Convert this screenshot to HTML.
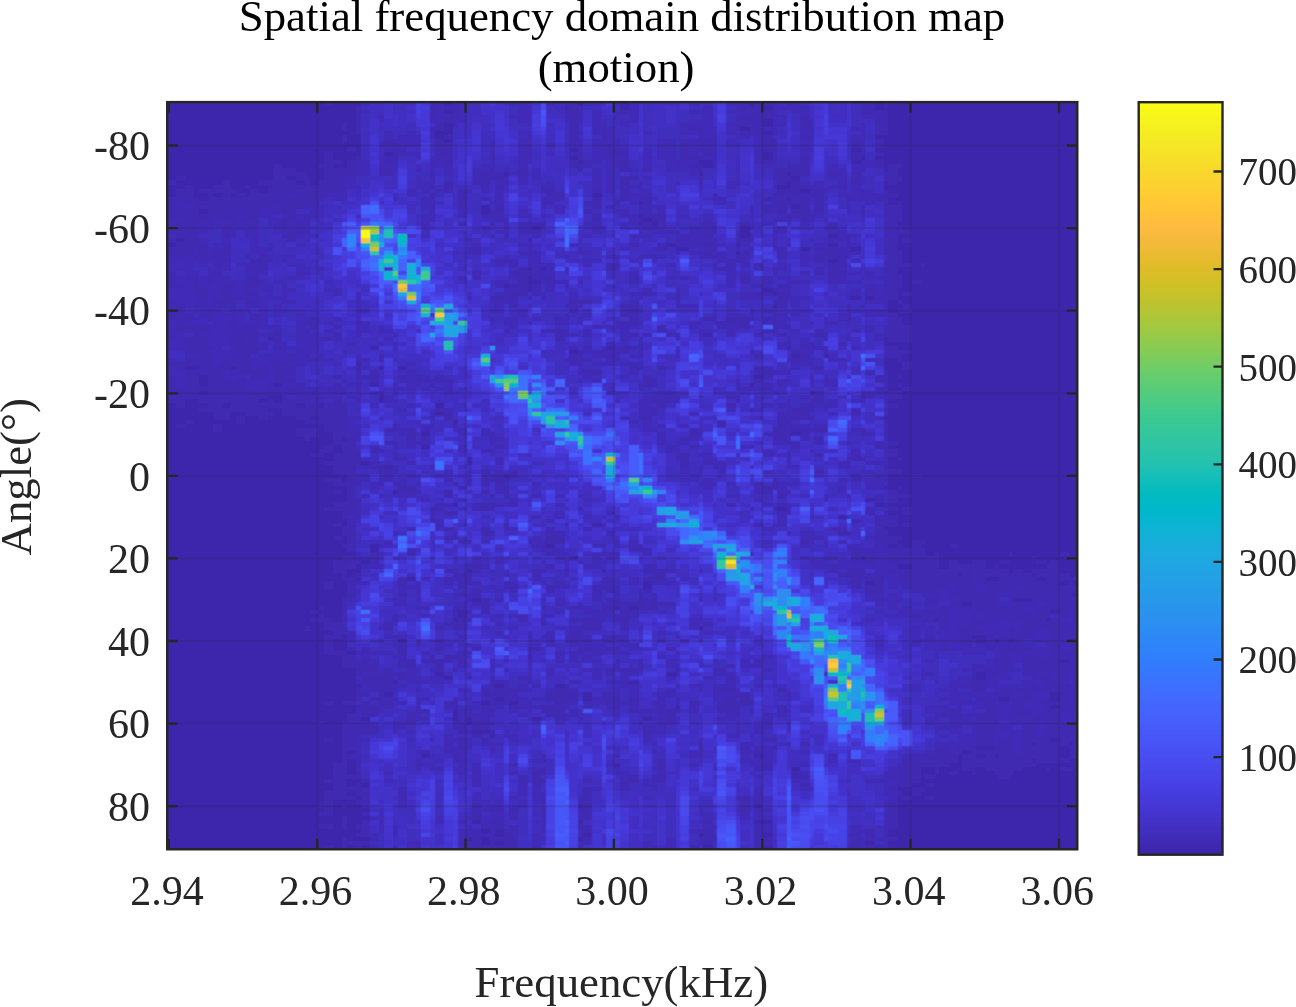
<!DOCTYPE html>
<html lang="en"><head><meta charset="utf-8"><title>Spatial frequency domain distribution map (motion)</title>
<style>html,body{margin:0;padding:0;background:#fff}body{width:1296px;height:1007px;overflow:hidden}svg{display:block}text{font-family:"Liberation Serif","Times New Roman",serif;fill:#262626}</style></head><body>
<svg width="1296" height="1007" viewBox="0 0 1296 1007">
<rect width="1296" height="1007" fill="#fff"/>
<g font-size="44.8" text-anchor="middle" style="fill:#000"><text x="622" y="30.8" style="fill:#000">Spatial frequency domain distribution map</text><text x="616.1" y="82.4" style="fill:#000">(motion)</text></g>
<clipPath id="axclip"><rect x="167.2" y="102.1" width="910.1" height="747.2"/></clipPath>
<filter id="soft" x="0" y="0" width="100%" height="100%" filterUnits="objectBoundingBox"><feConvolveMatrix order="3" kernelMatrix="0.04 0.12 0.04 0.12 0.36 0.12 0.04 0.12 0.04" edgeMode="duplicate" preserveAlpha="true"/></filter>
<g clip-path="url(#axclip)" filter="url(#soft)">
<rect x="164.2" y="99.1" width="916.1" height="753.2" fill="#3e27ac"/>
<g transform="translate(166.60 102.10) scale(4.6270 4.1282) translate(0 .5)" shape-rendering="crispEdges" fill="none" stroke-width="1.02">
<path stroke="#3f29b2" d="M34 0h2M62 0h1M86 0h3M90 0h2M124 0h2M127 0h4M134 0h1M150 0h3M155 0h1M41 1h1M57 1h1M60 1h3M87 1h2M124 1h5M151 1h2M155 1h1M41 2h1M57 2h1M62 2h1M86 2h3M98 2h2M113 2h2M127 2h4M150 2h3M155 2h1M41 3h1M57 3h1M60 3h3M87 3h3M124 3h7M137 3h2M153 3h3M41 4h1M57 4h1M60 4h2M87 4h2M123 4h6M137 4h2M153 4h3M38 5h1M41 5h1M58 5h2M87 5h2M94 5h1M111 5h2M123 5h4M137 5h2M153 5h3M38 6h1M41 6h1M57 6h3M87 6h2M94 6h1M113 6h3M127 6h2M137 6h3M153 6h3M41 7h1M87 7h2M94 7h1M115 7h1M124 7h2M127 7h2M131 7h1M139 7h1M153 7h3M38 8h1M60 8h2M78 8h1M87 8h2M94 8h1M115 8h1M118 8h1M129 8h2M137 8h2M38 9h1M47 9h2M58 9h2M87 9h2M94 9h1M111 9h2M115 9h4M129 9h3M148 9h2M47 10h5M58 10h4M78 10h1M87 10h2M111 10h2M115 10h1M129 10h2M148 10h2M153 10h2M39 11h2M49 11h3M58 11h4M78 11h1M95 11h3M111 11h2M115 11h4M129 11h3M137 11h2M34 12h2M49 12h1M58 12h4M70 12h1M78 12h1M87 12h3M95 12h5M111 12h2M116 12h2M148 12h3M34 13h2M41 13h1M49 13h1M70 13h1M89 13h1M111 13h5M137 13h2M148 13h2M34 14h4M39 14h3M47 14h3M60 14h2M87 14h2M97 14h3M129 14h2M137 14h2M153 14h2M23 15h2M33 15h3M39 15h2M57 15h1M87 15h3M98 15h2M110 15h1M113 15h3M134 15h5M150 15h1M153 15h2M156 15h3M23 16h5M34 16h7M47 16h2M70 16h1M73 16h1M76 16h2M89 16h1M98 16h2M103 16h2M115 16h1M123 16h1M132 16h7M150 16h1M156 16h2M23 17h7M34 17h7M47 17h2M68 17h2M76 17h2M131 17h3M135 17h4M143 17h2M148 17h2M155 17h3M2 18h2M23 18h3M28 18h3M34 18h4M57 18h1M68 18h2M71 18h2M98 18h4M115 18h1M132 18h3M148 18h3M155 18h4M0 19h2M12 19h2M20 19h8M30 19h1M33 19h6M60 19h2M66 19h4M73 19h1M98 19h2M115 19h1M132 19h2M135 19h2M148 19h2M156 19h2M4 20h2M10 20h4M17 20h1M22 20h17M57 20h1M60 20h2M68 20h2M71 20h2M81 20h1M131 20h1M135 20h4M145 20h2M2 21h4M7 21h8M18 21h2M22 21h16M52 21h2M81 21h3M92 21h2M98 21h2M132 21h5M139 21h3M150 21h1M155 21h1M2 22h4M9 22h1M12 22h2M15 22h2M18 22h8M28 22h6M57 22h1M63 22h2M82 22h4M98 22h2M118 22h1M131 22h6M139 22h3M155 22h3M0 23h7M9 23h3M14 23h19M63 23h2M68 23h2M92 23h2M98 23h2M102 23h3M118 23h3M129 23h3M137 23h2M140 23h2M147 23h1M150 23h1M153 23h3M0 24h2M4 24h29M63 24h2M81 24h3M92 24h2M97 24h1M103 24h2M132 24h3M137 24h2M140 24h2M155 24h1M158 24h1M0 25h4M6 25h17M25 25h6M57 25h1M63 25h2M71 25h2M92 25h2M102 25h1M129 25h2M132 25h2M137 25h2M140 25h2M155 25h4M0 26h7M9 26h11M25 26h3M57 26h1M70 26h3M103 26h2M129 26h2M132 26h2M135 26h4M140 26h2M150 26h1M155 26h4M0 27h15M17 27h3M26 27h2M30 27h3M57 27h1M68 27h2M92 27h2M98 27h2M103 27h5M134 27h6M155 27h4M0 28h2M4 28h6M12 28h8M25 28h3M30 28h1M71 28h2M92 28h2M102 28h1M105 28h3M132 28h3M137 28h2M142 28h1M156 28h3M2 29h5M9 29h1M14 29h1M23 29h3M28 29h2M63 29h2M70 29h1M76 29h3M81 29h1M103 29h2M116 29h2M124 29h2M143 29h2M156 29h2M2 30h5M12 30h2M25 30h1M68 30h2M92 30h2M103 30h2M132 30h2M142 30h3M156 30h3M0 31h2M4 31h3M12 31h2M26 31h5M76 31h5M110 31h1M115 31h1M118 31h1M131 31h3M156 31h5M2 32h4M12 32h2M25 32h3M70 32h1M73 32h1M111 32h2M116 32h2M123 32h1M126 32h1M147 32h1M155 32h1M0 33h2M4 33h3M26 33h2M110 33h1M118 33h1M123 33h4M131 33h1M147 33h1M155 33h3M159 33h2M2 34h7M12 34h2M66 34h2M76 34h2M100 34h2M113 34h2M116 34h3M131 34h1M134 34h1M147 34h1M156 34h2M0 35h6M7 35h2M10 35h4M65 35h3M78 35h1M89 35h1M106 35h2M118 35h1M126 35h1M132 35h2M140 35h7M155 35h3M0 36h6M7 36h2M12 36h2M66 36h2M76 36h2M89 36h1M116 36h2M124 36h2M132 36h2M142 36h3M147 36h1M155 36h4M0 37h4M6 37h3M10 37h2M17 37h1M20 37h2M97 37h1M102 37h1M105 37h1M116 37h3M123 37h3M132 37h2M140 37h2M143 37h4M156 37h3M0 38h2M7 38h2M12 38h2M18 38h4M71 38h2M78 38h1M119 38h2M140 38h2M145 38h2M155 38h4M10 39h2M17 39h1M20 39h2M74 39h2M79 39h2M95 39h3M118 39h1M121 39h2M127 39h2M143 39h4M156 39h5M163 39h1M17 40h5M76 40h2M95 40h2M119 40h4M143 40h2M155 40h3M0 41h2M10 41h2M28 41h2M74 41h8M137 41h2M140 41h2M143 41h4M151 41h2M156 41h2M0 42h2M4 42h3M9 42h1M17 42h3M66 42h2M76 42h2M81 42h3M100 42h2M111 42h2M124 42h2M134 42h1M143 42h2M155 42h4M0 43h2M6 43h1M9 43h1M18 43h4M73 43h1M76 43h2M82 43h2M100 43h2M124 43h2M129 43h2M135 43h2M143 43h2M156 43h3M161 43h2M0 44h4M6 44h1M12 44h3M17 44h3M25 44h1M74 44h4M79 44h2M86 44h1M127 44h2M132 44h2M155 44h4M6 45h3M12 45h2M17 45h1M26 45h2M36 45h2M76 45h2M79 45h2M110 45h1M131 45h1M151 45h2M155 45h3M6 46h3M12 46h2M17 46h3M25 46h1M74 46h4M103 46h2M110 46h1M127 46h4M132 46h3M156 46h2M159 46h2M7 47h2M12 47h6M23 47h2M41 47h1M70 47h3M74 47h2M78 47h1M110 47h1M132 47h2M153 47h2M156 47h2M0 48h2M7 48h2M10 48h5M17 48h3M26 48h2M41 48h1M87 48h5M110 48h1M131 48h3M158 48h1M0 49h4M6 49h3M10 49h5M18 49h2M74 49h2M86 49h1M98 49h4M110 49h1M132 49h2M150 49h1M159 49h2M0 50h4M9 50h1M14 50h1M41 50h1M100 50h2M126 50h1M147 50h1M153 50h2M158 50h3M0 51h2M4 51h2M7 51h3M18 51h2M98 51h2M131 51h1M135 51h2M153 51h2M156 51h2M0 52h6M9 52h1M14 52h1M18 52h2M31 52h2M74 52h2M84 52h2M89 52h1M100 52h2M116 52h3M121 52h6M147 52h1M156 52h3M2 53h2M14 53h1M31 53h2M41 53h1M78 53h1M98 53h4M121 53h2M124 53h2M131 53h1M142 53h1M156 53h3M2 54h7M14 54h1M17 54h3M31 54h2M92 54h2M98 54h2M106 54h2M119 54h2M123 54h3M131 54h1M156 54h5M0 55h10M15 55h3M23 55h2M30 55h1M82 55h4M106 55h2M129 55h2M148 55h2M155 55h6M0 56h2M6 56h1M14 56h6M22 56h3M36 56h2M84 56h3M100 56h2M110 56h1M132 56h2M140 56h3M153 56h8M0 57h2M4 57h5M14 57h3M18 57h2M23 57h2M34 57h2M84 57h2M134 57h1M147 57h1M156 57h5M4 58h5M14 58h8M31 58h2M46 58h1M134 58h1M137 58h3M4 59h6M15 59h5M23 59h2M98 59h2M155 59h3M4 60h5M14 60h6M28 60h2M89 60h1M98 60h2M110 60h1M126 60h1M135 60h2M142 60h1M155 60h6M7 61h3M14 61h4M26 61h2M30 61h1M33 61h1M87 61h2M94 61h3M102 61h1M127 61h2M137 61h2M155 61h4M4 62h6M12 62h2M15 62h3M22 62h1M26 62h4M31 62h2M41 62h1M46 62h1M87 62h5M135 62h2M145 62h2M158 62h1M0 63h10M12 63h6M23 63h3M89 63h1M100 63h2M139 63h1M159 63h2M2 64h2M7 64h7M15 64h3M20 64h2M23 64h2M26 64h2M41 64h1M100 64h2M106 64h2M127 64h2M140 64h2M159 64h2M4 65h3M9 65h3M14 65h8M23 65h5M41 65h1M44 65h2M92 65h2M129 65h3M134 65h1M151 65h2M155 65h1M0 66h2M4 66h3M9 66h3M18 66h4M23 66h3M42 66h4M50 66h2M54 66h1M58 66h2M103 66h2M153 66h2M158 66h1M0 67h2M4 67h3M9 67h5M15 67h2M23 67h5M44 67h2M54 67h1M103 67h3M127 67h2M153 67h2M0 68h2M4 68h3M9 68h8M18 68h2M22 68h1M28 68h2M41 68h1M57 68h1M103 68h2M123 68h1M158 68h1M0 69h17M22 69h3M26 69h4M41 69h1M123 69h1M153 69h2M159 69h2M0 70h7M9 70h6M17 70h8M26 70h4M31 70h2M36 70h2M46 70h1M140 70h2M150 70h1M155 70h4M2 71h20M25 71h1M30 71h4M108 71h2M121 71h2M140 71h2M151 71h2M155 71h4M0 72h4M7 72h13M22 72h1M25 72h6M36 72h2M41 72h1M102 72h1M105 72h3M110 72h1M123 72h1M140 72h2M155 72h1M2 73h2M9 73h3M14 73h14M30 73h3M36 73h3M106 73h2M121 73h2M137 73h3M156 73h2M7 74h15M25 74h14M58 74h2M105 74h1M135 74h4M148 74h2M155 74h1M10 75h4M17 75h6M25 75h14M60 75h2M105 75h1M137 75h2M148 75h2M155 75h1M10 76h4M15 76h2M20 76h2M28 76h3M33 76h6M57 76h1M60 76h2M103 76h2M132 76h2M135 76h5M4 77h2M15 77h2M30 77h9M119 77h2M132 77h3M155 77h1M2 78h2M10 78h2M34 78h5M41 78h1M49 78h1M62 78h1M111 78h2M119 78h2M132 78h2M10 79h2M28 79h5M34 79h5M47 79h3M52 79h2M63 79h2M113 79h2M131 79h3M135 79h4M140 79h3M150 79h1M155 79h1M28 80h5M36 80h3M41 80h1M52 80h2M68 80h2M113 80h2M132 80h2M150 80h1M155 80h1M30 81h1M36 81h2M39 81h2M52 81h2M55 81h2M111 81h2M131 81h3M140 81h2M155 81h1M36 82h5M54 82h1M134 82h3M147 82h1M153 82h2M156 82h2M34 83h2M38 83h3M71 83h2M108 83h2M113 83h2M153 83h3M33 84h3M38 84h3M44 84h2M68 84h2M155 84h3M31 85h3M36 85h2M39 85h3M110 85h3M115 85h1M129 85h2M140 85h2M156 85h2M36 86h6M49 86h1M111 86h2M134 86h1M148 86h2M158 86h1M34 87h8M111 87h2M116 87h2M36 88h5M44 88h3M49 88h1M111 88h2M115 88h1M118 88h1M36 89h5M46 89h1M49 89h1M68 89h2M74 89h2M140 89h2M150 89h1M156 89h3M39 90h2M47 90h2M52 90h2M71 90h2M74 90h2M148 90h2M153 90h2M161 90h2M34 91h4M39 91h3M65 91h1M68 91h6M131 91h1M148 91h2M155 91h1M36 92h6M46 92h1M62 92h1M68 92h2M71 92h2M127 92h2M131 92h1M39 93h2M50 93h4M73 93h1M129 93h3M158 93h1M36 94h2M39 94h2M52 94h2M60 94h2M68 94h2M73 94h1M129 94h2M156 94h2M39 95h2M60 95h2M70 95h1M79 95h2M132 95h2M153 95h2M156 95h5M39 96h3M55 96h2M156 96h2M36 97h6M68 97h3M74 97h2M121 97h2M132 97h2M155 97h1M34 98h7M57 98h3M66 98h4M89 98h1M156 98h2M159 98h2M38 99h3M57 99h1M60 99h3M134 99h1M151 99h2M155 99h1M159 99h2M38 100h1M41 100h1M79 100h2M139 100h1M153 100h5M39 101h2M57 101h1M148 101h2M153 101h5M36 102h2M39 102h2M58 102h2M73 102h1M153 102h5M159 102h2M38 103h3M52 103h2M60 103h2M68 103h2M73 103h1M143 103h4M38 104h3M68 104h2M82 104h2M145 104h3M153 104h3M36 105h2M39 105h2M60 105h3M82 105h4M139 105h3M153 105h6M39 106h2M63 106h2M82 106h4M137 106h2M153 106h5M161 106h3M38 107h3M81 107h1M94 107h1M147 107h1M155 107h1M158 107h1M161 107h2M169 107h2M52 108h2M100 108h2M148 108h3M155 108h9M44 109h2M52 109h2M82 109h2M94 109h1M148 109h2M151 109h2M156 109h8M166 109h1M182 109h1M193 109h2M38 110h3M44 110h2M148 110h2M151 110h4M156 110h11M187 110h1M36 111h5M44 111h2M71 111h2M89 111h1M139 111h1M148 111h2M151 111h2M156 111h11M169 111h2M174 111h3M180 111h2M188 111h2M191 111h2M36 112h3M65 112h3M82 112h2M90 112h2M105 112h1M143 112h2M161 112h6M169 112h8M179 112h1M190 112h3M36 113h3M60 113h2M79 113h2M86 113h1M103 113h2M106 113h4M147 113h4M156 113h18M175 113h7M183 113h2M187 113h6M38 114h1M41 114h1M62 114h4M79 114h2M86 114h1M105 114h3M145 114h5M153 114h2M158 114h5M164 114h2M167 114h4M172 114h2M175 114h12M188 114h7M38 115h3M50 115h2M60 115h2M65 115h1M94 115h3M103 115h5M148 115h2M151 115h4M158 115h16M175 115h2M180 115h8M190 115h8M34 116h2M39 116h3M50 116h2M63 116h5M73 116h1M94 116h3M105 116h1M148 116h2M153 116h2M159 116h4M164 116h29M195 116h1M34 117h2M63 117h2M74 117h2M82 117h4M94 117h1M148 117h2M151 117h4M159 117h10M171 117h4M177 117h6M185 117h13M39 118h2M54 118h1M66 118h2M92 118h2M95 118h3M151 118h4M161 118h6M169 118h6M177 118h21M39 119h2M50 119h2M63 119h2M66 119h2M102 119h1M166 119h1M169 119h10M182 119h14M38 120h1M68 120h2M95 120h3M102 120h1M105 120h1M153 120h2M164 120h3M171 120h9M182 120h1M187 120h11M38 121h1M66 121h4M84 121h2M97 121h6M105 121h5M164 121h2M169 121h3M174 121h5M183 121h5M190 121h8M33 122h1M38 122h1M62 122h1M68 122h2M89 122h1M94 122h3M102 122h4M167 122h2M172 122h2M175 122h7M183 122h2M187 122h11M31 123h2M62 123h1M65 123h1M68 123h2M94 123h1M98 123h4M164 123h5M175 123h12M188 123h3M193 123h2M196 123h2M33 124h1M38 124h1M62 124h1M76 124h2M81 124h1M98 124h2M161 124h5M167 124h2M174 124h1M177 124h5M183 124h8M193 124h2M31 125h5M38 125h1M49 125h1M63 125h2M87 125h2M90 125h4M97 125h3M164 125h2M167 125h2M174 125h6M182 125h8M191 125h2M196 125h2M34 126h4M47 126h2M60 126h5M81 126h1M90 126h2M116 126h2M167 126h2M174 126h3M179 126h1M185 126h10M196 126h2M30 127h1M34 127h5M46 127h3M58 127h2M62 127h1M89 127h5M98 127h2M167 127h2M171 127h4M182 127h1M185 127h11M38 128h1M87 128h3M171 128h6M179 128h1M182 128h6M191 128h7M34 129h4M49 129h1M78 129h1M87 129h3M95 129h2M110 129h1M164 129h2M172 129h2M177 129h2M180 129h7M191 129h7M34 130h2M46 130h1M58 130h2M78 130h1M82 130h2M87 130h2M90 130h2M95 130h2M98 130h2M106 130h2M161 130h2M164 130h2M171 130h4M177 130h2M180 130h2M183 130h2M190 130h6M34 131h2M50 131h2M54 131h1M87 131h2M167 131h2M172 131h2M177 131h2M180 131h5M191 131h7M34 132h2M39 132h2M42 132h2M50 132h2M58 132h2M66 132h2M79 132h2M89 132h3M95 132h3M108 132h2M167 132h2M177 132h2M180 132h7M191 132h2M195 132h3M34 133h5M42 133h2M50 133h2M89 133h1M92 133h2M180 133h2M183 133h2M191 133h7M38 134h3M57 134h1M60 134h5M87 134h2M90 134h2M180 134h2M185 134h3M190 134h8M38 135h3M42 135h2M50 135h4M57 135h3M63 135h2M78 135h1M118 135h1M127 135h2M179 135h3M185 135h8M195 135h3M38 136h8M50 136h4M58 136h2M78 136h1M102 136h1M115 136h1M121 136h2M126 136h1M174 136h3M179 136h3M185 136h13M41 137h5M47 137h2M58 137h2M62 137h1M95 137h2M98 137h5M110 137h1M118 137h1M174 137h1M177 137h6M185 137h5M191 137h7M41 138h1M47 138h2M50 138h2M78 138h1M95 138h2M110 138h1M118 138h1M164 138h2M174 138h1M177 138h3M185 138h3M190 138h1M193 138h2M196 138h2M42 139h7M50 139h2M65 139h1M70 139h1M76 139h3M116 139h2M121 139h2M174 139h1M177 139h2M187 139h4M193 139h2M42 140h4M47 140h2M54 140h1M70 140h1M87 140h2M98 140h2M174 140h3M190 140h3M44 141h5M70 141h1M86 141h1M100 141h2M110 141h1M172 141h5M187 141h1M190 141h5M44 142h5M68 142h2M71 142h2M74 142h4M84 142h2M119 142h4M132 142h2M174 142h3M180 142h10M191 142h4M41 143h3M46 143h1M68 143h6M82 143h7M94 143h1M123 143h3M179 143h4M185 143h2M193 143h2M196 143h2M41 144h1M44 144h3M70 144h1M73 144h3M79 144h2M82 144h4M87 144h2M95 144h3M100 144h2M106 144h2M121 144h2M124 144h2M171 144h1M175 144h5M182 144h5M190 144h1M193 144h2M196 144h2M34 145h2M38 145h3M42 145h2M46 145h3M54 145h1M60 145h3M70 145h4M78 145h1M84 145h3M95 145h3M100 145h2M113 145h2M121 145h2M124 145h3M172 145h2M177 145h2M180 145h2M183 145h2M188 145h7M196 145h2M41 146h5M47 146h2M60 146h3M68 146h2M74 146h2M79 146h5M86 146h1M90 146h2M97 146h1M106 146h2M119 146h5M171 146h1M177 146h3M183 146h2M190 146h1M193 146h5M42 147h4M54 147h3M63 147h3M68 147h3M81 147h5M87 147h2M100 147h2M103 147h2M106 147h5M119 147h5M132 147h2M166 147h1M169 147h3M177 147h3M182 147h5M190 147h6M39 148h2M42 148h4M52 148h2M65 148h1M82 148h4M108 148h2M166 148h6M175 148h5M183 148h4M188 148h2M191 148h2M39 149h2M84 149h2M108 149h2M166 149h1M169 149h3M175 149h5M182 149h1M187 149h6M33 150h1M38 150h3M42 150h2M49 150h1M52 150h2M66 150h5M102 150h1M129 150h2M175 150h5M187 150h1M190 150h5M196 150h2M38 151h8M49 151h1M62 151h3M66 151h2M103 151h2M167 151h4M175 151h4M180 151h2M185 151h3M190 151h8M38 152h8M63 152h3M70 152h1M103 152h2M123 152h1M175 152h4M182 152h1M185 152h3M190 152h8M38 153h3M66 153h2M123 153h1M175 153h4M182 153h1M185 153h3M190 153h5M196 153h2M34 154h2M38 154h4M63 154h3M68 154h2M115 154h1M129 154h3M175 154h4M180 154h3M185 154h6M193 154h5M38 155h3M60 155h2M63 155h3M115 155h1M134 155h1M137 155h2M175 155h8M185 155h2M188 155h7M196 155h2M38 156h3M63 156h2M70 156h1M115 156h1M124 156h2M131 156h1M166 156h3M171 156h4M179 156h4M185 156h8M195 156h3M38 157h1M55 157h2M60 157h2M115 157h1M127 157h2M166 157h3M171 157h1M174 157h9M185 157h8M195 157h3M38 158h4M62 158h1M97 158h1M115 158h1M164 158h7M172 158h3M177 158h2M180 158h13M195 158h3M38 159h1M41 159h1M54 159h1M62 159h1M81 159h1M115 159h1M159 159h12M172 159h15M188 159h7M36 160h3M41 160h1M54 160h1M106 160h2M129 160h2M159 160h10M172 160h16M36 161h3M54 161h1M58 161h2M81 161h1M129 161h2M158 161h5M166 161h1M172 161h3M177 161h8M190 161h1M193 161h3M36 162h3M41 162h1M66 162h2M74 162h2M79 162h3M135 162h2M158 162h5M166 162h1M169 162h2M174 162h1M179 162h4M36 163h6M76 163h2M79 163h2M100 163h2M105 163h3M135 163h4M156 163h7M164 163h2M180 163h2M34 164h5M42 164h2M66 164h2M76 164h2M79 164h3M90 164h2M100 164h2M105 164h1M158 164h5M36 165h3M41 165h1M79 165h2M98 165h2M105 165h1M137 165h2M158 165h3M164 165h2M36 166h6M90 166h2M156 166h2M161 166h3M34 167h5M41 167h3M50 167h2M81 167h1M90 167h2M127 167h2M158 167h1M161 167h2M34 168h7M42 168h2M50 168h2M81 168h1M89 168h3M123 168h3M127 168h2M159 168h2M164 168h2M34 169h2M41 169h3M81 169h1M89 169h1M124 169h2M127 169h2M156 169h2M33 170h3M38 170h1M66 170h2M90 170h2M124 170h2M156 170h2M34 171h2M66 171h2M70 171h3M74 171h2M81 171h1M90 171h2M115 171h1M124 171h2M127 171h2M156 171h2M33 172h3M42 172h2M66 172h2M81 172h1M90 172h2M124 172h2M156 172h2M38 173h1M66 173h2M71 173h2M74 173h2M89 173h3M156 173h2M38 174h1M42 174h2M70 174h3M116 174h2M156 174h2M33 175h3M38 175h1M41 175h1M68 175h5M74 175h2M81 175h1M89 175h3M127 175h2M156 175h2M42 176h2M65 176h3M74 176h2M90 176h2M115 176h3M127 176h2M151 176h2M41 177h1M65 177h3M70 177h1M73 177h1M89 177h1M116 177h2M127 177h2M148 177h2M151 177h2M38 178h1M44 178h2M66 178h2M70 178h6M90 178h2M115 178h3M127 178h4M156 178h2M38 179h3M42 179h2M54 179h1M63 179h5M70 179h1M73 179h3M115 179h3M127 179h4M148 179h2M34 180h2M38 180h1M41 180h1M54 180h1M65 180h11M79 180h2M89 180h1M113 180h2M127 180h2M148 180h2M151 180h4"/>
<path stroke="#402bb7" d="M42 0h2M57 0h3M63 0h2M74 0h4M82 0h2M92 0h2M97 0h1M100 0h2M113 0h2M121 0h3M131 0h1M135 0h2M58 1h2M63 1h2M76 1h3M84 1h2M89 1h1M100 1h2M116 1h2M123 1h1M131 1h8M150 1h1M42 2h2M58 2h2M63 2h2M76 2h3M89 2h1M92 2h2M97 2h1M100 2h2M115 2h3M121 2h6M131 2h1M135 2h4M153 2h2M46 3h1M58 3h2M63 3h2M74 3h5M86 3h1M92 3h2M97 3h1M100 3h2M116 3h2M123 3h1M131 3h3M150 3h3M46 4h1M58 4h2M62 4h3M76 4h3M86 4h1M89 4h1M92 4h3M98 4h4M113 4h5M131 4h3M139 4h1M62 5h1M78 5h1M92 5h2M98 5h2M113 5h5M121 5h2M127 5h2M131 5h3M139 5h1M150 5h1M92 6h2M95 6h2M111 6h2M116 6h3M121 6h3M126 6h1M129 6h3M148 6h3M47 7h2M52 7h2M57 7h1M76 7h3M89 7h1M92 7h2M95 7h2M103 7h2M111 7h4M116 7h3M121 7h3M126 7h1M137 7h2M150 7h1M47 8h2M50 8h5M57 8h1M95 8h2M116 8h2M123 8h3M127 8h2M139 8h1M148 8h3M49 9h6M70 9h1M76 9h3M89 9h1M92 9h2M95 9h3M106 9h4M113 9h2M121 9h2M127 9h2M137 9h3M150 9h1M153 9h2M46 10h1M52 10h3M70 10h1M76 10h2M82 10h2M89 10h1M92 10h6M106 10h4M113 10h2M116 10h3M121 10h3M127 10h2M131 10h1M137 10h2M150 10h1M47 11h2M70 11h1M76 11h2M89 11h1M92 11h3M98 11h2M103 11h2M106 11h4M113 11h2M127 11h2M139 11h1M150 11h1M50 12h5M76 12h2M82 12h2M92 12h3M103 12h2M106 12h4M113 12h2M118 12h1M127 12h2M131 12h1M137 12h2M153 12h2M46 13h3M54 13h1M57 13h5M76 13h3M92 13h8M103 13h2M106 13h4M116 13h3M123 13h1M127 13h2M131 13h1M42 14h2M46 14h1M57 14h3M70 14h1M76 14h3M90 14h4M95 14h2M103 14h2M108 14h7M118 14h1M123 14h1M127 14h2M131 14h1M134 14h1M150 14h3M41 15h3M46 15h4M54 15h1M58 15h4M68 15h3M76 15h2M90 15h2M95 15h3M103 15h2M108 15h2M111 15h2M118 15h1M123 15h1M129 15h3M143 15h2M148 15h2M151 15h2M41 16h3M46 16h1M49 16h1M54 16h1M57 16h1M60 16h2M66 16h4M79 16h2M92 16h2M95 16h2M100 16h2M108 16h7M131 16h1M143 16h4M148 16h2M41 17h3M46 17h1M57 17h1M60 17h2M66 17h2M70 17h3M74 17h2M79 17h2M92 17h2M95 17h2M113 17h2M123 17h1M145 17h2M38 18h3M54 18h1M66 18h2M70 18h1M73 18h1M76 18h2M79 18h2M92 18h2M95 18h2M103 18h2M123 18h1M131 18h1M143 18h4M39 19h2M54 19h4M71 19h2M76 19h2M82 19h2M92 19h2M95 19h2M102 19h1M110 19h1M121 19h3M137 19h2M140 19h2M145 19h2M150 19h1M39 20h3M54 20h3M82 20h2M92 20h2M95 20h2M98 20h5M115 20h1M121 20h2M139 20h3M143 20h2M148 20h2M38 21h1M41 21h1M55 21h2M58 21h4M63 21h3M68 21h2M71 21h2M95 21h2M102 21h3M142 21h1M145 21h2M148 21h2M151 21h2M26 22h2M34 22h5M52 22h2M71 22h2M100 22h5M137 22h2M145 22h10M12 23h2M33 23h1M36 23h3M49 23h1M55 23h3M71 23h2M81 23h5M100 23h2M132 23h2M135 23h2M139 23h1M142 23h1M148 23h2M151 23h2M2 24h2M55 24h3M70 24h3M90 24h2M100 24h2M119 24h2M131 24h1M135 24h2M147 24h1M151 24h2M4 25h2M23 25h2M31 25h3M55 25h2M81 25h1M84 25h2M95 25h2M103 25h5M126 25h1M131 25h1M147 25h1M150 25h1M20 26h5M31 26h3M63 26h2M76 26h2M84 26h2M90 26h2M97 26h3M102 26h1M106 26h2M126 26h1M131 26h1M147 26h1M15 27h2M20 27h3M25 27h1M28 27h2M33 27h1M55 27h2M63 27h2M70 27h3M76 27h3M81 27h1M100 27h2M110 27h3M116 27h2M126 27h1M132 27h2M140 27h2M150 27h1M2 28h2M10 28h2M22 28h3M28 28h2M55 28h3M70 28h1M73 28h1M100 28h2M116 28h2M131 28h1M139 28h1M155 28h1M0 29h2M7 29h2M10 29h4M15 29h5M22 29h1M26 29h2M30 29h1M33 29h1M55 29h2M73 29h1M79 29h2M90 29h4M98 29h4M106 29h2M110 29h1M115 29h1M118 29h1M126 29h1M129 29h2M137 29h2M155 29h1M0 30h2M7 30h3M14 30h6M23 30h2M26 30h5M55 30h2M73 30h1M76 30h3M81 30h1M94 30h1M105 30h3M113 30h6M126 30h1M155 30h1M2 31h2M7 31h2M14 31h1M17 31h3M23 31h3M71 31h3M92 31h2M102 31h1M105 31h5M113 31h2M116 31h2M123 31h1M143 31h4M155 31h1M6 32h1M14 32h1M17 32h3M28 32h2M31 32h2M55 32h2M79 32h2M90 32h2M100 32h5M110 32h1M113 32h3M131 32h1M145 32h2M148 32h2M156 32h2M7 33h2M12 33h2M18 33h2M30 33h1M65 33h1M111 33h7M139 33h1M142 33h5M10 34h2M18 34h2M22 34h1M28 34h2M78 34h1M87 34h2M106 34h2M110 34h3M115 34h1M119 34h2M124 34h2M140 34h3M148 34h2M155 34h1M6 35h1M9 35h1M18 35h5M98 35h2M105 35h1M115 35h3M123 35h1M131 35h1M147 35h1M6 36h1M9 36h3M18 36h4M62 36h1M65 36h1M78 36h3M90 36h2M110 36h1M113 36h3M119 36h2M137 36h2M140 36h2M145 36h2M148 36h2M4 37h2M9 37h1M12 37h2M22 37h1M25 37h3M73 37h1M78 37h3M86 37h1M95 37h2M103 37h2M106 37h2M115 37h1M119 37h2M137 37h2M142 37h1M2 38h5M9 38h3M22 38h1M25 38h1M73 38h3M79 38h2M87 38h2M90 38h4M100 38h2M105 38h1M121 38h5M137 38h2M142 38h1M148 38h2M0 39h6M7 39h2M12 39h2M15 39h2M18 39h2M26 39h4M71 39h2M78 39h1M81 39h3M90 39h2M108 39h2M124 39h2M132 39h2M137 39h2M142 39h1M155 39h1M0 40h6M9 40h5M28 40h3M33 40h1M79 40h2M82 40h2M86 40h1M97 40h1M118 40h1M127 40h2M131 40h3M140 40h2M145 40h2M150 40h1M4 41h3M9 41h1M17 41h5M30 41h1M66 41h2M82 41h2M100 41h2M121 41h2M124 41h2M131 41h1M147 41h3M155 41h1M2 42h2M7 42h2M10 42h4M26 42h4M63 42h2M74 42h2M79 42h2M108 42h2M121 42h2M129 42h2M132 42h2M145 42h2M150 42h5M2 43h4M7 43h2M10 43h8M23 43h3M34 43h2M71 43h2M81 43h1M84 43h3M89 43h1M121 43h2M134 43h1M137 43h2M145 43h5M155 43h1M4 44h2M7 44h5M15 44h2M20 44h3M71 44h2M82 44h2M121 44h2M126 44h1M129 44h2M134 44h1M151 44h4M0 45h6M9 45h3M14 45h3M18 45h5M25 45h1M34 45h2M73 45h3M82 45h2M103 45h2M132 45h3M148 45h2M153 45h2M0 46h6M9 46h3M14 46h3M22 46h1M36 46h2M41 46h1M71 46h3M79 46h3M87 46h2M100 46h3M105 46h1M124 46h3M142 46h1M147 46h3M151 46h5M0 47h7M9 47h3M18 47h5M25 47h1M65 47h1M73 47h1M81 47h1M87 47h2M102 47h1M124 47h5M134 47h5M147 47h1M155 47h1M2 48h5M9 48h1M20 48h2M25 48h1M70 48h6M100 48h2M135 48h2M151 48h5M4 49h2M9 49h1M17 49h1M20 49h2M23 49h2M41 49h1M71 49h2M78 49h1M87 49h3M111 49h4M135 49h2M147 49h1M155 49h1M6 50h3M10 50h2M15 50h3M20 50h2M23 50h3M42 50h2M70 50h3M76 50h2M87 50h2M98 50h2M102 50h1M129 50h3M137 50h2M148 50h2M151 50h2M155 50h1M2 51h2M10 51h7M20 51h2M23 51h2M28 51h2M41 51h1M76 51h2M86 51h1M90 51h2M100 51h2M118 51h1M121 51h3M126 51h1M132 51h2M145 51h3M151 51h2M155 51h1M6 52h3M10 52h4M15 52h2M20 52h2M28 52h3M36 52h2M41 52h1M70 52h1M73 52h1M79 52h2M86 52h1M129 52h6M142 52h1M145 52h2M0 53h2M4 53h5M10 53h4M15 53h7M28 53h3M34 53h2M42 53h2M70 53h1M73 53h3M84 53h3M89 53h1M97 53h1M102 53h1M113 53h3M118 53h3M123 53h1M129 53h2M132 53h2M139 53h1M143 53h2M147 53h1M0 54h2M9 54h5M15 54h2M20 54h5M28 54h2M36 54h2M41 54h3M46 54h1M74 54h2M95 54h3M100 54h2M113 54h2M121 54h2M132 54h3M151 54h2M155 54h1M10 55h5M18 55h2M28 55h2M34 55h2M41 55h3M46 55h3M73 55h1M81 55h1M86 55h1M90 55h2M98 55h2M115 55h3M121 55h2M131 55h1M135 55h2M140 55h2M151 55h2M2 56h2M7 56h7M20 56h2M28 56h5M41 56h1M49 56h1M87 56h2M90 56h2M98 56h2M103 56h2M108 56h2M115 56h1M121 56h2M127 56h2M131 56h1M139 56h1M147 56h1M2 57h2M9 57h5M17 57h1M28 57h6M36 57h2M47 57h2M98 57h2M102 57h1M110 57h1M115 57h1M137 57h2M142 57h1M153 57h2M0 58h4M9 58h5M23 58h3M28 58h3M39 58h2M49 58h1M95 58h2M102 58h1M132 58h2M145 58h2M0 59h4M10 59h2M14 59h1M20 59h2M25 59h8M49 59h1M87 59h2M90 59h2M94 59h1M97 59h1M100 59h3M132 59h2M137 59h6M148 59h2M9 60h5M23 60h3M30 60h3M38 60h1M81 60h1M90 60h8M102 60h1M137 60h3M4 61h3M10 61h4M20 61h6M28 61h2M41 61h1M46 61h1M89 61h1M92 61h2M97 61h1M100 61h2M110 61h1M143 61h2M0 62h2M10 62h2M14 62h1M18 62h4M23 62h3M30 62h1M33 62h3M42 62h2M86 62h1M95 62h3M134 62h1M137 62h3M143 62h2M151 62h2M10 63h2M18 63h5M26 63h4M36 63h2M52 63h2M87 63h2M92 63h5M98 63h2M102 63h1M135 63h4M0 64h2M18 64h2M22 64h1M25 64h1M42 64h2M89 64h1M102 64h1M129 64h2M135 64h2M139 64h1M0 65h4M7 65h2M12 65h2M22 65h1M52 65h2M89 65h3M100 65h2M127 65h2M132 65h2M2 66h2M12 66h5M22 66h1M26 66h2M36 66h2M41 66h1M52 66h2M55 66h2M90 66h2M98 66h2M129 66h2M139 66h1M142 66h1M155 66h1M2 67h2M14 67h1M17 67h6M38 67h1M41 67h1M50 67h4M55 67h7M89 67h1M92 67h2M123 67h1M132 67h3M139 67h1M142 67h3M155 67h1M2 68h2M17 68h1M20 68h2M25 68h3M33 68h1M36 68h2M39 68h2M49 68h1M52 68h3M60 68h2M102 68h1M105 68h1M129 68h2M132 68h2M139 68h1M142 68h3M155 68h1M17 69h5M25 69h1M30 69h9M49 69h5M55 69h2M58 69h4M102 69h1M118 69h1M124 69h7M155 69h1M15 70h2M25 70h1M30 70h1M33 70h3M38 70h1M41 70h1M44 70h2M49 70h1M60 70h2M95 70h2M106 70h4M131 70h1M151 70h4M0 71h2M28 71h2M34 71h4M39 71h3M47 71h2M103 71h5M110 71h1M115 71h1M123 71h1M137 71h2M31 72h3M47 72h3M97 72h1M103 72h2M108 72h2M134 72h1M139 72h1M143 72h2M148 72h3M34 73h2M44 73h2M52 73h2M102 73h3M129 73h2M132 73h3M140 73h5M41 74h1M50 74h2M60 74h2M102 74h3M121 74h2M127 74h2M134 74h1M139 74h1M142 74h1M57 75h1M102 75h3M113 75h2M132 75h5M143 75h2M39 76h3M98 76h2M102 76h1M118 76h1M127 76h2M134 76h1M153 76h2M39 77h2M54 77h1M100 77h2M103 77h2M39 78h2M55 78h3M103 78h2M106 78h2M134 78h5M140 78h3M155 78h1M39 79h3M50 79h2M55 79h2M68 79h2M103 79h3M115 79h1M134 79h1M139 79h1M148 79h2M39 80h2M50 80h2M63 80h2M70 80h1M106 80h2M115 80h1M129 80h3M134 80h1M137 80h2M151 80h2M41 81h1M70 81h3M106 81h2M113 81h2M134 81h1M137 81h2M47 82h3M52 82h2M55 82h2M70 82h1M106 82h2M110 82h3M131 82h3M140 82h2M155 82h1M44 83h2M49 83h1M52 83h2M63 83h2M110 83h1M126 83h1M135 83h2M41 84h1M46 84h1M63 84h2M70 84h1M108 84h3M129 84h2M139 84h1M148 84h2M38 85h1M49 85h1M116 85h2M132 85h3M148 85h2M155 85h1M50 86h2M71 86h2M110 86h1M116 86h3M147 86h1M150 86h1M155 86h1M44 87h2M52 87h2M71 87h2M118 87h3M134 87h1M145 87h3M151 87h5M41 88h3M57 88h1M119 88h2M134 88h3M145 88h3M155 88h1M47 89h2M60 89h2M65 89h1M71 89h2M111 89h2M115 89h1M119 89h2M129 89h2M151 89h2M155 89h1M41 90h3M58 90h2M68 90h3M113 90h2M155 90h1M42 91h2M46 91h3M50 91h2M60 91h2M111 91h4M116 91h2M145 91h2M151 91h4M44 92h2M49 92h3M54 92h1M65 92h1M79 92h2M115 92h4M121 92h2M132 92h5M151 92h4M44 93h2M63 93h2M71 93h2M116 93h2M127 93h2M132 93h2M145 93h2M151 93h4M50 94h2M54 94h1M65 94h1M71 94h2M127 94h2M132 94h3M145 94h2M42 95h2M46 95h1M50 95h4M73 95h1M84 95h2M89 95h1M121 95h3M142 95h1M147 95h1M63 96h2M74 96h2M90 96h2M127 96h2M142 96h1M153 96h2M58 97h4M66 97h2M71 97h3M84 97h2M129 97h2M134 97h1M41 98h1M70 98h1M126 98h1M131 98h1M134 98h1M151 98h2M41 99h1M84 99h2M95 99h2M132 99h2M39 100h2M57 100h1M84 100h2M90 100h2M97 100h1M132 100h2M41 101h1M58 101h2M82 101h2M132 101h2M86 102h1M94 102h1M127 102h2M131 102h3M58 103h2M74 103h2M82 103h2M90 103h2M129 103h2M153 103h2M49 104h1M62 104h1M70 104h1M84 104h2M95 104h2M134 104h1M137 104h3M79 105h2M137 105h2M151 105h2M41 106h1M47 106h2M65 106h1M68 106h2M78 106h4M97 106h1M100 106h2M129 106h2M139 106h1M142 106h1M145 106h2M46 107h3M79 107h2M92 107h2M97 107h1M100 107h3M137 107h2M142 107h1M148 107h2M153 107h2M39 108h2M71 108h2M81 108h5M102 108h3M147 108h1M151 108h4M41 109h1M46 109h1M84 109h3M90 109h4M95 109h3M103 109h2M150 109h1M153 109h3M41 110h3M66 110h2M84 110h2M95 110h2M137 110h2M142 110h3M155 110h1M41 111h1M66 111h2M81 111h1M86 111h1M92 111h3M140 111h3M145 111h3M150 111h1M153 111h3M39 112h2M42 112h5M68 112h2M86 112h1M92 112h2M103 112h2M140 112h3M145 112h13M62 113h1M66 113h2M70 113h1M81 113h1M105 113h1M115 113h1M143 113h2M153 113h3M174 113h1M73 114h1M150 114h3M155 114h3M163 114h1M166 114h1M174 114h1M55 115h2M62 115h3M70 115h1M79 115h2M100 115h2M111 115h2M150 115h1M156 115h2M174 115h1M42 116h2M54 116h1M60 116h2M74 116h2M81 116h1M84 116h2M100 116h2M106 116h4M147 116h1M156 116h3M163 116h1M39 117h2M50 117h5M70 117h1M73 117h1M86 117h1M92 117h2M95 117h3M156 117h2M169 117h2M175 117h2M183 117h2M41 118h1M50 118h2M71 118h2M74 118h2M82 118h2M102 118h3M158 118h1M167 118h2M175 118h2M54 119h1M62 119h1M65 119h1M92 119h2M97 119h1M105 119h1M151 119h4M156 119h2M163 119h3M167 119h2M179 119h3M39 120h2M49 120h3M54 120h1M65 120h1M71 120h2M81 120h1M84 120h2M92 120h2M103 120h2M115 120h1M151 120h2M155 120h4M167 120h4M49 121h3M62 121h3M89 121h1M94 121h3M103 121h2M153 121h2M156 121h2M161 121h2M166 121h1M179 121h4M188 121h2M54 122h3M63 122h2M81 122h1M87 122h2M90 122h2M98 122h2M156 122h2M159 122h2M164 122h3M169 122h3M174 122h1M182 122h1M185 122h2M38 123h1M84 123h2M90 123h4M95 123h2M106 123h2M153 123h2M158 123h6M169 123h6M187 123h1M195 123h1M49 124h1M55 124h2M71 124h2M74 124h2M82 124h2M92 124h6M100 124h2M155 124h6M166 124h1M169 124h5M175 124h2M182 124h1M195 124h3M65 125h1M70 125h1M76 125h2M81 125h1M89 125h1M94 125h1M113 125h3M151 125h2M161 125h3M169 125h5M180 125h2M193 125h3M38 126h1M71 126h2M92 126h2M98 126h2M113 126h2M163 126h1M169 126h5M177 126h2M180 126h5M195 126h1M63 127h2M68 127h2M74 127h2M84 127h2M87 127h2M102 127h1M113 127h2M161 127h5M169 127h2M175 127h7M183 127h2M196 127h2M36 128h2M39 128h2M71 128h2M78 128h1M82 128h2M106 128h2M116 128h2M161 128h2M164 128h7M177 128h2M180 128h2M188 128h3M39 129h2M47 129h2M50 129h2M63 129h2M73 129h1M81 129h3M86 129h1M90 129h2M94 129h1M97 129h3M161 129h2M167 129h5M179 129h1M187 129h4M39 130h2M54 130h1M86 130h1M89 130h1M94 130h1M97 130h1M111 130h2M115 130h1M163 130h1M166 130h5M187 130h3M196 130h2M49 131h1M58 131h4M63 131h3M78 131h3M82 131h2M89 131h6M98 131h4M153 131h2M161 131h2M164 131h3M169 131h3M175 131h2M179 131h1M185 131h3M190 131h1M92 132h3M100 132h3M164 132h3M169 132h8M179 132h1M187 132h4M193 132h2M41 133h1M44 133h5M55 133h2M63 133h3M78 133h1M84 133h2M87 133h2M94 133h1M97 133h3M110 133h1M166 133h1M172 133h5M179 133h1M182 133h1M185 133h6M42 134h2M49 134h3M84 134h2M106 134h2M126 134h1M129 134h2M166 134h1M179 134h1M182 134h3M188 134h2M41 135h1M44 135h2M55 135h2M60 135h2M70 135h1M73 135h1M81 135h1M84 135h2M87 135h2M90 135h4M97 135h1M102 135h1M108 135h2M124 135h2M164 135h2M177 135h2M182 135h3M63 136h2M70 136h1M97 136h1M108 136h3M124 136h2M127 136h2M177 136h2M182 136h1M46 137h1M52 137h3M57 137h1M70 137h1M73 137h1M78 137h1M82 137h2M90 137h4M97 137h1M119 137h2M129 137h2M163 137h1M172 137h2M175 137h2M183 137h2M190 137h1M42 138h5M49 138h1M52 138h2M82 138h2M92 138h2M98 138h4M119 138h4M163 138h1M180 138h2M188 138h2M191 138h2M195 138h1M52 139h3M57 139h3M92 139h2M98 139h2M108 139h2M163 139h1M171 139h3M179 139h4M191 139h2M195 139h3M41 140h1M46 140h1M52 140h2M55 140h5M71 140h3M78 140h1M89 140h1M95 140h3M121 140h2M166 140h1M169 140h5M177 140h3M185 140h5M193 140h2M196 140h2M42 141h2M49 141h3M73 141h1M76 141h2M79 141h2M98 141h2M113 141h3M118 141h5M127 141h2M131 141h1M161 141h2M169 141h3M177 141h10M188 141h2M195 141h3M41 142h3M49 142h1M54 142h1M63 142h3M70 142h1M73 142h1M78 142h1M82 142h2M86 142h3M97 142h1M100 142h2M108 142h2M115 142h1M118 142h1M123 142h1M161 142h2M167 142h4M179 142h1M190 142h1M195 142h3M74 143h2M95 143h3M100 143h2M106 143h4M118 143h5M134 143h1M166 143h1M169 143h10M183 143h2M187 143h4M195 143h1M47 144h3M54 144h3M62 144h1M68 144h2M76 144h2M81 144h1M86 144h1M92 144h3M110 144h1M118 144h3M134 144h1M167 144h4M172 144h2M187 144h3M195 144h1M50 145h2M66 145h2M76 145h2M87 145h2M90 145h5M98 145h2M105 145h3M110 145h1M119 145h2M123 145h1M169 145h3M174 145h3M179 145h1M182 145h1M185 145h3M195 145h1M46 146h1M54 146h1M65 146h3M70 146h3M76 146h3M84 146h2M95 146h2M100 146h2M113 146h2M132 146h2M164 146h5M174 146h3M180 146h3M185 146h5M41 147h1M46 147h1M74 147h2M78 147h1M97 147h1M102 147h1M105 147h1M113 147h2M126 147h1M134 147h1M164 147h2M167 147h2M174 147h1M180 147h2M187 147h3M196 147h2M41 148h1M54 148h1M63 148h2M66 148h5M76 148h2M86 148h3M97 148h1M102 148h3M106 148h2M121 148h3M129 148h2M132 148h2M172 148h3M180 148h3M187 148h1M190 148h1M193 148h5M41 149h1M52 149h5M63 149h2M66 149h4M86 149h1M89 149h1M105 149h3M110 149h1M119 149h4M129 149h2M164 149h2M172 149h2M180 149h2M183 149h4M193 149h5M41 150h1M50 150h2M62 150h3M106 150h4M123 150h1M134 150h1M164 150h2M169 150h6M182 150h5M188 150h2M195 150h1M50 151h2M68 151h2M105 151h3M123 151h1M127 151h4M134 151h1M166 151h1M171 151h1M174 151h1M179 151h1M182 151h1M188 151h2M49 152h1M52 152h2M73 152h1M105 152h3M127 152h2M166 152h1M169 152h3M174 152h1M179 152h3M183 152h2M188 152h2M41 153h1M60 153h2M73 153h3M103 153h2M121 153h2M126 153h1M167 153h2M171 153h4M179 153h3M183 153h2M188 153h2M195 153h1M42 154h2M52 154h2M57 154h1M60 154h3M74 154h2M103 154h2M171 154h4M179 154h1M183 154h2M41 155h1M68 155h5M105 155h1M124 155h3M166 155h9M183 155h2M41 156h1M60 156h3M65 156h1M97 156h1M127 156h4M169 156h2M183 156h2M41 157h1M54 157h1M62 157h3M70 157h1M105 157h1M113 157h2M124 157h3M129 157h2M137 157h2M164 157h2M169 157h2M183 157h2M57 158h1M63 158h2M81 158h1M113 158h2M124 158h2M129 158h2M143 158h2M159 158h5M58 159h2M63 159h2M79 159h2M105 159h3M124 159h7M143 159h2M147 159h3M55 160h3M63 160h2M66 160h2M74 160h2M95 160h2M113 160h2M126 160h3M137 160h2M158 160h1M41 161h1M57 161h1M62 161h3M66 161h2M79 161h2M97 161h1M105 161h3M118 161h1M127 161h2M156 161h2M47 162h2M63 162h2M97 162h3M106 162h2M137 162h2M155 162h3M66 163h2M98 163h2M127 163h2M155 163h1M47 164h2M98 164h2M103 164h2M106 164h2M135 164h2M147 164h1M151 164h7M66 165h2M76 165h2M103 165h2M155 165h3M42 166h2M50 166h2M76 166h2M79 166h2M92 166h2M98 166h2M105 166h1M127 166h2M137 166h2M155 166h1M66 167h2M76 167h2M79 167h2M147 167h1M155 167h3M66 168h2M74 168h2M79 168h2M103 168h2M156 168h2M50 169h2M66 169h4M71 169h2M76 169h2M79 169h2M90 169h2M116 169h2M155 169h1M42 170h2M50 170h2M70 170h3M76 170h2M155 170h1M46 171h1M68 171h2M89 171h1M123 171h1M129 171h2M155 171h1M46 172h1M70 172h3M74 172h2M79 172h2M89 172h1M115 172h3M127 172h2M155 172h1M44 173h3M58 173h2M65 173h1M68 173h3M81 173h1M116 173h2M124 173h2M127 173h4M155 173h1M46 174h1M58 174h2M63 174h2M68 174h2M79 174h3M115 174h1M155 174h1M42 175h2M46 175h1M49 175h1M65 175h1M116 175h3M129 175h2M148 175h2M155 175h1M46 176h1M49 176h1M63 176h2M70 176h1M73 176h1M81 176h1M89 176h1M113 176h2M129 176h2M148 176h3M155 176h1M42 177h4M49 177h1M63 177h2M68 177h2M74 177h2M79 177h2M118 177h1M147 177h1M155 177h1M63 178h2M79 178h3M108 178h2M118 178h1M148 178h8M41 179h1M52 179h2M79 179h2M89 179h3M103 179h2M108 179h2M150 179h1M155 179h1M44 180h2M49 180h1M52 180h2M63 180h2M103 180h3M108 180h2M147 180h1M150 180h1M155 180h1"/>
<path stroke="#412dbd" d="M49 0h1M66 0h2M78 0h1M84 0h2M103 0h2M110 0h1M116 0h2M132 0h2M137 0h2M143 0h2M148 0h2M42 1h2M49 1h3M65 1h3M74 1h2M82 1h2M90 1h4M97 1h1M103 1h3M113 1h3M121 1h2M143 1h2M148 1h2M46 2h1M65 2h3M74 2h2M82 2h4M103 2h2M111 2h2M132 2h2M148 2h2M42 3h2M65 3h1M94 3h1M98 3h2M103 3h2M111 3h5M121 3h2M135 3h2M139 3h1M143 3h2M148 3h2M42 4h2M74 4h2M95 4h3M103 4h2M110 4h3M121 4h2M148 4h5M42 5h2M52 5h2M65 5h1M68 5h2M74 5h4M82 5h2M86 5h1M89 5h1M95 5h3M103 5h2M110 5h1M148 5h2M46 6h3M50 6h4M62 6h1M76 6h3M86 6h1M89 6h1M97 6h3M103 6h2M106 6h5M132 6h2M42 7h2M50 7h2M62 7h1M68 7h3M86 7h1M97 7h3M106 7h5M132 7h2M148 7h2M151 7h2M42 8h2M46 8h1M49 8h1M62 8h1M68 8h3M76 8h2M82 8h2M86 8h1M89 8h1M92 8h2M97 8h1M103 8h2M106 8h7M126 8h1M131 8h1M147 8h1M151 8h2M42 9h2M46 9h1M57 9h1M68 9h2M82 9h2M86 9h1M98 9h2M103 9h2M110 9h1M123 9h1M147 9h1M42 10h2M57 10h1M68 10h2M86 10h1M98 10h2M103 10h2M110 10h1M139 10h1M147 10h1M42 11h2M46 11h1M54 11h1M57 11h1M68 11h2M82 11h2M86 11h1M110 11h1M121 11h3M132 11h2M147 11h1M42 12h2M46 12h1M79 12h2M86 12h1M90 12h2M110 12h1M115 12h1M121 12h3M139 12h1M151 12h2M42 13h2M50 13h4M68 13h2M79 13h2M86 13h1M90 13h2M110 13h1M121 13h2M132 13h5M139 13h1M143 13h2M147 13h1M151 13h2M52 14h2M68 14h2M74 14h2M100 14h2M132 14h2M135 14h2M143 14h2M66 15h2M71 15h3M92 15h3M100 15h2M106 15h2M127 15h2M132 15h2M62 16h1M71 16h2M74 16h2M84 16h2M87 16h2M94 16h1M97 16h1M102 16h1M116 16h3M121 16h2M129 16h2M142 16h1M153 16h2M49 17h1M55 17h2M58 17h2M62 17h1M78 17h1M87 17h2M90 17h2M97 17h1M100 17h2M108 17h5M116 17h2M121 17h2M127 17h4M142 17h1M153 17h2M41 18h3M49 18h1M55 18h2M60 18h2M81 18h3M97 18h1M108 18h3M113 18h2M116 18h2M121 18h2M127 18h2M137 18h2M142 18h1M151 18h2M41 19h3M47 19h3M52 19h2M70 19h1M79 19h3M89 19h1M100 19h2M103 19h2M131 19h1M142 19h3M147 19h1M151 19h2M58 20h2M62 20h3M66 20h2M73 20h1M84 20h2M90 20h2M97 20h1M108 20h2M123 20h1M142 20h1M147 20h1M151 20h2M54 21h1M57 21h1M73 21h1M78 21h1M84 21h2M90 21h2M94 21h1M100 21h2M108 21h2M115 21h1M121 21h2M129 21h3M143 21h2M147 21h1M41 22h1M49 22h1M54 22h3M58 22h2M62 22h1M66 22h2M90 22h2M95 22h2M127 22h4M142 22h1M34 23h2M62 23h1M66 23h2M97 23h1M105 23h1M116 23h2M127 23h2M145 23h2M33 24h1M38 24h1M52 24h3M58 24h2M62 24h1M66 24h2M118 24h1M121 24h2M127 24h4M145 24h2M148 24h2M153 24h2M34 25h4M52 25h2M66 25h2M90 25h2M97 25h3M111 25h2M121 25h2M134 25h1M145 25h2M28 26h3M52 26h2M55 26h2M65 26h3M92 26h2M110 26h3M139 26h1M142 26h1M148 26h2M23 27h2M34 27h2M41 27h1M54 27h1M97 27h1M115 27h1M124 27h2M127 27h5M20 28h2M31 28h3M36 28h2M60 28h2M68 28h2M78 28h1M81 28h1M90 28h2M110 28h1M115 28h1M124 28h3M129 28h2M145 28h2M150 28h1M20 29h2M54 29h1M60 29h2M111 29h4M127 29h2M131 29h1M134 29h1M139 29h1M10 30h2M20 30h3M31 30h2M34 30h2M70 30h1M90 30h2M98 30h2M102 30h1M111 30h2M131 30h1M137 30h2M9 31h3M20 31h3M55 31h2M66 31h4M81 31h3M89 31h1M94 31h1M103 31h2M142 31h1M0 32h2M7 32h5M20 32h2M30 32h1M65 32h1M76 32h2M89 32h1M92 32h3M106 32h4M140 32h3M9 33h3M15 33h3M20 33h6M28 33h2M33 33h1M66 33h2M71 33h5M89 33h1M100 33h2M103 33h3M108 33h2M132 33h3M137 33h2M140 33h2M9 34h1M20 34h2M23 34h3M30 34h1M65 34h1M70 34h1M79 34h2M89 34h3M137 34h2M145 34h2M14 35h1M25 35h3M30 35h3M68 35h2M92 35h2M100 35h2M108 35h2M113 35h2M121 35h2M124 35h2M139 35h1M14 36h4M22 36h6M31 36h3M63 36h2M84 36h2M87 36h2M92 36h2M95 36h2M103 36h7M118 36h1M121 36h2M126 36h1M134 36h1M139 36h1M153 36h2M14 37h3M18 37h2M23 37h2M33 37h1M63 37h5M71 37h2M76 37h2M84 37h2M90 37h2M108 37h2M121 37h2M126 37h1M134 37h1M139 37h1M147 37h1M150 37h1M155 37h1M15 38h2M23 38h2M26 38h4M31 38h2M63 38h2M89 38h1M97 38h1M102 38h1M115 38h1M132 38h2M139 38h1M6 39h1M9 39h1M23 39h2M66 39h2M102 39h1M116 39h2M134 39h1M140 39h2M6 40h3M25 40h1M31 40h2M63 40h2M66 40h2M74 40h2M108 40h2M124 40h2M134 40h1M142 40h1M153 40h2M2 41h2M12 41h2M15 41h2M25 41h1M31 41h3M86 41h1M95 41h3M110 41h1M118 41h1M123 41h1M126 41h1M132 41h3M142 41h1M150 41h1M153 41h2M14 42h3M20 42h2M23 42h3M30 42h1M33 42h1M89 42h1M95 42h3M110 42h1M113 42h2M126 42h1M131 42h1M135 42h7M22 43h1M26 43h2M36 43h2M63 43h2M74 43h2M97 43h3M102 43h1M108 43h2M126 43h3M131 43h1M139 43h1M142 43h1M150 43h3M23 44h2M28 44h2M34 44h2M41 44h3M81 44h1M95 44h2M100 44h2M105 44h1M108 44h3M119 44h2M135 44h4M143 44h2M147 44h1M150 44h1M23 45h2M42 45h2M86 45h3M111 45h2M118 45h1M124 45h3M135 45h2M147 45h1M20 46h2M26 46h4M34 46h2M65 46h1M98 46h2M108 46h2M111 46h2M115 46h1M121 46h3M135 46h2M145 46h2M150 46h1M82 47h2M90 47h4M100 47h2M108 47h2M121 47h3M150 47h1M15 48h2M22 48h3M31 48h3M42 48h2M82 48h2M92 48h2M98 48h2M106 48h2M118 48h1M121 48h2M124 48h5M134 48h1M137 48h2M143 48h2M150 48h1M15 49h2M22 49h1M25 49h1M30 49h1M42 49h2M70 49h1M82 49h2M102 49h1M118 49h1M121 49h2M124 49h3M129 49h2M137 49h2M145 49h2M148 49h2M4 50h2M12 50h2M22 50h1M26 50h4M90 50h2M121 50h2M127 50h2M132 50h2M135 50h2M150 50h1M6 51h1M17 51h1M22 51h1M25 51h3M30 51h3M68 51h5M74 51h2M81 51h5M87 51h3M102 51h1M116 51h2M124 51h2M129 51h2M140 51h2M17 52h1M23 52h2M26 52h2M33 52h3M71 52h2M76 52h2M82 52h2M95 52h3M102 52h1M127 52h2M137 52h2M148 52h2M9 53h1M33 53h1M36 53h3M71 53h2M82 53h2M87 53h2M94 53h1M134 53h1M137 53h2M145 53h2M148 53h2M151 53h2M155 53h1M25 54h3M30 54h1M44 54h2M73 54h1M84 54h3M94 54h1M102 54h1M110 54h1M116 54h2M126 54h1M137 54h2M142 54h1M145 54h6M153 54h2M20 55h3M25 55h1M31 55h2M36 55h2M44 55h2M78 55h1M108 55h2M113 55h2M118 55h1M127 55h2M134 55h1M142 55h1M4 56h2M25 56h3M33 56h3M46 56h1M74 56h2M78 56h1M89 56h1M134 56h3M145 56h2M20 57h2M26 57h2M39 57h7M71 57h2M78 57h1M90 57h2M118 57h1M135 57h2M140 57h2M145 57h2M148 57h2M151 57h2M22 58h1M33 58h1M36 58h2M42 58h2M47 58h2M84 58h2M90 58h2M98 58h2M103 58h2M116 58h2M140 58h2M151 58h2M12 59h2M38 59h4M84 59h2M103 59h2M110 59h1M135 59h2M145 59h2M151 59h2M0 60h4M20 60h3M26 60h2M34 60h2M39 60h3M46 60h1M49 60h1M82 60h4M100 60h2M118 60h1M127 60h2M18 61h2M31 61h2M36 61h3M81 61h3M108 61h2M118 61h3M126 61h1M134 61h1M2 62h2M36 62h2M49 62h1M54 62h1M98 62h2M102 62h1M108 62h2M123 62h1M127 62h2M140 62h2M153 62h2M30 63h4M42 63h2M50 63h2M84 63h2M97 63h1M123 63h1M132 63h2M140 63h2M153 63h2M28 64h2M31 64h3M44 64h2M52 64h3M84 64h3M90 64h4M103 64h2M108 64h2M123 64h1M132 64h3M145 64h2M148 64h2M28 65h2M33 65h1M38 65h1M50 65h2M54 65h3M84 65h2M105 65h3M139 65h3M143 65h2M148 65h2M17 66h1M28 66h2M33 66h3M38 66h1M46 66h1M49 66h1M60 66h2M92 66h2M105 66h1M126 66h1M147 66h1M28 67h5M34 67h4M39 67h2M42 67h2M49 67h1M62 67h1M87 67h2M90 67h2M100 67h2M30 68h1M34 68h2M42 68h2M55 68h2M58 68h2M86 68h1M95 68h2M106 68h2M127 68h2M131 68h1M135 68h2M39 69h2M47 69h2M57 69h1M63 69h2M87 69h2M95 69h2M103 69h2M106 69h2M119 69h2M132 69h2M139 69h3M143 69h2M62 70h1M105 70h1M110 70h1M118 70h1M124 70h2M129 70h2M132 70h2M26 71h2M44 71h2M49 71h1M57 71h1M60 71h2M97 71h1M127 71h4M134 71h3M139 71h1M145 71h2M148 71h2M153 71h2M34 72h2M38 72h1M44 72h2M50 72h2M58 72h2M62 72h1M68 72h2M115 72h1M131 72h1M135 72h4M142 72h1M39 73h3M47 73h5M62 73h3M66 73h2M105 73h1M108 73h2M115 73h3M127 73h2M131 73h1M135 73h2M155 73h1M39 74h2M49 74h1M57 74h1M62 74h1M68 74h2M106 74h2M124 74h2M132 74h2M140 74h2M39 75h3M49 75h5M90 75h2M106 75h2M139 75h1M151 75h2M46 76h1M55 76h2M62 76h1M71 76h2M100 76h2M126 76h1M151 76h2M49 77h1M52 77h2M57 77h1M60 77h2M102 77h1M105 77h1M135 77h2M139 77h1M142 77h1M42 78h2M71 78h2M100 78h3M105 78h1M110 78h1M115 78h1M131 78h1M57 79h3M62 79h1M106 79h2M116 79h2M47 80h3M54 80h1M71 80h2M121 80h2M140 80h2M147 80h3M49 81h3M62 81h3M66 81h4M110 81h1M115 81h1M147 81h1M150 81h1M50 82h2M57 82h1M71 82h3M108 82h2M127 82h2M139 82h1M145 82h2M148 82h2M151 82h2M41 83h1M50 83h2M66 83h2M70 83h1M73 83h1M106 83h2M124 83h2M47 84h3M111 84h2M134 84h3M142 84h3M44 85h2M47 85h2M50 85h2M70 85h1M108 85h2M113 85h2M123 85h1M131 85h1M139 85h1M151 85h2M42 86h4M124 86h2M153 86h2M46 87h3M79 87h3M110 87h1M113 87h3M142 87h1M50 88h2M63 88h3M68 88h2M76 88h3M108 88h2M113 88h2M140 88h2M150 88h1M153 88h2M42 89h4M55 89h2M73 89h1M108 89h3M113 89h2M132 89h2M148 89h2M153 89h2M46 90h1M50 90h2M54 90h1M57 90h1M60 90h2M65 90h1M76 90h2M108 90h3M119 90h2M151 90h2M49 91h1M54 91h1M74 91h5M108 91h3M118 91h1M134 91h3M147 91h1M150 91h1M42 92h2M52 92h2M73 92h1M111 92h2M126 92h1M129 92h2M143 92h4M148 92h2M155 92h1M41 93h1M54 93h1M79 93h3M84 93h2M115 93h1M121 93h3M143 93h2M41 94h1M44 94h2M76 94h2M79 94h2M90 94h2M115 94h1M121 94h3M143 94h2M150 94h1M47 95h3M54 95h1M66 95h2M74 95h2M78 95h1M90 95h2M126 95h5M137 95h2M143 95h2M155 95h1M47 96h2M62 96h1M68 96h6M78 96h1M86 96h1M92 96h2M119 96h2M123 96h1M129 96h2M132 96h2M155 96h1M44 97h2M65 97h1M90 97h2M131 97h1M135 97h2M139 97h1M42 98h2M63 98h2M81 98h1M86 98h1M139 98h1M143 98h2M153 98h3M42 99h2M47 99h2M58 99h2M73 99h1M81 99h1M123 99h3M131 99h1M46 100h1M60 100h2M68 100h2M94 100h1M124 100h2M140 100h2M147 100h1M70 101h1M81 101h1M90 101h4M95 101h3M63 102h2M79 102h3M148 102h3M94 103h1M97 103h5M131 103h3M137 103h3M81 104h1M140 104h2M151 104h2M41 105h1M57 105h1M63 105h2M68 105h3M78 105h1M81 105h1M94 105h4M100 105h2M42 106h5M57 106h1M92 106h5M103 106h2M150 106h3M41 107h3M78 107h1M98 107h2M129 107h2M139 107h3M150 107h1M54 108h1M57 108h1M60 108h3M79 108h2M87 108h2M94 108h1M108 108h2M139 108h1M60 109h2M68 109h2M81 109h1M143 109h5M46 110h1M57 110h1M62 110h1M79 110h2M86 110h1M92 110h2M97 110h1M106 110h2M139 110h3M65 111h1M68 111h2M84 111h2M95 111h2M143 111h2M62 112h3M76 112h2M79 112h3M94 112h1M108 112h2M137 112h3M42 113h2M57 113h1M63 113h2M68 113h2M71 113h3M78 113h1M82 113h4M97 113h1M110 113h1M139 113h1M142 113h1M145 113h2M42 114h4M52 114h2M66 114h2M70 114h3M74 114h2M84 114h2M95 114h2M98 114h2M103 114h2M110 114h3M139 114h1M58 115h2M74 115h2M81 115h5M87 115h2M97 115h1M108 115h2M113 115h2M145 115h3M155 115h1M49 116h1M82 116h2M86 116h1M92 116h2M97 116h1M102 116h1M110 116h1M113 116h2M142 116h1M145 116h2M150 116h1M155 116h1M49 117h1M60 117h2M66 117h4M71 117h2M150 117h1M155 117h1M158 117h1M47 118h2M62 118h3M68 118h3M94 118h1M100 118h2M110 118h1M118 118h1M155 118h3M159 118h2M41 119h1M49 119h1M52 119h2M58 119h4M71 119h2M74 119h2M94 119h1M103 119h2M110 119h1M115 119h1M118 119h1M155 119h1M158 119h1M41 120h1M47 120h2M60 120h3M94 120h1M98 120h4M118 120h1M159 120h5M180 120h2M39 121h2M52 121h3M57 121h5M81 121h1M86 121h1M92 121h2M155 121h1M158 121h3M163 121h1M167 121h2M52 122h2M82 122h5M92 122h2M106 122h4M151 122h4M158 122h1M163 122h1M46 123h4M52 123h3M60 123h2M81 123h1M87 123h3M102 123h4M108 123h2M155 123h3M50 124h2M57 124h1M66 124h2M70 124h1M87 124h5M115 124h1M151 124h4M191 124h2M47 125h2M60 125h2M71 125h2M95 125h2M100 125h2M150 125h1M159 125h2M49 126h1M58 126h2M74 126h2M82 126h2M87 126h3M100 126h2M108 126h2M115 126h1M156 126h2M161 126h2M164 126h3M60 127h2M70 127h4M86 127h1M116 127h2M159 127h2M166 127h1M47 128h2M58 128h2M62 128h1M70 128h1M86 128h1M90 128h5M98 128h2M102 128h1M108 128h3M115 128h1M118 128h3M159 128h2M163 128h1M71 129h2M105 129h3M113 129h2M121 129h2M153 129h2M159 129h2M166 129h1M44 130h2M49 130h1M62 130h1M79 130h2M102 130h1M127 130h2M153 130h2M185 130h2M39 131h2M47 131h2M66 131h2M84 131h2M95 131h3M127 131h2M159 131h2M163 131h1M188 131h2M44 132h6M57 132h1M63 132h2M81 132h1M84 132h2M103 132h2M126 132h1M153 132h2M159 132h2M163 132h1M49 133h1M57 133h3M62 133h1M81 133h1M90 133h2M95 133h2M163 133h3M167 133h4M177 133h2M41 134h1M44 134h2M89 134h1M92 134h2M97 134h3M131 134h1M159 134h2M163 134h3M169 134h2M172 134h7M49 135h1M62 135h1M89 135h1M98 135h4M110 135h1M115 135h1M119 135h2M129 135h2M163 135h1M166 135h1M169 135h8M46 136h4M57 136h1M71 136h2M82 136h7M92 136h2M100 136h2M103 136h2M116 136h5M129 136h2M164 136h3M171 136h1M183 136h2M50 137h2M86 137h1M89 137h1M94 137h1M108 137h2M164 137h3M169 137h3M54 138h1M60 138h2M70 138h1M89 138h1M113 138h2M131 138h1M142 138h1M166 138h1M169 138h2M172 138h2M182 138h3M41 139h1M49 139h1M55 139h2M74 139h2M82 139h4M95 139h2M118 139h1M127 139h5M164 139h3M169 139h2M185 139h2M50 140h2M60 140h2M74 140h4M79 140h2M84 140h2M123 140h1M127 140h2M161 140h3M180 140h5M195 140h1M52 141h3M57 141h3M68 141h2M74 141h2M82 141h2M95 141h3M132 141h2M159 141h2M167 141h2M81 142h1M92 142h5M98 142h2M106 142h2M126 142h1M134 142h1M159 142h2M163 142h1M166 142h1M171 142h3M177 142h2M49 143h1M54 143h1M57 143h1M81 143h1M89 143h1M98 143h2M105 143h1M110 143h3M126 143h1M131 143h3M161 143h2M167 143h2M63 144h3M78 144h1M98 144h2M102 144h1M113 144h2M123 144h1M126 144h1M132 144h2M159 144h2M163 144h4M174 144h1M41 145h1M44 145h2M49 145h1M57 145h1M65 145h1M81 145h3M108 145h2M115 145h1M134 145h1M159 145h2M163 145h6M49 146h1M63 146h2M92 146h2M98 146h2M102 146h1M105 146h1M108 146h2M118 146h1M124 146h3M131 146h1M169 146h2M47 147h7M66 147h2M71 147h2M76 147h2M89 147h1M94 147h3M98 147h2M111 147h2M116 147h2M124 147h2M137 147h2M159 147h2M172 147h2M175 147h2M47 148h2M55 148h2M78 148h1M89 148h3M95 148h2M105 148h1M113 148h3M126 148h1M131 148h1M134 148h1M159 148h2M163 148h3M46 149h1M50 149h2M60 149h2M78 149h1M81 149h1M97 149h1M100 149h3M113 149h3M123 149h1M132 149h3M159 149h2M167 149h2M174 149h1M44 150h2M74 150h2M79 150h2M84 150h2M105 150h1M113 150h2M127 150h2M159 150h2M166 150h3M180 150h2M46 151h1M52 151h2M65 151h1M70 151h1M73 151h3M90 151h2M102 151h1M108 151h2M121 151h2M124 151h2M164 151h2M172 151h2M183 151h2M60 152h3M74 152h2M79 152h2M86 152h1M100 152h2M108 152h3M113 152h2M124 152h3M129 152h2M134 152h1M137 152h2M167 152h2M42 153h5M52 153h2M63 153h3M68 153h2M71 153h2M79 153h2M86 153h1M90 153h2M105 153h1M129 153h3M140 153h2M166 153h1M169 153h2M70 154h3M76 154h3M86 154h1M105 154h1M126 154h3M166 154h1M169 154h2M42 155h2M52 155h2M62 155h1M66 155h2M74 155h2M78 155h1M86 155h1M103 155h2M113 155h2M127 155h2M131 155h3M140 155h2M42 156h2M52 156h2M71 156h2M95 156h2M98 156h2M105 156h1M118 156h1M134 156h1M164 156h2M57 157h1M65 157h1M71 157h2M79 157h2M97 157h1M106 157h2M135 157h2M158 157h1M161 157h3M42 158h2M54 158h1M58 158h4M79 158h2M105 158h3M111 158h2M126 158h1M131 158h1M147 158h1M158 158h1M42 159h2M52 159h2M55 159h3M65 159h3M78 159h1M82 159h2M95 159h2M98 159h2M110 159h1M113 159h2M135 159h4M158 159h1M52 160h2M62 160h1M79 160h2M82 160h2M105 160h1M110 160h1M118 160h1M124 160h2M135 160h2M148 160h2M156 160h2M47 161h2M52 161h2M78 161h1M82 161h2M98 161h2M110 161h1M42 162h2M58 162h2M62 162h1M78 162h1M100 162h2M105 162h1M127 162h2M42 163h2M63 163h2M81 163h1M90 163h2M118 163h1M147 163h1M151 163h4M50 164h2M58 164h2M63 164h2M92 164h2M127 164h2M137 164h2M50 165h2M81 165h1M92 165h2M97 165h1M100 165h2M106 165h2M123 165h1M127 165h2M153 165h2M58 166h2M68 166h2M100 166h2M103 166h2M106 166h2M123 166h1M139 166h1M153 166h2M58 167h2M70 167h1M89 167h1M98 167h2M103 167h7M124 167h2M153 167h2M58 168h2M70 168h3M76 168h2M98 168h2M105 168h1M108 168h2M116 168h2M147 168h1M155 168h1M58 169h2M74 169h2M92 169h2M108 169h2M115 169h1M129 169h2M147 169h1M58 170h2M68 170h2M74 170h2M81 170h1M103 170h3M108 170h2M115 170h3M126 170h1M147 170h3M50 171h4M58 171h2M76 171h2M79 171h2M116 171h2M147 171h4M50 172h4M58 172h2M65 172h1M68 172h2M76 172h2M129 172h2M52 173h2M63 173h2M76 173h2M79 173h2M105 173h1M108 173h2M148 173h2M151 173h2M49 174h1M52 174h2M65 174h1M73 174h1M76 174h2M103 174h2M108 174h2M113 174h2M148 174h2M73 175h1M76 175h2M79 175h2M103 175h3M108 175h2M147 175h1M150 175h5M52 176h2M76 176h2M79 176h2M105 176h1M108 176h2M118 176h1M147 176h1M153 176h2M46 177h1M52 177h2M58 177h2M76 177h2M81 177h1M103 177h3M108 177h2M113 177h2M153 177h2M46 178h1M49 178h1M52 178h2M103 178h3M113 178h2M147 178h1M44 179h3M81 179h1M105 179h1M113 179h2M118 179h1M147 179h1M153 179h2M46 180h1M115 180h1M118 180h1"/>
<path stroke="#422fc2" d="M44 0h3M50 0h4M65 0h1M73 0h1M94 0h1M105 0h5M115 0h1M145 0h2M44 1h3M106 1h2M110 1h1M139 1h1M145 1h2M44 2h2M49 2h5M94 2h1M105 2h3M110 2h1M134 2h1M139 2h1M143 2h4M44 3h2M50 3h2M66 3h4M82 3h4M95 3h2M105 3h3M110 3h1M145 3h2M47 4h2M50 4h2M65 4h5M105 4h3M118 4h1M135 4h2M143 4h4M46 5h3M50 5h2M57 5h1M63 5h2M70 5h1M100 5h2M105 5h5M118 5h1M135 5h2M151 5h2M42 6h2M49 6h1M63 6h3M68 6h2M74 6h2M82 6h2M100 6h2M135 6h2M151 6h2M46 7h1M49 7h1M54 7h1M63 7h3M82 7h2M100 7h2M105 7h1M147 7h1M63 8h3M98 8h2M105 8h1M113 8h2M121 8h2M132 8h2M135 8h2M105 9h1M124 9h3M135 9h2M151 9h2M62 10h1M105 10h1M124 10h3M132 10h2M135 10h2M151 10h2M52 11h2M62 11h1M79 11h2M90 11h2M105 11h1M135 11h2M57 12h1M62 12h1M68 12h2M132 12h5M142 12h1M147 12h1M62 13h1M71 13h2M74 13h2M82 13h4M102 13h1M105 13h1M142 13h1M66 14h2M71 14h2M79 14h2M82 14h5M94 14h1M102 14h1M105 14h3M121 14h2M139 14h1M142 14h1M52 15h2M55 15h2M74 15h2M79 15h2M82 15h5M102 15h1M105 15h1M121 15h2M142 15h1M145 15h2M52 16h2M55 16h2M58 16h2M78 16h1M82 16h2M105 16h3M127 16h2M151 16h2M52 17h3M81 17h5M94 17h1M102 17h3M106 17h2M118 17h1M150 17h3M44 18h5M52 18h2M62 18h1M78 18h1M84 18h2M94 18h1M102 18h1M111 18h2M118 18h1M129 18h2M147 18h1M62 19h1M78 19h1M84 19h2M90 19h2M94 19h1M97 19h1M108 19h2M118 19h1M124 19h2M139 19h1M153 19h2M42 20h2M47 20h3M52 20h2M65 20h1M70 20h1M76 20h2M79 20h2M94 20h1M103 20h2M118 20h1M150 20h1M153 20h2M39 21h2M62 21h1M70 21h1M76 21h2M79 21h2M123 21h1M127 21h2M153 21h2M39 22h2M65 22h1M68 22h2M76 22h3M81 22h1M94 22h1M97 22h1M110 22h1M115 22h1M121 22h2M143 22h2M41 23h1M50 23h2M54 23h1M65 23h1M70 23h1M78 23h1M95 23h2M34 24h2M39 24h2M46 24h1M50 24h2M65 24h1M84 24h3M106 24h2M110 24h1M139 24h1M142 24h1M150 24h1M62 25h1M65 25h1M70 25h1M76 25h2M82 25h2M100 25h2M110 25h1M127 25h2M142 25h1M148 25h2M153 25h2M34 26h5M78 26h1M81 26h1M95 26h2M100 26h2M105 26h1M116 26h2M127 26h2M151 26h2M58 27h2M62 27h1M66 27h2M73 27h1M82 27h2M90 27h2M118 27h1M142 27h8M151 27h4M54 28h1M66 28h2M79 28h2M111 28h4M118 28h1M135 28h2M140 28h2M147 28h3M34 29h2M66 29h2M71 29h2M97 29h1M108 29h2M123 29h1M142 29h1M145 29h2M150 29h1M33 30h1M57 30h1M66 30h2M71 30h2M100 30h2M108 30h2M127 30h2M135 30h2M139 30h1M145 30h2M15 31h2M33 31h1M63 31h2M90 31h2M127 31h2M140 31h2M15 32h2M22 32h3M68 32h2M78 32h1M95 32h2M105 32h1M118 32h3M127 32h4M132 32h2M137 32h3M151 32h2M14 33h1M63 33h2M76 33h2M81 33h1M119 33h2M148 33h2M153 33h2M14 34h4M31 34h2M58 34h2M71 34h2M82 34h2M94 34h1M97 34h3M102 34h3M121 34h2M129 34h2M132 34h2M139 34h1M153 34h2M15 35h3M23 35h2M28 35h2M33 35h1M62 35h3M70 35h3M76 35h2M79 35h2M82 35h4M90 35h2M95 35h3M102 35h3M150 35h1M153 35h2M28 36h3M68 36h3M73 36h1M81 36h1M86 36h1M100 36h3M135 36h2M150 36h1M30 37h1M62 37h1M74 37h2M87 37h2M92 37h2M98 37h4M113 37h2M135 37h2M14 38h1M17 38h1M30 38h1M62 38h1M66 38h2M70 38h1M86 38h1M118 38h1M22 39h1M25 39h1M30 39h3M60 39h2M63 39h2M68 39h3M73 39h1M106 39h2M115 39h1M131 39h1M139 39h1M147 39h1M150 39h1M14 40h3M22 40h3M34 40h2M100 40h2M115 40h1M129 40h2M147 40h3M151 40h2M7 41h2M14 41h1M23 41h2M26 41h2M68 41h2M98 41h2M105 41h1M108 41h2M119 41h2M22 42h1M34 42h2M62 42h1M71 42h3M90 42h2M98 42h2M123 42h1M127 42h2M142 42h1M147 42h3M39 43h3M62 43h1M70 43h1M110 43h1M113 43h2M132 43h2M153 43h2M26 44h2M36 44h2M70 44h1M89 44h1M97 44h1M111 44h2M124 44h2M131 44h1M148 44h2M28 45h2M70 45h1M81 45h1M90 45h2M94 45h6M102 45h1M119 45h4M127 45h2M137 45h2M143 45h4M23 46h2M30 46h1M33 46h1M70 46h1M82 46h4M137 46h2M26 47h10M76 47h2M84 47h3M89 47h1M111 47h2M129 47h3M139 47h1M142 47h5M28 48h3M39 48h2M79 48h3M84 48h3M139 48h1M145 48h5M26 49h4M31 49h3M39 49h2M44 49h2M68 49h2M76 49h2M84 49h2M106 49h2M116 49h2M127 49h2M140 49h2M143 49h2M151 49h4M18 50h2M30 50h3M68 50h2M74 50h2M108 50h2M111 50h4M118 50h1M123 50h1M134 50h1M139 50h1M145 50h2M33 51h3M39 51h2M47 51h2M57 51h1M79 51h2M103 51h2M127 51h2M137 51h2M143 51h2M150 51h1M38 52h1M68 52h2M78 52h1M81 52h1M87 52h2M90 52h2M103 52h2M115 52h1M135 52h2M143 52h2M151 52h2M155 52h1M23 53h3M39 53h2M76 53h2M111 53h2M116 53h2M153 53h2M34 54h2M47 54h2M70 54h3M90 54h2M115 54h1M139 54h1M143 54h2M26 55h2M39 55h2M54 55h1M74 55h4M89 55h1M95 55h3M119 55h2M123 55h3M132 55h2M143 55h5M153 55h2M39 56h2M44 56h2M47 56h2M71 56h3M81 56h1M92 56h2M137 56h2M151 56h2M25 57h1M38 57h1M100 57h2M106 57h2M116 57h2M129 57h2M132 57h2M38 58h1M41 58h1M44 58h2M50 58h2M70 58h3M86 58h4M97 58h1M111 58h2M135 58h2M148 58h2M153 58h2M22 59h1M33 59h1M36 59h2M42 59h2M65 59h1M86 59h1M89 59h1M150 59h1M33 60h1M42 60h2M55 60h2M116 60h2M134 60h1M143 60h2M0 61h4M34 61h2M47 61h3M52 61h3M84 61h2M90 61h2M106 61h2M124 61h2M139 61h1M147 61h1M50 62h4M55 62h2M82 62h4M92 62h2M110 62h1M118 62h5M126 62h1M147 62h1M34 63h2M54 63h1M86 63h1M90 63h2M106 63h4M116 63h2M119 63h4M145 63h2M36 64h2M39 64h2M55 64h2M60 64h2M63 64h2M76 64h2M98 64h2M137 64h2M31 65h2M36 65h2M46 65h1M49 65h1M57 65h3M63 65h2M86 65h1M98 65h2M103 65h2M126 65h1M142 65h1M39 66h2M57 66h1M62 66h4M86 66h4M97 66h1M100 66h2M106 66h2M123 66h1M134 66h3M143 66h2M33 67h1M46 67h1M86 67h1M98 67h2M102 67h1M106 67h2M121 67h2M126 67h1M129 67h2M135 67h2M140 67h2M38 68h1M46 68h1M94 68h1M124 68h2M134 68h1M42 69h2M46 69h1M54 69h1M131 69h1M137 69h2M39 70h2M42 70h2M52 70h2M57 70h1M63 70h3M87 70h2M97 70h3M103 70h2M111 70h2M119 70h4M127 70h2M38 71h1M52 71h2M58 71h2M62 71h4M98 71h2M102 71h1M111 71h2M132 71h2M142 71h1M39 72h2M42 72h2M57 72h1M60 72h2M116 72h2M121 72h2M127 72h2M132 72h2M54 73h1M68 73h2M100 73h2M124 73h2M63 74h2M116 74h2M131 74h1M62 75h1M100 75h2M140 75h2M50 76h2M70 76h1M105 76h3M110 76h1M115 76h3M148 76h2M41 77h1M50 77h2M58 77h2M71 77h2M110 77h1M115 77h1M129 77h3M140 77h2M151 77h2M50 78h5M58 78h4M63 78h2M66 78h2M70 78h1M116 78h2M139 78h1M148 78h2M71 79h2M79 79h2M102 79h1M108 79h2M123 79h1M151 79h2M57 80h1M103 80h2M108 80h5M54 81h1M57 81h1M60 81h2M73 81h1M108 81h2M139 81h1M148 81h2M151 81h2M41 82h1M63 82h2M66 82h4M103 82h2M113 82h2M68 83h2M111 83h2M115 83h3M132 83h3M137 83h3M148 83h2M55 84h2M60 84h2M71 84h2M106 84h2M113 84h2M116 84h2M131 84h1M140 84h2M151 84h2M52 85h2M55 85h2M63 85h2M71 85h2M76 85h3M147 85h1M47 86h2M52 86h2M108 86h2M113 86h3M121 86h2M137 86h2M140 86h2M143 86h2M151 86h2M49 87h3M108 87h2M121 87h3M143 87h2M54 88h3M70 88h3M74 88h2M110 88h1M116 88h2M126 88h1M148 88h2M41 89h1M50 89h4M57 89h1M66 89h2M70 89h1M76 89h2M81 89h3M131 89h1M135 89h2M142 89h1M147 89h1M49 90h1M63 90h2M79 90h3M84 90h2M111 90h2M115 90h1M140 90h2M150 90h1M52 91h2M81 91h1M86 91h1M115 91h1M119 91h2M126 91h1M132 91h2M142 91h1M60 92h2M82 92h5M90 92h2M142 92h1M42 93h2M46 93h1M49 93h1M68 93h2M74 93h2M87 93h2M90 93h4M113 93h2M135 93h2M148 93h2M47 94h2M58 94h2M86 94h1M89 94h1M110 94h1M113 94h2M116 94h2M151 94h2M155 94h1M41 95h1M55 95h2M68 95h2M94 95h1M116 95h2M135 95h2M145 95h2M151 95h2M50 96h2M54 96h1M57 96h3M76 96h2M81 96h1M94 96h1M116 96h2M147 96h1M42 97h2M50 97h2M78 97h1M118 97h1M124 97h2M60 98h2M84 98h2M95 98h2M49 99h1M71 99h2M74 99h2M82 99h2M89 99h3M139 99h1M58 100h2M73 100h3M78 100h1M82 100h2M92 100h2M126 100h1M150 100h1M49 101h1M73 101h1M78 101h1M124 101h2M139 101h1M150 101h3M41 102h1M68 102h2M89 102h1M98 102h2M121 102h3M145 102h2M42 103h4M62 103h1M78 103h1M86 103h1M95 103h2M102 103h1M142 103h1M148 103h2M151 103h2M41 104h1M50 104h2M57 104h1M60 104h2M65 104h1M73 104h3M86 104h1M129 104h3M142 104h3M148 104h2M86 105h1M89 105h3M103 105h2M142 105h1M148 105h2M60 106h2M90 106h2M105 106h1M49 107h1M57 107h1M62 107h1M66 107h2M71 107h2M84 107h2M151 107h2M66 108h2M86 108h1M135 108h2M140 108h5M42 109h2M47 109h2M78 109h1M87 109h2M126 109h1M135 109h2M142 109h1M49 110h3M68 110h2M71 110h3M102 110h1M145 110h2M62 111h1M73 111h1M76 111h2M90 111h2M97 111h1M102 111h1M105 111h1M108 111h2M137 111h2M58 112h4M71 112h2M78 112h1M98 112h2M111 112h2M87 113h2M92 113h2M95 113h2M98 113h5M111 113h2M68 114h2M92 114h3M97 114h1M100 114h2M142 114h1M44 115h2M71 115h2M102 115h1M139 115h1M142 115h3M52 116h2M58 116h2M62 116h1M70 116h3M79 116h2M98 116h2M41 117h1M58 117h2M65 117h1M76 117h2M87 117h2M100 117h2M108 117h3M139 117h1M147 117h1M49 118h1M52 118h2M57 118h3M65 118h1M73 118h1M84 118h2M148 118h3M57 119h1M81 119h5M98 119h4M119 119h2M161 119h2M52 120h2M63 120h2M70 120h1M74 120h2M55 121h2M65 121h1M70 121h1M39 122h2M47 122h5M65 122h3M155 122h1M161 122h2M82 123h2M46 124h3M54 124h1M60 124h2M65 124h1M68 124h2M113 124h2M50 125h4M116 125h2M119 125h2M153 125h2M156 125h3M46 126h1M76 126h3M97 126h1M102 126h1M105 126h1M148 126h7M158 126h3M81 127h3M94 127h1M100 127h2M106 127h2M121 127h3M50 128h2M63 128h2M68 128h2M74 128h4M95 128h2M105 128h1M121 128h2M124 128h2M151 128h2M52 129h2M58 129h2M62 129h1M70 129h1M74 129h2M115 129h1M127 129h2M158 129h1M163 129h1M57 130h1M60 130h2M63 130h2M70 130h1M81 130h1M92 130h2M159 130h2M41 131h3M46 131h1M52 131h2M55 131h3M86 131h1M105 131h1M108 131h3M174 131h1M41 132h1M54 132h1M60 132h2M87 132h2M98 132h2M105 132h1M124 132h2M155 132h1M60 133h2M79 133h2M86 133h1M100 133h2M106 133h2M121 133h2M124 133h2M129 133h2M153 133h2M156 133h7M171 133h1M47 134h2M55 134h2M65 134h1M79 134h2M108 134h3M124 134h2M127 134h2M158 134h1M161 134h2M167 134h2M171 134h1M47 135h2M79 135h2M113 135h2M131 135h1M54 136h3M62 136h1M65 136h1M89 136h1M94 136h3M131 136h1M161 136h3M172 136h2M49 137h1M63 137h2M124 137h2M131 137h1M57 138h1M65 138h1M74 138h4M84 138h2M87 138h2M94 138h1M102 138h1M127 138h4M161 138h2M171 138h1M86 139h1M90 139h2M97 139h1M119 139h2M123 139h1M159 139h2M167 139h2M183 139h2M82 140h2M92 140h2M108 140h2M115 140h4M131 140h1M143 140h2M167 140h2M89 141h3M102 141h1M116 141h2M129 141h2M163 141h4M50 142h4M55 142h2M58 142h2M79 142h2M113 142h2M116 142h2M127 142h2M131 142h1M164 142h2M44 143h2M55 143h2M63 143h5M76 143h5M92 143h2M102 143h1M113 143h2M116 143h2M135 143h2M164 143h2M42 144h2M103 144h2M108 144h2M111 144h2M131 144h1M135 144h2M161 144h2M55 145h2M79 145h2M102 145h3M118 145h1M131 145h1M161 145h2M52 146h2M87 146h2M94 146h1M103 146h2M116 146h2M129 146h2M134 146h1M137 146h3M163 146h1M172 146h2M60 147h2M73 147h1M118 147h1M129 147h2M163 147h1M46 148h1M50 148h2M71 148h5M79 148h2M94 148h1M100 148h2M119 148h2M124 148h2M49 149h1M70 149h6M87 149h2M90 149h2M118 149h1M124 149h2M47 150h2M55 150h2M71 150h2M89 150h3M94 150h1M100 150h2M103 150h2M110 150h1M115 150h1M119 150h4M124 150h2M47 151h2M60 151h2M71 151h2M76 151h2M100 151h2M113 151h3M126 151h1M163 151h1M46 152h1M50 152h2M76 152h2M90 152h2M119 152h4M172 152h2M50 153h2M57 153h1M62 153h1M76 153h3M106 153h2M111 153h4M127 153h2M139 153h1M66 154h2M113 154h2M121 154h3M137 154h2M140 154h2M164 154h2M167 154h2M76 155h2M90 155h2M110 155h3M129 155h2M164 155h2M54 156h1M57 156h3M68 156h2M86 156h1M92 156h2M106 156h2M126 156h1M137 156h2M42 157h2M52 157h2M58 157h2M78 157h1M86 157h1M110 157h3M116 157h3M131 157h1M134 157h1M147 157h1M159 157h2M52 158h2M65 158h3M70 158h3M74 158h2M86 158h1M95 158h2M116 158h2M134 158h5M46 159h1M74 159h2M97 159h1M131 159h1M134 159h1M156 159h2M47 160h2M58 160h2M65 160h1M71 160h2M81 160h1M98 160h2M115 160h1M134 160h1M142 160h3M147 160h1M42 161h2M46 161h1M50 161h2M55 161h2M65 161h1M71 161h2M74 161h2M95 161h2M100 161h2M113 161h2M124 161h2M147 161h3M155 161h1M52 162h3M71 162h2M76 162h2M82 162h2M95 162h2M108 162h3M126 162h1M129 162h2M147 162h4M47 163h2M50 163h2M65 163h1M68 163h2M71 163h2M92 163h2M97 163h1M103 163h2M110 163h1M150 163h1M49 164h1M62 164h1M68 164h2M71 164h2M74 164h2M78 164h1M102 164h1M145 164h2M47 165h3M58 165h2M68 165h2M89 165h3M102 165h1M135 165h2M151 165h2M49 166h1M63 166h2M70 166h3M81 166h1M89 166h1M97 166h1M102 166h1M108 166h2M113 166h2M124 166h2M135 166h2M147 166h1M151 166h2M52 167h2M68 167h2M71 167h2M74 167h2M92 167h2M100 167h3M123 167h1M137 167h2M49 168h1M68 168h2M92 168h2M100 168h2M106 168h2M115 168h1M126 168h1M129 168h2M137 168h2M148 168h2M153 168h2M46 169h1M52 169h2M70 169h1M94 169h1M100 169h2M103 169h3M123 169h1M126 169h1M148 169h3M153 169h2M49 170h1M52 170h2M79 170h2M100 170h2M123 170h1M129 170h2M150 170h1M153 170h2M44 171h2M49 171h1M65 171h1M105 171h1M108 171h2M126 171h1M49 172h1M63 172h2M73 172h1M103 172h3M108 172h2M113 172h2M118 172h1M123 172h1M147 172h3M151 172h2M49 173h3M73 173h1M100 173h2M103 173h2M115 173h1M118 173h1M126 173h1M147 173h1M150 173h1M50 174h2M54 174h1M74 174h2M90 174h2M100 174h2M105 174h1M124 174h2M150 174h3M44 175h2M50 175h2M58 175h2M63 175h2M66 175h2M100 175h2M113 175h3M44 176h2M54 176h1M124 176h2M54 177h1M100 177h2M124 177h2M131 177h1M150 177h1M50 178h2M54 178h1M58 178h2M76 178h2M94 178h1M100 178h2M124 178h2M131 178h1M49 179h3M58 179h2M76 179h3M94 179h1M100 179h3M131 179h1M76 180h3M100 180h3M106 180h2M124 180h2M131 180h1"/>
<path stroke="#4331c8" d="M47 0h2M102 0h1M111 0h2M139 0h1M47 1h2M52 1h2M73 1h1M94 1h1M102 1h1M108 1h2M118 1h1M147 1h1M47 2h2M68 2h3M73 2h1M90 2h2M95 2h2M108 2h2M118 2h1M47 3h3M52 3h2M70 3h1M73 3h1M90 3h2M108 3h2M118 3h1M134 3h1M44 4h2M49 4h1M52 4h2M70 4h1M82 4h4M90 4h2M108 4h2M44 5h2M49 5h1M143 5h4M44 6h2M54 6h1M70 6h1M105 6h1M147 6h1M44 7h2M74 7h2M135 7h2M74 8h2M100 8h2M62 9h4M79 9h2M90 9h2M119 9h2M132 9h2M63 10h3M79 10h2M90 10h2M119 10h2M63 11h2M119 11h2M124 11h2M134 11h1M142 11h3M151 11h2M71 12h2M81 12h1M84 12h2M102 12h1M105 12h1M119 12h2M143 12h2M73 13h1M81 13h1M119 13h2M55 14h2M62 14h1M73 14h1M81 14h1M147 14h1M62 15h1M78 15h1M44 16h2M81 16h1M86 16h1M90 16h2M44 17h2M89 17h1M105 17h1M124 17h2M139 17h1M58 18h2M87 18h2M105 18h1M124 18h2M139 18h3M153 18h2M44 19h3M58 19h2M63 19h3M74 19h2M111 19h4M127 19h4M78 20h1M87 20h3M105 20h3M110 20h1M116 20h2M126 20h3M42 21h2M47 21h2M66 21h2M87 21h2M97 21h1M106 21h2M110 21h1M119 21h2M124 21h2M42 22h2M50 22h2M60 22h2M70 22h1M105 22h3M116 22h2M119 22h2M126 22h1M58 23h2M90 23h2M94 23h1M106 23h4M115 23h1M121 23h2M36 24h2M41 24h1M49 24h1M76 24h3M94 24h3M98 24h2M108 24h2M115 24h3M126 24h1M38 25h3M54 25h1M86 25h1M94 25h1M115 25h1M118 25h3M124 25h2M139 25h1M151 25h2M54 26h1M62 26h1M73 26h1M82 26h2M124 26h2M134 26h1M153 26h2M36 27h2M52 27h2M113 27h2M121 27h2M34 28h2M38 28h1M52 28h2M62 28h3M82 28h2M94 28h1M97 28h1M153 28h2M31 29h2M52 29h2M57 29h1M74 29h2M94 29h1M147 29h1M153 29h2M74 30h2M82 30h2M89 30h1M110 30h1M123 30h1M140 30h2M150 30h1M153 30h2M31 31h2M34 31h2M60 31h3M65 31h1M70 31h1M74 31h2M95 31h2M111 31h2M126 31h1M137 31h2M148 31h2M153 31h2M34 32h2M63 32h2M71 32h2M81 32h1M134 32h1M153 32h2M34 33h2M55 33h2M58 33h2M82 33h2M94 33h1M97 33h1M102 33h1M106 33h2M129 33h2M150 33h1M26 34h2M33 34h3M60 34h5M73 34h3M81 34h1M126 34h1M150 34h1M58 35h2M60 36h2M74 36h2M111 36h2M31 37h2M34 37h2M89 37h1M33 38h1M81 38h1M95 38h2M106 38h2M113 38h2M116 38h2M129 38h2M134 38h1M14 39h1M33 39h3M76 39h2M113 39h2M119 39h2M123 39h1M126 39h1M26 40h2M60 40h3M71 40h2M116 40h2M126 40h1M137 40h3M34 41h2M39 41h2M58 41h2M62 41h1M65 41h1M84 41h2M90 41h2M111 41h4M129 41h2M135 41h2M31 42h2M39 42h2M68 42h2M84 42h2M102 42h1M106 42h2M28 43h2M31 43h2M65 43h5M90 43h2M106 43h2M111 43h2M119 43h2M140 43h2M65 44h3M90 44h2M98 44h2M103 44h2M115 44h1M145 44h2M33 45h1M38 45h1M71 45h2M100 45h2M105 45h1M150 45h1M38 46h1M42 46h2M78 46h1M90 46h2M97 46h1M106 46h2M38 47h1M66 47h2M79 47h2M98 47h2M103 47h3M113 47h2M44 48h2M65 48h5M76 48h3M105 48h1M111 48h4M123 48h1M140 48h3M73 49h1M79 49h3M103 49h2M119 49h2M134 49h1M33 50h1M39 50h2M81 50h6M89 50h1M95 50h2M103 50h2M110 50h1M42 51h2M73 51h1M111 51h2M119 51h2M134 51h1M139 51h1M148 51h2M22 52h1M25 52h1M98 52h2M111 52h2M119 52h2M139 52h1M153 52h2M22 53h1M26 53h2M46 53h1M81 53h1M110 53h1M127 53h2M135 53h2M140 53h2M38 54h1M127 54h2M135 54h2M140 54h2M33 55h1M38 55h1M49 55h3M70 55h1M87 55h2M100 55h2M105 55h1M126 55h1M150 55h1M42 56h2M65 56h1M70 56h1M102 56h1M113 56h2M119 56h2M129 56h2M46 57h1M52 57h2M65 57h1M70 57h1M86 57h1M89 57h1M26 58h2M34 58h2M78 58h1M100 58h2M118 58h1M150 58h1M34 59h2M66 59h2M71 59h3M92 59h2M116 59h2M126 59h1M36 60h2M44 60h2M47 60h2M50 60h4M65 60h1M71 60h3M140 60h2M147 60h1M39 61h2M44 61h2M50 61h2M55 61h2M98 61h2M116 61h2M140 61h2M153 61h2M44 62h2M70 62h1M94 62h1M100 62h2M116 62h2M124 62h2M49 63h1M55 63h2M76 63h2M134 63h1M148 63h2M30 64h1M34 64h2M38 64h1M82 64h2M95 64h2M105 64h1M119 64h2M30 65h1M34 65h2M39 65h2M42 65h2M60 65h2M82 65h2M94 65h1M102 65h1M113 65h2M123 65h1M137 65h2M30 66h1M102 66h1M111 66h2M151 66h2M63 67h2M108 67h2M118 67h1M124 67h2M131 67h1M31 68h2M50 68h2M87 68h3M100 68h2M113 68h2M121 68h2M140 68h2M151 68h2M62 69h1M65 69h1M84 69h2M100 69h2M105 69h1M108 69h2M135 69h2M47 70h2M50 70h2M55 70h2M58 70h2M102 70h1M123 70h1M137 70h2M142 70h1M42 71h2M87 71h2M100 71h2M119 71h2M124 71h2M143 71h2M52 72h2M89 72h1M113 72h2M124 72h2M129 72h2M150 73h3M44 74h2M52 74h2M55 74h2M65 74h1M70 74h1M90 74h4M129 74h2M47 75h2M68 75h2M71 75h2M110 75h1M126 75h1M142 75h1M150 75h1M47 76h3M111 76h2M124 76h2M131 76h1M140 76h3M150 76h1M42 77h2M63 77h2M70 77h1M113 77h2M118 77h1M124 77h2M148 77h2M65 78h1M153 78h2M73 79h1M100 79h2M121 79h2M147 79h1M58 80h2M139 80h1M47 81h2M100 81h2M105 81h1M129 81h2M126 82h1M137 82h2M142 82h1M150 82h1M42 83h2M46 83h3M54 83h1M103 83h2M131 83h1M140 83h2M147 83h1M150 83h3M50 84h2M73 84h1M115 84h1M153 84h2M54 85h1M62 85h1M65 85h1M135 85h2M150 85h1M57 86h1M62 86h1M76 86h3M81 86h1M86 86h1M129 86h2M139 86h1M66 87h2M82 87h2M140 87h2M148 87h3M52 88h2M60 88h2M79 88h2M132 88h2M142 88h3M78 89h1M86 89h1M118 89h1M145 89h2M62 90h1M78 90h1M86 90h1M118 90h1M129 90h6M147 90h1M79 91h2M121 91h2M58 92h2M63 92h2M70 92h1M74 92h4M81 92h1M113 92h2M137 92h2M47 93h2M58 93h4M78 93h1M82 93h2M86 93h1M118 93h1M150 93h1M55 94h3M78 94h1M84 94h2M94 94h1M126 94h1M137 94h2M142 94h1M148 94h2M153 94h2M57 95h3M62 95h1M71 95h2M81 95h1M113 95h2M124 95h2M134 95h1M150 95h1M66 96h2M84 96h2M89 96h1M121 96h2M124 96h3M140 96h2M47 97h2M57 97h1M82 97h2M89 97h1M50 98h2M55 98h2M62 98h1M71 98h2M82 98h2M118 98h3M127 98h2M65 99h1M68 99h2M78 99h1M97 99h1M119 99h4M129 99h2M153 99h2M49 100h1M62 100h1M70 100h1M81 100h1M86 100h1M118 100h1M143 100h2M148 100h2M151 100h2M47 101h2M63 101h2M68 101h2M79 101h2M86 101h3M118 101h1M123 101h1M127 101h2M131 101h1M140 101h2M145 101h2M42 102h2M49 102h1M62 102h1M82 102h4M102 102h1M119 102h2M126 102h1M137 102h2M151 102h2M41 103h1M49 103h3M65 103h3M70 103h1M84 103h2M103 103h2M127 103h2M134 103h1M42 104h2M79 104h2M87 104h2M90 104h2M100 104h2M121 104h2M126 104h1M135 104h2M46 105h1M65 105h1M105 105h3M129 105h2M147 105h1M87 106h2M127 106h2M131 106h1M140 106h2M58 107h2M63 107h2M87 107h2M105 107h1M127 107h2M135 107h2M143 107h2M41 108h1M76 108h2M89 108h1M95 108h3M137 108h2M145 108h2M79 109h2M102 109h1M106 109h2M137 109h3M63 110h2M74 110h4M82 110h2M90 110h2M94 110h1M105 110h1M108 110h3M135 110h2M46 111h1M57 111h1M63 111h2M70 111h1M79 111h2M103 111h2M106 111h2M74 112h2M95 112h2M106 112h2M115 112h3M46 113h1M50 113h2M76 113h2M90 113h2M116 113h2M137 113h2M140 113h2M151 113h2M87 114h2M102 114h1M113 114h2M137 114h2M66 115h4M78 115h1M86 115h1M98 115h2M137 115h2M57 116h1M87 116h2M137 116h3M46 117h1M57 117h1M98 117h2M102 117h1M105 117h3M115 117h1M118 117h1M142 117h1M98 118h2M105 118h1M108 118h2M46 119h3M70 119h1M95 119h2M108 119h2M116 119h2M150 119h1M159 119h2M58 120h2M86 120h1M90 120h2M106 120h4M116 120h2M150 120h1M46 122h1M70 122h1M73 122h1M115 122h1M148 122h2M50 123h2M55 123h2M70 123h3M74 123h2M115 123h1M150 123h3M52 124h2M58 124h2M73 124h1M108 124h2M150 124h1M39 125h2M46 125h1M54 125h1M57 125h3M74 125h2M145 125h2M155 125h1M44 126h2M73 126h1M94 126h3M118 126h1M44 127h2M49 127h1M76 127h2M105 127h1M119 127h2M124 127h2M151 127h2M158 127h1M49 128h1M60 128h2M79 128h3M126 128h1M153 128h2M46 129h1M60 129h2M68 129h2M79 129h2M102 129h1M108 129h2M116 129h2M124 129h2M41 130h1M47 130h2M74 130h2M108 130h2M121 130h2M155 130h1M158 130h1M44 131h2M74 131h2M118 131h1M124 131h2M129 131h2M151 131h2M155 131h1M158 131h1M55 132h2M68 132h2M73 132h1M86 132h1M127 132h2M156 132h2M102 133h1M111 133h2M119 133h2M46 134h1M52 134h2M58 134h2M73 134h1M81 134h1M113 134h2M121 134h2M153 134h2M156 134h2M46 135h1M71 135h2M82 135h2M86 135h1M94 135h1M103 135h2M111 135h2M158 135h3M167 135h2M106 136h2M167 136h4M55 137h2M60 137h2M66 137h2M74 137h4M81 137h1M103 137h3M111 137h2M121 137h2M127 137h2M159 137h4M167 137h2M55 138h2M62 138h3M68 138h2M73 138h1M86 138h1M115 138h1M124 138h3M159 138h2M167 138h2M63 139h2M68 139h2M79 139h2M89 139h1M94 139h1M110 139h1M161 139h2M90 140h2M119 140h2M126 140h1M135 140h2M164 140h2M62 141h3M78 141h1M87 141h2M94 141h1M103 141h2M123 141h4M135 141h2M89 142h3M102 142h1M110 142h1M129 142h2M156 142h3M52 143h2M58 143h2M103 143h2M115 143h1M158 143h3M163 143h1M50 144h2M57 144h1M66 144h2M89 144h1M105 144h1M116 144h2M129 144h2M116 145h2M132 145h2M139 145h1M50 146h2M73 146h1M89 146h1M111 146h2M115 146h1M161 146h2M79 147h2M86 147h1M139 147h1M49 148h1M81 148h1M92 148h2M98 148h2M110 148h3M118 148h1M161 148h2M76 149h2M82 149h2M92 149h2M116 149h2M126 149h3M131 149h1M137 149h2M161 149h3M46 150h1M54 150h1M73 150h1M76 150h3M87 150h2M118 150h1M126 150h1M161 150h3M78 151h3M86 151h1M110 151h3M119 151h2M140 151h2M159 151h2M102 152h1M115 152h1M139 152h1M164 152h2M47 153h2M58 153h2M102 153h1M108 153h3M118 153h1M124 153h2M132 153h2M58 154h2M73 154h1M79 154h2M98 154h2M106 154h2M110 154h3M124 154h2M132 154h2M54 155h1M58 155h2M79 155h2M97 155h1M116 155h3M148 155h2M163 155h1M74 156h2M79 156h2M103 156h2M111 156h2M139 156h3M159 156h5M50 157h2M66 157h2M81 157h1M92 157h2M98 157h2M140 157h2M143 157h2M156 157h2M50 158h2M118 158h1M142 158h1M156 158h2M44 159h2M49 159h3M71 159h2M86 159h1M100 159h2M116 159h2M142 159h1M150 159h1M155 159h1M42 160h2M46 160h1M50 160h2M86 160h3M100 160h2M108 160h2M111 160h2M150 160h3M155 160h1M49 161h1M73 161h1M86 161h3M108 161h2M121 161h2M126 161h1M134 161h1M137 161h2M143 161h2M49 162h3M55 162h3M68 162h2M90 162h4M103 162h2M151 162h2M52 163h2M58 163h2M62 163h1M70 163h1M74 163h2M78 163h1M108 163h2M129 163h2M145 163h2M148 163h2M52 164h2M65 164h1M89 164h1M97 164h1M108 164h2M113 164h2M118 164h1M129 164h2M148 164h3M63 165h3M70 165h1M74 165h2M108 165h2M113 165h2M118 165h1M124 165h2M139 165h1M145 165h6M44 166h2M47 166h2M87 166h2M148 166h3M44 167h6M63 167h2M97 167h1M113 167h2M116 167h2M135 167h2M139 167h1M148 167h5M46 168h3M63 168h3M94 168h1M150 168h1M47 169h3M63 169h3M98 169h2M106 169h2M113 169h2M151 169h2M44 170h2M65 170h1M94 170h1M98 170h2M113 170h2M118 170h1M151 170h2M63 171h2M73 171h1M92 171h2M100 171h2M103 171h2M113 171h2M151 171h2M126 172h1M150 172h1M153 172h2M113 173h2M44 174h2M106 174h2M118 174h1M126 174h1M147 174h1M52 175h2M94 175h1M102 175h1M106 175h2M124 175h3M131 175h1M50 176h2M58 176h2M102 176h3M106 176h2M131 176h1M50 177h2M78 177h1M94 177h1M102 177h1M106 177h2M126 177h1M78 178h1M102 178h1M106 178h2M47 179h2M55 179h3M106 179h2M124 179h2M50 180h2M58 180h2M90 180h2M110 180h1"/>
<path stroke="#4433cd" d="M68 0h2M71 0h2M79 0h2M118 0h1M147 0h1M68 1h5M95 1h2M111 1h2M140 1h2M102 2h1M147 2h1M102 3h1M140 3h2M147 3h1M73 4h1M102 4h1M134 4h1M147 4h1M66 5h2M73 5h1M84 5h2M90 5h2M147 5h1M66 6h2M84 6h2M102 6h1M134 6h1M140 6h2M119 7h2M79 8h2M102 8h1M119 8h2M71 9h2M100 9h3M143 9h2M71 10h2M74 10h2M84 10h2M100 10h3M134 10h1M143 10h2M44 11h2M65 11h1M71 11h2M74 11h2M81 11h1M84 11h2M100 11h2M126 11h1M63 12h5M73 12h3M100 12h2M124 12h2M44 13h2M63 13h2M66 13h2M100 13h2M124 13h2M50 14h2M63 14h2M119 14h2M124 14h2M145 14h2M44 15h2M50 15h2M81 15h1M124 15h2M139 15h1M124 16h2M139 16h1M86 17h1M98 17h2M140 17h2M147 17h1M89 18h3M106 18h2M87 19h2M116 19h2M44 20h3M124 20h2M129 20h2M44 21h2M74 21h2M116 21h3M73 22h1M79 22h2M87 22h2M123 22h1M39 23h2M46 23h1M52 23h2M86 23h1M110 23h1M124 23h3M143 23h2M42 24h2M68 24h2M73 24h1M105 24h1M111 24h4M124 24h2M143 24h2M41 25h1M58 25h4M73 25h1M108 25h2M94 26h1M113 26h3M123 26h1M143 26h4M74 27h2M79 27h2M108 27h2M123 27h1M58 28h2M76 28h2M95 28h2M127 28h2M68 29h2M140 29h2M148 29h2M58 30h5M119 30h2M148 30h2M119 31h2M134 31h1M139 31h1M147 31h1M33 32h1M52 32h2M60 32h3M74 32h2M135 32h2M31 33h2M70 33h1M79 33h2M84 33h2M90 33h4M121 33h2M68 34h2M105 34h1M127 34h2M73 35h1M81 35h1M94 35h1M135 35h2M58 36h2M71 36h2M97 36h1M28 37h2M57 37h3M81 37h1M94 37h1M110 37h1M148 37h2M153 37h2M58 38h2M76 38h2M82 38h2M108 38h3M135 38h2M65 39h1M89 39h1M129 39h2M135 39h2M47 40h2M58 40h2M68 40h2M90 40h2M105 40h3M110 40h1M22 41h1M36 41h2M63 41h2M71 41h3M115 41h1M139 41h1M38 42h1M41 42h1M60 42h2M70 42h1M86 42h3M118 42h1M30 43h1M38 43h1M94 43h1M105 43h1M123 43h1M30 44h1M33 44h1M38 44h3M60 44h3M84 44h2M87 44h2M113 44h2M118 44h1M30 45h1M41 45h1M62 45h1M65 45h1M68 45h2M89 45h1M123 45h1M139 45h1M31 46h2M68 46h2M86 46h1M89 46h1M116 46h2M139 46h3M143 46h2M36 47h2M44 47h2M34 48h4M47 48h2M103 48h2M108 48h2M116 48h2M129 48h2M34 49h2M66 49h2M97 49h1M108 49h2M123 49h1M142 49h1M34 50h2M44 50h2M65 50h1M78 50h1M105 50h1M119 50h2M124 50h2M38 51h1M44 51h2M95 51h2M110 51h1M113 51h2M39 52h2M47 52h2M140 52h2M44 53h2M79 53h2M108 53h2M150 53h1M33 54h1M39 54h2M52 54h2M82 54h2M103 54h2M68 55h2M103 55h2M137 55h2M38 56h1M50 56h2M79 56h2M82 56h2M97 56h1M49 57h1M73 57h3M92 57h2M95 57h2M105 57h1M111 57h2M119 57h4M127 57h2M139 57h1M65 58h1M68 58h2M73 58h3M126 58h3M52 59h2M79 59h2M82 59h2M153 59h2M57 60h1M103 60h2M119 60h2M145 60h2M42 61h2M57 61h1M78 61h1M86 61h1M103 61h2M129 61h2M38 62h1M103 62h2M106 62h2M129 62h3M38 63h1M46 63h1M60 63h3M103 63h2M118 63h1M127 63h2M131 63h1M94 64h1M116 64h2M131 64h1M143 64h2M147 64h1M65 65h1M87 65h2M95 65h2M108 65h2M111 65h2M135 65h2M31 66h2M47 66h2M84 66h2M94 66h1M108 66h2M116 66h2M121 66h2M124 66h2M132 66h2M137 66h2M65 67h1M95 67h2M116 67h2M119 67h2M62 68h1M65 68h1M116 68h2M119 68h2M94 69h1M142 69h1M66 70h4M100 70h2M126 70h1M135 70h2M143 70h2M147 70h1M55 71h2M66 71h2M116 71h3M63 72h2M84 72h2M98 72h4M118 72h1M126 72h1M145 72h2M151 72h2M60 73h2M95 73h2M123 73h1M145 73h2M46 74h1M98 74h4M115 74h1M143 74h4M151 74h4M44 75h2M95 75h2M108 75h2M127 75h2M42 76h2M63 76h2M68 76h2M108 76h2M44 77h2M68 77h2M106 77h2M111 77h2M126 77h1M137 77h2M95 78h2M70 79h1M42 80h2M73 80h1M79 80h2M100 80h3M105 80h1M124 80h2M142 80h1M153 80h2M103 81h2M121 81h2M78 82h1M82 82h2M100 82h3M105 82h1M116 82h3M124 82h2M127 83h2M52 84h3M92 84h2M124 84h2M127 84h2M137 84h2M147 84h1M46 85h1M68 85h2M73 85h1M86 85h1M137 85h2M153 85h2M55 86h2M68 86h3M79 86h2M82 86h4M123 86h1M57 87h1M62 87h1M68 87h2M86 87h1M105 87h1M127 87h2M135 87h2M81 88h3M86 88h1M121 88h2M151 88h2M58 89h2M63 89h2M84 89h2M87 89h2M116 89h2M134 89h1M55 90h2M82 90h2M87 90h2M106 90h2M116 90h2M121 90h2M142 90h1M145 90h2M44 91h2M62 91h3M84 91h2M89 91h1M106 91h2M87 92h2M147 92h1M150 92h1M55 93h3M70 93h1M89 93h1M111 93h2M124 93h2M134 93h1M147 93h1M46 94h1M70 94h1M74 94h2M118 94h1M92 95h2M110 95h1M42 96h2M46 96h1M131 96h1M139 96h1M143 96h4M52 97h2M76 97h2M92 97h2M95 97h2M111 97h2M116 97h2M119 97h2M123 97h1M140 97h2M147 97h1M151 97h2M44 98h2M65 98h1M76 98h2M90 98h2M97 98h1M121 98h2M124 98h2M145 98h2M66 99h2M70 99h1M76 99h2M79 99h2M94 99h1M102 99h1M47 100h2M95 100h2M119 100h2M55 101h2M66 101h2M105 101h1M66 102h2M90 102h2M97 102h1M103 102h3M124 102h2M129 102h2M135 102h2M140 102h2M71 103h2M81 103h1M89 103h1M92 103h2M121 103h2M135 103h2M140 103h2M76 104h2M92 104h2M97 104h1M127 104h2M44 105h2M49 105h1M58 105h2M87 105h2M92 105h2M74 106h2M86 106h1M132 106h2M148 106h2M65 107h1M89 107h1M95 107h2M103 107h2M108 107h3M42 108h2M46 108h1M68 108h2M78 108h1M50 109h2M54 109h1M62 109h1M74 109h2M108 109h2M70 110h1M81 110h1M103 110h2M147 110h1M50 111h2M55 111h2M74 111h2M82 111h2M87 111h2M57 112h1M84 112h2M87 112h2M100 112h2M44 113h2M55 113h2M113 113h2M55 114h2M60 114h2M76 114h2M81 114h3M118 114h1M143 114h2M42 115h2M68 116h2M76 116h2M111 116h2M116 116h2M143 116h2M42 117h2M47 117h2M62 117h1M81 117h1M90 117h2M86 118h3M106 118h2M115 118h1M139 118h1M68 119h2M90 119h2M106 119h2M113 119h2M119 120h2M71 121h3M82 121h2M87 121h2M90 121h2M113 121h2M116 121h2M119 121h2M148 121h2M60 122h2M113 122h2M150 122h1M58 123h2M97 123h1M113 123h2M148 123h2M78 124h1M84 124h2M102 124h3M79 125h2M86 125h1M105 125h1M52 126h2M68 126h2M103 126h2M106 126h2M65 127h3M79 127h2M95 127h3M111 127h2M118 127h1M153 127h2M156 127h2M44 128h3M97 128h1M76 129h2M111 129h2M123 129h1M126 129h1M155 129h1M55 130h2M100 130h2M105 130h1M110 130h1M129 130h2M151 130h2M62 131h1M76 131h2M121 131h2M126 131h1M156 131h2M52 132h2M62 132h1M65 132h1M70 132h1M121 132h2M129 132h2M161 132h2M52 133h3M68 133h3M108 133h2M123 133h1M127 133h2M70 134h1M95 134h2M102 134h3M132 134h2M65 135h1M74 135h4M121 135h2M126 135h1M161 135h2M98 136h2M132 136h2M158 136h1M65 137h1M68 137h2M79 137h2M84 137h2M87 137h2M126 137h1M132 137h2M79 138h2M90 138h2M116 138h2M132 138h2M156 138h2M66 139h2M71 139h3M81 139h1M87 139h2M106 139h2M132 139h3M86 140h1M94 140h1M102 140h6M110 140h1M113 140h2M134 140h1M55 141h2M60 141h2M92 141h2M106 141h2M111 141h2M134 141h1M57 142h1M103 142h2M111 142h2M135 142h2M127 143h4M156 143h2M115 144h1M158 144h1M111 145h2M129 145h2M137 145h2M158 145h1M135 146h2M159 146h2M115 147h1M131 147h1M161 147h2M58 148h2M116 148h2M158 148h1M111 149h2M135 149h2M60 150h2M92 150h2M95 150h2M131 150h3M139 150h1M54 151h1M84 151h2M87 151h3M94 151h1M139 151h1M142 151h1M47 152h2M55 152h5M78 152h1M84 152h2M87 152h2M92 152h2M140 152h3M163 152h1M92 153h2M115 153h1M134 153h1M137 153h2M142 153h1M44 154h2M47 154h2M55 154h2M82 154h2M87 154h2M92 154h2M116 154h3M50 155h2M55 155h3M82 155h2M98 155h2M106 155h2M123 155h1M50 156h2M55 156h2M66 156h2M89 156h1M110 156h1M116 156h2M123 156h1M132 156h2M147 156h1M68 157h2M74 157h2M103 157h2M142 157h1M68 158h2M78 158h1M82 158h2M89 158h1M92 158h2M100 158h2M47 159h2M60 159h2M70 159h1M89 159h1M92 159h2M108 159h2M111 159h2M118 159h1M151 159h2M44 160h2M60 160h2M73 160h1M78 160h1M92 160h2M131 160h1M44 161h2M68 161h3M76 161h2M145 161h2M46 162h1M65 162h1M70 162h1M73 162h1M87 162h2M124 162h2M145 162h2M153 162h2M49 163h1M55 163h2M82 163h2M87 163h2M124 163h3M44 164h3M70 164h1M87 164h2M95 164h2M123 164h3M46 165h1M62 165h1M87 165h2M110 165h1M116 165h2M126 165h1M129 165h2M46 166h1M52 166h2M65 166h3M74 166h2M94 166h1M145 166h2M87 167h2M115 167h1M118 167h1M126 167h1M145 167h2M44 168h2M52 168h2M97 168h1M102 168h1M151 168h2M102 169h1M46 170h1M63 170h2M73 170h1M92 170h2M102 170h1M106 170h2M135 170h2M47 171h2M102 171h1M106 171h2M135 171h2M100 172h3M106 172h2M110 172h1M47 173h2M102 173h1M123 173h1M131 173h1M78 174h1M92 174h3M102 174h1M110 174h1M131 174h1M153 174h2M47 175h2M54 175h1M47 176h2M57 176h1M78 176h1M92 176h2M100 176h2M126 176h1M47 177h2M110 177h1M47 178h2M55 178h3M110 178h1M126 178h1M98 179h2M110 179h1M126 179h1M47 180h2M57 180h1M94 180h1M98 180h2M126 180h1"/>
<path stroke="#4535d2" d="M140 0h2M79 1h2M71 2h2M140 2h2M140 4h2M54 5h1M102 5h1M134 5h1M140 5h2M55 6h2M73 6h1M119 6h2M143 6h4M66 7h2M71 7h3M84 7h2M90 7h2M102 7h1M134 7h1M140 7h2M143 7h4M44 8h2M66 8h2M71 8h2M84 8h2M90 8h2M134 8h1M140 8h2M44 9h2M55 9h2M66 9h2M74 9h2M81 9h1M84 9h2M134 9h1M142 9h1M44 10h2M66 10h2M81 10h1M142 10h1M66 11h2M73 11h1M44 12h2M126 12h1M145 13h2M44 14h2M54 14h1M63 15h2M119 15h2M147 15h1M63 16h2M119 16h2M63 17h2M119 17h2M126 17h1M63 18h3M74 18h2M126 18h1M105 19h3M126 19h1M113 20h2M119 20h2M46 21h1M49 21h3M105 21h1M113 21h2M126 21h1M44 22h2M47 22h2M108 22h2M124 22h2M42 23h2M60 23h2M73 23h1M76 23h2M79 23h2M123 23h1M47 24h2M60 24h2M123 24h1M47 25h2M74 25h2M78 25h1M39 26h2M60 26h2M74 26h2M121 26h2M38 27h1M65 27h1M84 27h3M119 27h2M41 28h1M98 28h2M123 28h1M143 28h2M36 29h2M58 29h2M82 29h2M95 29h2M151 29h2M63 30h3M129 31h2M150 31h3M66 32h2M150 32h1M151 33h2M36 34h2M92 34h2M34 35h2M55 35h2M87 35h2M119 35h2M34 36h2M55 36h2M131 36h1M36 37h2M60 37h2M70 37h1M82 37h2M34 38h2M55 38h2M60 38h2M65 38h1M126 38h1M147 38h1M58 39h2M94 39h1M98 39h2M105 39h1M110 39h1M153 39h2M39 40h3M70 40h1M73 40h1M89 40h1M92 40h3M102 40h3M135 40h2M41 41h1M70 41h1M102 41h1M116 41h2M36 42h2M116 42h2M33 43h1M60 43h2M92 43h2M115 43h1M118 43h1M31 44h2M63 44h2M92 44h3M102 44h1M106 44h2M123 44h1M140 44h2M31 45h2M39 45h2M63 45h2M84 45h2M115 45h3M142 45h1M66 46h2M92 46h2M95 46h2M113 46h2M39 47h2M68 47h2M94 47h1M106 47h2M115 47h3M140 47h2M38 48h1M65 49h1M90 49h2M139 49h1M36 50h2M73 50h1M97 50h1M142 50h3M36 51h2M78 51h1M44 52h2M94 52h1M110 52h1M113 52h2M150 52h1M47 53h2M92 53h2M95 53h2M68 54h2M76 54h2M87 54h2M111 54h2M118 54h1M65 55h1M71 55h2M102 55h1M68 56h2M76 56h2M94 56h1M123 56h1M148 56h2M50 57h2M66 57h4M79 57h5M103 57h2M113 57h2M131 57h1M52 58h2M66 58h2M79 58h2M92 58h2M105 58h1M108 58h2M121 58h2M147 58h1M55 59h2M63 59h2M123 59h3M63 60h2M66 60h2M86 60h1M148 60h3M70 61h1M121 61h3M148 61h2M63 62h2M71 62h2M78 62h1M111 62h2M148 62h2M70 63h1M82 63h2M105 63h1M126 63h1M143 63h2M49 64h1M62 64h1M70 64h1M87 64h2M97 64h1M126 64h1M142 64h1M153 64h2M47 65h2M118 65h1M145 65h2M95 66h2M118 66h1M131 66h1M97 67h1M113 67h2M82 68h2M108 68h2M153 68h2M66 69h2M115 69h1M150 69h1M115 70h1M134 70h1M148 70h2M50 71h2M68 71h2M65 72h1M147 72h1M153 72h2M55 73h2M47 74h2M87 74h3M113 74h2M94 75h1M121 75h2M131 75h1M147 75h1M52 76h2M58 76h2M73 76h1M129 76h2M143 76h2M46 77h1M73 77h1M95 77h2M108 77h2M116 77h2M153 77h2M46 78h3M123 78h1M129 78h2M147 78h1M150 78h1M42 79h2M54 79h1M90 79h2M111 79h2M129 79h2M153 79h2M62 80h1M66 80h2M74 80h2M78 81h3M102 81h1M127 81h2M81 82h1M129 82h2M81 83h1M102 83h1M119 83h4M65 84h3M97 84h1M132 84h2M74 85h2M84 85h2M118 85h1M66 86h2M73 86h1M105 86h1M119 86h2M132 86h2M135 86h2M145 86h2M55 87h2M63 87h2M74 87h2M78 87h1M87 87h2M131 87h3M139 87h1M66 88h2M106 88h2M131 88h1M54 89h1M106 89h2M44 90h2M126 90h1M66 91h2M82 91h2M143 91h2M78 92h1M89 92h1M106 92h2M110 92h1M124 92h2M140 92h2M62 93h1M142 93h1M63 94h2M66 94h2M81 94h1M92 94h2M111 94h2M131 95h1M60 96h2M65 96h1M79 96h2M110 96h1M113 96h3M118 96h1M134 96h1M148 96h3M49 97h1M55 97h2M63 97h2M86 97h3M94 97h1M98 97h2M110 97h1M113 97h2M126 97h3M143 97h2M78 98h1M87 98h2M94 98h1M102 98h1M142 98h1M55 99h2M92 99h2M118 99h1M126 99h1M143 99h2M148 99h2M42 100h2M66 100h2M98 100h2M121 100h3M131 100h1M142 100h1M46 101h1M94 101h1M121 101h2M50 102h2M71 102h2M100 102h2M63 103h2M87 103h2M126 103h1M46 104h1M66 104h2M71 104h2M98 104h2M103 104h3M42 105h2M71 105h3M127 105h2M150 105h1M89 106h1M106 106h2M143 106h2M55 107h2M131 107h1M58 108h2M74 108h2M90 108h2M105 108h1M113 108h2M129 108h2M57 109h1M70 109h3M100 109h2M105 109h1M110 109h3M89 110h1M111 110h2M78 111h1M111 111h4M134 111h3M47 112h2M97 112h1M102 112h1M110 112h1M113 112h2M135 112h2M74 113h2M57 114h1M90 114h2M108 114h2M115 114h1M140 114h2M57 115h1M118 115h1M47 116h2M55 116h2M119 116h2M113 117h2M145 117h2M42 118h2M46 118h1M60 118h2M89 118h3M140 118h2M145 118h2M42 119h2M86 119h3M148 119h2M42 120h2M89 120h1M110 120h1M46 121h3M110 121h1M118 121h1M150 121h1M42 122h4M71 122h2M73 123h1M123 123h1M147 123h1M39 124h2M106 124h2M110 124h1M116 124h5M148 124h2M78 125h1M84 125h2M108 125h2M111 125h2M118 125h1M123 125h1M148 125h2M57 126h1M65 126h1M70 126h1M79 126h2M84 126h3M110 126h1M119 126h2M123 126h1M39 127h2M52 127h2M57 127h1M78 127h1M155 127h1M52 128h2M100 128h2M155 128h1M158 128h1M41 129h1M65 129h3M100 129h2M119 129h2M151 129h2M42 130h2M52 130h2M76 130h2M84 130h2M126 130h1M68 131h3M81 131h1M106 131h2M111 131h2M131 131h1M76 132h2M110 132h1M113 132h2M116 132h3M158 132h1M103 133h2M113 133h2M151 133h2M155 133h1M76 134h2M94 134h1M100 134h2M115 134h1M134 134h1M95 135h2M132 135h2M153 135h2M60 136h2M73 136h3M81 136h1M156 136h2M156 137h3M97 138h1M123 138h1M134 138h3M158 138h1M100 139h2M103 139h3M113 139h2M66 140h2M129 140h2M132 140h2M159 140h2M65 141h1M81 141h1M108 141h2M137 141h2M60 142h2M105 142h1M155 142h1M60 143h2M58 144h4M137 144h3M58 145h2M63 145h2M127 145h2M58 146h2M158 146h1M58 147h2M127 147h2M135 147h2M158 147h1M57 148h1M60 148h2M127 148h2M135 148h2M139 148h1M47 149h2M58 149h2M95 149h2M58 150h2M86 150h1M116 150h2M137 150h2M57 151h1M82 151h2M95 151h2M116 151h2M131 151h3M161 151h2M54 152h1M71 152h2M98 152h2M116 152h2M131 152h1M150 152h1M161 152h2M49 153h1M82 153h2M87 153h2M100 153h2M147 153h1M163 153h3M46 154h1M50 154h2M54 154h1M81 154h1M90 154h2M95 154h3M102 154h1M142 154h1M73 155h1M81 155h1M92 155h2M95 155h2M102 155h1M161 155h2M78 156h1M81 156h3M90 156h2M102 156h1M135 156h2M143 156h2M148 156h3M82 157h2M89 157h3M100 157h2M145 157h2M151 157h2M44 158h2M98 158h2M108 158h3M155 158h1M87 159h2M49 160h1M70 160h1M89 160h1M145 160h2M89 161h3M103 161h2M111 161h2M115 161h1M153 161h2M44 162h2M89 162h1M113 162h2M118 162h1M134 162h1M143 162h2M46 163h1M54 163h1M89 163h1M102 163h1M110 164h1M116 164h2M126 164h1M139 164h1M44 165h2M52 165h2M55 165h2M71 165h2M95 165h2M121 165h2M54 166h3M62 166h1M78 166h1M95 166h2M110 166h1M118 166h1M129 166h2M54 167h1M65 167h1M78 167h1M94 167h1M110 167h1M129 167h2M87 168h2M110 168h1M113 168h2M139 168h1M44 169h2M54 169h1M78 169h1M97 169h1M110 169h1M135 169h2M78 170h1M110 171h1M118 171h1M121 171h2M44 172h2M54 172h1M98 172h2M78 173h1M92 173h3M106 173h2M110 173h1M132 173h2M153 173h2M47 174h2M57 174h1M98 174h2M123 174h1M132 174h2M57 175h1M78 175h1M92 175h2M110 175h1M110 176h1M57 177h1M60 177h2M92 177h2M98 177h2M92 178h2M98 178h2M60 179h2M92 179h2M140 179h2M55 180h2M60 180h2M81 180h1M92 180h2M139 180h1"/>
<path stroke="#4538d7" d="M55 0h2M70 0h1M95 0h2M55 2h2M79 2h2M55 3h2M71 3h2M54 4h3M71 4h2M55 5h2M71 5h2M119 5h2M71 6h2M90 6h2M79 7h2M55 8h2M73 8h1M81 8h1M142 8h5M73 9h1M140 9h2M145 9h2M73 10h1M140 10h2M55 11h2M102 11h1M145 11h2M145 12h2M65 13h1M126 13h1M126 14h1M126 15h1M126 16h1M140 16h2M147 16h1M65 17h1M86 18h1M119 18h2M74 20h2M111 20h2M86 22h1M113 23h2M74 24h2M49 25h3M116 25h2M123 25h1M41 26h1M47 26h2M58 26h2M79 26h2M86 26h1M108 26h2M118 26h1M47 27h2M60 27h2M95 27h2M65 28h1M108 28h2M121 28h2M50 29h2M62 29h1M89 29h1M121 29h2M135 29h2M36 30h2M95 30h2M129 30h2M134 30h1M151 30h2M36 31h2M97 31h3M57 32h1M82 32h2M98 32h2M60 33h2M68 33h2M95 33h2M98 33h2M151 34h2M38 35h1M54 35h1M74 35h2M134 35h1M57 36h1M151 36h2M55 37h2M68 37h2M127 37h2M131 37h1M151 37h2M36 38h3M57 38h1M94 38h1M150 38h1M36 39h2M62 39h1M84 39h2M92 39h2M65 40h1M113 40h2M123 40h1M57 42h3M115 42h1M119 42h2M44 44h2M58 44h2M116 44h2M139 44h1M142 44h1M58 45h2M66 45h2M92 45h2M106 45h2M113 45h2M39 46h2M47 46h2M62 46h3M42 47h2M95 47h2M118 47h1M97 48h1M102 48h1M119 48h2M38 49h1M63 49h2M47 50h2M106 50h2M116 50h2M140 50h2M65 51h1M94 51h1M97 51h1M106 51h2M142 51h1M42 52h2M92 52h2M108 52h2M103 53h2M106 53h2M78 54h1M81 54h1M89 54h1M108 54h2M52 55h2M92 55h2M110 55h1M139 55h1M118 56h1M126 56h1M143 56h2M97 57h1M82 58h2M106 58h2M115 58h1M124 58h2M46 59h3M50 59h2M78 59h1M111 59h2M118 59h1M121 59h2M62 60h1M74 60h4M124 60h2M63 61h5M71 61h2M111 61h2M145 61h2M79 62h2M44 63h2M63 63h2M71 63h2M124 63h2M129 63h2M142 63h1M47 64h2M57 64h3M79 64h2M118 64h1M124 64h2M62 65h1M97 65h1M119 65h4M124 65h2M150 65h1M113 66h2M140 66h2M82 67h2M151 67h2M47 68h2M63 68h2M66 68h2M90 68h2M97 68h3M137 68h2M89 69h1M111 69h2M116 69h2M121 69h2M151 69h2M54 70h1M89 71h1M94 71h1M131 71h1M66 72h2M87 72h2M46 73h1M57 73h1M87 73h2M90 73h2M98 73h2M66 74h2M108 74h2M46 75h1M55 75h2M70 75h1M98 75h2M116 75h3M124 75h2M145 75h2M94 76h1M94 77h1M127 77h2M147 77h1M68 78h2M90 78h2M94 78h1M113 78h2M121 78h2M151 78h2M46 79h1M66 79h2M74 79h2M124 79h2M60 80h2M65 80h1M143 80h2M58 81h2M74 81h4M62 82h1M74 82h2M79 82h2M74 83h2M142 83h1M145 83h2M57 84h1M62 84h1M78 84h3M103 84h2M150 84h1M58 85h4M79 85h2M106 85h2M106 86h2M54 87h1M84 87h2M106 87h2M129 87h2M105 88h1M137 88h2M79 89h2M89 90h1M135 90h2M143 90h2M58 91h2M47 92h2M66 92h2M108 92h2M123 92h1M65 93h1M110 93h1M119 93h2M126 93h1M137 93h5M42 94h2M135 94h2M140 94h2M111 95h2M118 95h3M140 95h2M148 95h2M44 96h2M87 96h2M135 96h4M46 97h1M81 97h1M145 97h2M47 98h2M73 98h3M92 98h2M103 98h2M147 98h1M46 99h1M63 99h2M103 99h2M127 99h2M135 99h2M145 99h2M50 100h2M63 100h2M71 100h2M89 100h1M50 101h2M84 101h2M98 101h2M129 101h2M134 101h3M142 101h1M65 102h1M74 102h2M78 102h1M139 102h1M143 102h2M105 103h1M116 103h2M119 103h2M123 103h1M147 103h1M89 104h1M94 104h1M106 104h2M66 105h2M126 105h1M135 105h2M145 105h2M52 106h2M55 106h2M98 106h2M108 106h2M134 106h1M73 107h1M76 107h2M145 107h2M73 108h1M98 108h2M106 108h2M140 109h2M52 110h2M60 110h2M65 110h1M78 110h1M113 110h2M60 111h2M110 111h1M50 112h4M70 112h1M52 113h2M116 114h2M49 115h1M89 115h1M92 115h2M44 116h3M55 117h2M119 117h2M127 117h2M137 117h2M140 117h2M44 118h2M135 118h2M76 119h2M139 119h1M55 120h3M113 120h2M124 120h2M41 121h1M57 122h1M119 122h2M123 122h1M44 123h2M105 124h1M123 124h1M147 124h1M44 125h2M68 125h2M73 125h1M82 125h2M102 125h3M110 125h1M121 125h2M39 126h2M111 126h2M121 126h2M155 126h1M103 127h2M108 127h2M150 127h1M54 128h1M84 128h2M123 128h1M129 128h2M156 128h2M44 129h2M54 129h1M118 129h1M73 130h1M113 130h2M116 130h2M116 131h2M82 132h2M106 132h2M151 132h2M82 133h2M118 133h1M126 133h1M131 133h1M86 134h1M119 134h2M123 134h1M106 135h2M116 135h2M156 135h2M76 136h2M79 136h2M105 136h1M159 136h2M106 137h2M113 137h2M116 137h2M155 137h1M66 138h2M106 138h2M62 139h1M111 139h2M115 139h1M124 139h2M135 139h2M139 139h1M156 139h2M63 140h2M68 140h2M81 140h1M156 140h3M62 142h1M137 142h2M50 143h2M62 143h1M137 143h2M52 145h2M127 146h2M92 147h2M44 149h2M98 149h2M97 150h3M55 151h2M92 151h2M137 151h2M94 152h1M54 153h3M95 153h2M98 153h2M161 153h2M84 154h2M89 154h1M134 154h3M139 154h1M163 154h1M44 155h2M108 155h2M139 155h1M142 155h3M44 156h2M76 156h2M100 156h2M108 156h2M113 156h2M145 156h2M158 156h1M49 157h1M76 157h2M95 157h2M108 157h2M123 157h1M132 157h2M139 157h1M49 158h1M87 158h2M132 158h2M68 159h2M132 159h2M145 159h2M103 160h2M116 160h2M132 160h2M153 160h2M60 161h2M92 161h2M116 161h2M131 161h3M151 161h2M86 162h1M102 162h1M111 162h2M116 162h2M123 162h1M132 162h2M44 163h2M57 163h1M111 163h4M116 163h2M132 163h2M54 164h3M111 164h2M94 165h1M111 165h2M126 166h1M62 167h1M95 167h2M132 167h2M78 168h1M121 168h2M135 168h2M143 168h2M73 169h1M121 169h2M132 169h2M137 169h2M145 169h2M47 170h2M54 170h1M110 170h1M132 170h2M143 170h2M78 171h1M94 171h1M98 171h2M131 171h1M143 171h2M47 172h2M78 172h1M92 172h5M131 172h1M54 173h1M57 173h1M95 173h2M98 173h2M60 174h2M60 175h2M123 175h1M55 176h2M60 176h2M98 176h2M132 177h2M140 177h2M60 178h2M140 178h2M111 179h2M142 180h1"/>
<path stroke="#463adc" d="M119 0h2M142 0h1M55 1h2M142 1h1M119 2h2M142 2h1M79 3h2M79 4h2M79 6h2M55 7h2M55 10h2M145 10h2M140 11h2M140 12h2M55 13h2M65 14h1M140 14h2M65 15h1M140 15h2M50 16h2M65 16h1M50 17h2M119 19h2M50 20h2M111 21h2M47 23h2M111 23h2M79 24h2M46 25h1M79 25h2M87 25h2M113 25h2M87 26h2M119 26h2M39 27h2M94 27h1M42 28h2M89 28h1M119 28h2M151 28h2M119 29h2M54 30h1M97 30h1M147 30h1M57 31h3M54 32h1M121 32h2M57 33h1M62 33h1M127 33h2M135 33h2M55 34h2M95 34h2M151 35h2M82 36h2M98 36h2M129 36h2M38 37h1M68 38h2M127 38h2M153 38h2M151 39h2M36 40h2M98 40h2M60 41h2M92 41h2M106 41h2M92 42h2M105 42h1M42 43h2M103 43h2M60 45h2M44 46h2M58 46h2M119 46h2M55 48h2M36 49h2M92 49h2M38 50h1M50 50h2M46 52h1M65 53h5M54 54h1M66 54h2M105 54h1M79 55h2M52 56h2M95 56h2M124 56h2M150 56h1M87 57h2M108 57h2M124 57h3M94 58h1M123 58h1M74 59h2M54 60h1M108 60h2M111 60h2M123 60h1M132 60h2M151 60h4M39 62h2M62 62h1M76 62h2M115 62h1M39 63h2M47 63h2M57 63h1M79 63h2M110 63h1M113 63h3M65 64h1M66 65h2M73 65h1M79 65h3M110 65h1M153 65h2M119 66h2M150 66h1M137 67h2M110 68h1M118 68h1M150 68h1M44 69h2M68 69h2M110 69h1M134 69h1M145 69h2M82 70h2M116 70h2M71 71h2M113 71h2M55 72h2M42 73h2M65 73h1M71 73h2M89 73h1M97 73h1M119 73h2M95 74h2M147 74h1M111 75h2M129 75h2M95 76h2M113 76h2M47 77h2M66 77h2M76 77h2M121 77h2M44 78h2M76 78h2M79 78h3M89 78h1M118 78h1M110 79h1M97 80h1M81 81h1M98 81h2M116 81h2M153 81h2M44 82h2M76 82h2M121 82h2M58 83h2M78 83h3M129 83h2M42 84h2M84 84h2M119 84h5M145 84h2M66 85h2M81 85h1M145 85h2M54 86h1M63 86h2M70 87h1M73 87h1M103 87h2M124 87h2M137 87h2M62 88h1M84 88h2M87 88h2M127 88h2M62 89h1M89 89h1M121 89h2M143 89h2M97 90h1M127 91h4M140 91h2M55 92h2M119 92h2M66 93h2M108 93h2M62 94h1M44 95h2M86 95h3M115 95h1M49 96h1M100 96h2M106 96h2M54 97h1M97 97h1M100 97h2M137 97h2M100 98h2M116 98h2M129 98h2M44 99h2M86 99h1M98 99h4M105 100h1M102 101h1M119 101h2M47 102h2M52 102h2M70 102h1M87 102h2M95 102h2M106 103h2M150 103h1M78 104h1M110 105h1M66 106h2M110 106h1M135 106h2M147 106h1M60 107h2M74 107h2M86 107h1M106 107h2M47 108h2M70 108h1M110 108h1M126 108h1M63 109h2M115 109h3M127 109h2M49 114h3M78 114h1M110 115h1M116 115h2M115 116h1M118 116h1M44 117h2M78 117h1M55 118h2M81 118h1M116 118h2M119 118h2M55 119h2M121 119h2M140 119h2M79 120h2M82 120h2M87 120h2M111 120h2M140 120h2M148 120h2M44 121h2M115 121h1M124 121h2M140 121h2M151 121h2M78 122h1M116 122h2M143 122h4M66 123h2M118 123h1M126 123h1M42 124h2M121 124h2M145 124h2M50 127h2M54 127h1M127 127h4M65 128h3M111 128h2M127 128h2M150 128h1M42 129h2M57 129h1M92 129h2M156 129h2M66 130h2M156 130h2M115 131h1M74 132h2M111 132h2M74 133h2M116 133h2M134 133h1M68 134h2M118 134h1M151 134h2M155 134h1M66 135h2M123 135h1M135 135h2M90 136h2M135 136h2M153 136h3M123 137h1M137 137h2M71 138h2M103 138h2M102 139h1M155 139h1M158 139h1M62 140h1M65 140h1M124 140h2M137 140h2M105 141h1M124 142h2M52 144h2M156 144h2M89 145h1M135 145h2M57 146h1M140 147h2M137 148h2M158 149h1M82 150h2M111 150h2M140 150h3M58 151h2M98 151h2M82 152h2M111 152h2M118 152h1M89 153h1M119 153h2M100 154h2M147 154h3M161 154h2M121 155h2M135 155h2M151 156h2M44 157h2M87 157h2M46 158h1M103 158h2M150 158h1M153 158h2M103 159h2M153 159h2M68 160h2M102 161h1M142 161h1M150 161h1M121 162h2M131 162h1M121 163h2M134 163h1M121 164h2M132 164h2M54 165h1M78 165h1M111 166h2M115 166h3M132 166h2M143 167h2M54 168h3M62 168h1M95 168h2M145 168h2M57 169h1M95 169h2M131 169h1M87 170h2M97 170h1M121 170h2M131 170h1M145 170h2M57 171h1M153 171h2M57 172h1M121 172h2M132 172h2M135 172h2M143 172h2M60 173h2M62 174h1M95 174h2M55 175h2M95 175h2M98 175h2M62 176h1M94 176h1M97 176h1M123 176h1M140 176h2M62 177h1M62 178h1M82 178h2M97 178h1M132 178h2M62 179h1M82 179h2M139 179h1M142 179h1M111 180h2M140 180h2M143 180h2"/>
<path stroke="#463de0" d="M54 1h1M119 1h2M54 2h1M54 3h1M119 4h2M142 4h1M79 5h2M142 6h1M81 7h1M142 7h1M55 12h2M140 13h2M86 19h1M89 22h1M111 22h4M44 23h2M87 24h2M87 27h2M50 28h2M41 29h1M65 29h1M50 30h2M121 30h2M38 31h1M135 31h2M36 32h2M58 32h2M36 33h2M54 33h1M52 34h2M57 34h1M60 35h2M127 35h2M39 37h2M111 37h2M84 38h2M98 38h2M41 39h1M87 39h2M100 39h2M38 40h1M42 41h2M94 42h1M87 43h2M95 43h2M47 45h2M108 45h2M55 47h2M63 47h2M62 48h1M115 48h1M95 49h2M115 49h1M49 50h1M66 51h2M92 51h2M66 52h2M52 53h2M57 54h1M79 54h2M66 55h2M111 56h2M143 57h2M63 58h2M76 58h2M113 58h2M119 58h2M129 58h3M143 58h2M54 59h1M68 59h2M76 59h2M106 59h2M113 59h3M127 59h2M143 59h2M147 59h1M70 60h1M121 60h2M58 61h2M74 61h2M79 61h2M132 61h2M47 62h2M57 62h3M81 62h1M58 63h2M78 63h1M147 63h1M73 64h1M110 64h1M115 64h1M70 65h1M74 65h2M115 65h1M147 65h1M81 66h3M145 66h2M78 69h1M148 69h2M70 70h1M145 70h2M54 71h1M70 71h1M95 71h2M147 71h1M54 72h1M95 72h2M70 73h1M73 73h1M110 73h1M113 73h2M118 73h1M126 73h1M71 74h2M110 74h3M123 74h1M42 75h2M65 75h3M123 75h1M44 76h2M54 76h1M65 77h1M97 77h3M74 78h2M44 79h2M60 79h2M76 79h2M94 79h1M126 79h1M76 80h2M98 80h2M119 80h2M135 81h2M142 81h1M145 81h2M65 82h1M115 82h1M57 83h1M84 83h2M98 83h2M105 83h1M81 84h1M86 84h1M98 84h2M57 85h1M105 85h1M143 85h2M46 86h1M73 88h1M124 88h2M137 89h2M66 90h2M90 91h2M137 91h2M105 92h1M139 92h1M76 93h2M94 93h1M87 94h2M119 94h2M124 94h2M131 94h1M63 95h3M82 95h2M95 95h2M106 95h2M52 96h2M95 96h2M111 96h2M102 97h1M142 97h1M148 97h2M105 98h1M123 98h1M135 98h2M87 99h2M113 99h2M140 99h2M65 100h1M87 100h2M100 100h2M106 100h2M127 100h2M135 100h2M89 101h1M100 101h2M106 101h2M126 101h1M44 102h2M60 102h2M134 102h1M79 103h2M124 103h2M44 104h2M102 104h1M123 104h1M132 104h2M47 105h2M76 105h2M102 105h1M134 105h1M62 106h1M73 106h1M102 106h1M126 106h1M113 107h3M126 107h1M134 107h1M63 108h2M134 108h1M113 109h2M134 109h1M55 110h2M52 111h2M58 111h2M55 112h2M73 112h1M89 112h1M89 114h1M89 116h1M143 117h2M121 118h2M73 119h1M147 119h1M46 120h1M42 121h2M76 121h2M79 121h2M145 121h2M118 122h1M147 122h1M39 123h2M78 123h1M121 123h2M145 123h2M41 125h1M124 125h2M42 126h2M57 128h1M113 128h2M84 129h2M129 129h2M118 130h1M131 130h1M71 131h2M113 131h2M119 132h2M131 132h1M115 133h1M54 134h1M82 134h2M105 134h1M111 134h2M54 135h1M155 135h1M111 136h2M123 136h1M137 136h2M71 137h2M134 137h1M153 137h2M81 138h1M111 138h2M111 140h2M139 140h1M155 141h4M66 142h2M155 143h1M127 144h2M140 146h2M57 149h1M158 150h1M95 152h2M132 152h2M84 153h2M135 153h2M150 153h1M119 154h2M150 154h1M87 155h2M100 155h2M147 155h1M150 155h1M49 156h1M73 156h1M84 156h2M142 156h1M46 157h1M150 157h1M153 157h3M47 158h2M84 158h2M90 158h2M102 158h1M151 158h2M90 159h2M123 159h1M139 159h1M94 160h1M121 160h2M60 162h2M139 162h1M142 162h1M95 163h2M123 163h1M131 163h1M139 163h1M132 165h2M73 168h1M118 168h1M87 169h2M118 169h1M143 169h2M62 170h1M119 170h2M137 170h2M54 171h1M87 171h2M97 171h1M132 171h2M55 174h2M97 174h1M62 175h1M97 175h1M82 176h2M132 176h2M111 177h2M139 178h1M62 180h1M82 180h2M87 180h2M97 180h1M132 180h2"/>
<path stroke="#473fe3" d="M54 0h1M119 3h2M142 3h1M142 5h1M50 18h2M50 19h2M89 21h1M46 22h1M74 22h2M87 23h2M143 25h2M49 26h3M84 28h2M132 29h2M121 31h2M38 32h1M84 32h2M97 32h1M87 33h2M41 34h1M54 34h1M135 34h2M52 35h2M57 35h1M38 36h1M54 36h1M111 40h2M38 41h1M57 41h1M89 41h1M65 42h1M116 43h2M57 46h1M118 46h1M62 47h1M94 48h3M66 50h2M94 50h1M50 51h2M115 51h1M50 52h2M65 52h1M106 52h2M55 53h2M105 53h1M126 53h1M65 54h1M111 55h2M63 57h2M94 57h1M123 57h1M57 58h1M142 58h1M57 59h1M81 59h1M108 59h2M119 59h2M131 59h1M78 60h1M113 60h2M105 61h1M131 61h1M60 62h2M65 62h1M142 62h1M81 63h1M111 63h2M78 64h1M81 64h1M151 64h2M66 66h2M110 66h1M47 67h2M68 67h2M110 67h1M148 67h2M78 68h1M147 68h1M97 69h3M84 70h2M126 71h1M71 72h2M148 73h2M153 73h2M150 74h1M115 75h1M119 75h2M90 76h2M55 77h2M123 77h1M150 77h1M73 78h1M92 78h2M108 78h2M123 80h1M145 80h2M82 81h2M42 82h2M98 82h2M97 83h1M118 83h1M82 85h2M103 85h2M142 85h1M126 86h3M131 86h1M60 87h2M76 87h2M103 88h2M105 89h1M124 89h2M97 91h1M108 94h2M82 96h2M103 97h2M108 97h2M111 98h2M50 99h2M105 99h1M142 99h1M52 100h2M76 100h2M102 100h1M52 101h2M74 101h2M103 101h2M116 101h2M143 101h2M147 102h1M47 103h2M124 104h2M52 105h2M108 105h2M121 105h2M132 105h2M49 106h1M70 106h1M54 107h1M49 108h1M111 108h2M58 109h2M66 109h2M76 109h2M89 109h1M98 109h2M47 110h2M58 110h2M127 110h2M134 110h1M47 111h3M98 111h2M115 111h1M49 113h1M118 113h1M73 115h1M78 116h1M89 117h1M116 117h2M121 117h2M147 118h1M111 119h2M123 121h1M147 121h1M111 122h2M79 123h2M110 123h3M116 123h2M143 123h2M44 124h2M79 124h2M86 124h1M106 125h2M137 125h2M137 126h2M145 126h2M41 128h1M73 128h1M103 128h2M150 129h1M68 130h2M103 130h2M124 130h2M102 131h1M123 132h1M132 133h2M71 134h2M134 135h1M135 137h2M105 138h1M155 138h1M126 139h1M155 140h1M66 141h2M140 142h2M139 143h1M55 146h2M140 148h2M94 149h1M148 151h2M97 153h1M116 153h2M49 154h1M84 155h2M89 155h1M119 155h2M158 155h1M87 156h2M84 157h2M94 157h1M73 158h1M145 158h2M73 159h1M94 159h1M102 159h1M76 160h2M139 160h1M119 161h2M123 161h1M94 162h1M73 163h1M86 163h1M57 164h1M82 164h2M94 164h1M143 164h2M57 165h1M82 165h2M115 165h1M131 165h1M57 166h1M143 166h2M55 167h3M111 167h2M131 167h1M57 168h1M131 168h1M62 169h1M139 169h1M57 170h1M62 171h1M82 171h2M145 171h2M60 172h3M82 172h2M87 172h2M55 173h2M62 173h1M82 173h2M87 173h2M143 173h4M82 174h2M135 174h2M140 174h2M143 174h4M87 175h2M111 175h2M111 176h2M82 177h2M123 177h1M87 178h2M95 178h2M111 178h2M123 178h1M87 179h2M95 179h3M132 179h2M145 179h2M145 180h2"/>
<path stroke="#4742e6" d="M81 6h1M74 23h2M39 28h2M100 31h2M84 34h2M49 35h1M129 35h2M39 36h2M94 36h1M129 37h2M41 38h1M52 38h2M131 38h1M151 38h2M38 39h1M57 39h1M86 39h1M57 40h1M87 41h2M127 41h2M57 43h1M140 45h2M47 47h2M97 47h1M119 47h2M63 48h2M47 49h3M62 49h1M46 50h1M115 50h1M105 51h1M90 53h2M49 54h3M66 56h2M76 57h2M81 58h1M110 58h1M58 59h2M62 59h1M58 60h2M68 60h2M131 60h1M60 61h3M73 61h1M76 61h2M111 64h2M66 67h2M68 68h2M70 69h1M86 69h1M113 69h2M147 69h1M86 70h1M89 70h1M86 71h1M90 72h2M111 72h2M119 72h2M84 73h2M63 75h2M97 75h1M76 76h2M97 76h1M97 78h1M126 78h1M84 79h2M89 79h1M92 79h2M97 79h3M119 79h2M78 80h1M42 81h2M124 81h3M65 83h1M94 83h1M58 84h2M74 84h2M102 84h1M98 85h2M74 86h2M98 86h2M103 86h2M142 86h1M89 88h1M103 89h2M103 90h2M57 92h1M102 92h1M139 95h1M115 97h1M46 98h1M54 98h1M79 98h2M98 98h2M116 99h2M44 100h2M54 100h3M134 100h1M42 101h4M71 101h2M54 102h3M118 102h1M46 103h1M47 104h2M58 104h2M98 105h2M123 105h1M143 105h2M76 106h2M68 107h3M90 107h2M65 108h1M127 108h2M115 110h1M54 112h1M134 112h1M89 113h1M135 113h2M58 114h2M47 115h2M54 115h1M76 115h2M76 118h2M79 118h2M113 118h2M89 119h1M73 120h1M76 120h2M123 120h1M111 121h2M110 122h1M121 122h2M86 123h1M41 124h1M111 124h2M147 125h1M50 126h2M54 126h1M127 126h2M126 127h1M137 127h2M148 127h2M65 130h1M73 131h1M103 131h2M132 131h2M76 133h2M105 133h1M74 134h2M105 135h1M134 136h1M137 138h2M137 139h2M153 139h2M153 141h2M140 144h2M140 145h2M139 149h3M97 152h1M135 152h2M46 155h3M46 156h1M73 157h1M76 158h2M94 158h1M90 160h2M94 161h1M115 162h1M60 163h2M94 163h1M115 163h1M119 163h2M143 163h2M60 164h2M73 164h1M60 166h2M73 167h1M82 167h2M121 167h2M132 168h2M60 170h2M82 170h2M95 170h2M139 170h1M60 171h2M95 171h2M55 172h2M97 172h1M119 172h2M145 172h2M121 173h2M140 173h2M87 174h2M132 175h2M145 176h2M87 177h2M97 177h1M143 177h4M145 178h2M123 179h1M143 179h2M95 180h2M123 180h1"/>
<path stroke="#4745e9" d="M86 20h1M49 27h3M47 28h3M74 28h2M38 30h1M52 33h2M86 35h1M103 38h2M55 39h2M50 41h2M103 41h2M42 42h4M58 43h2M60 46h2M94 46h1M58 47h2M49 48h1M46 49h1M52 50h2M46 51h1M63 52h2M62 53h1M63 56h2M105 56h1M58 57h2M150 57h1M55 58h2M65 63h1M150 63h1M113 64h2M121 64h2M68 65h2M148 68h2M71 70h2M70 72h1M42 74h2M54 75h1M89 75h1M123 76h1M98 78h2M78 79h1M127 79h2M116 80h2M58 82h2M105 84h1M42 85h2M119 85h2M87 86h3M126 87h1M97 88h1M129 88h2M90 89h2M94 89h1M98 90h2M124 90h2M137 90h2M57 91h1M87 91h2M124 91h2M82 94h2M95 94h2M147 94h1M76 95h2M102 96h1M105 97h1M49 98h1M113 98h2M116 100h2M129 100h2M137 100h2M60 101h2M76 101h2M46 102h1M63 104h2M131 105h1M111 107h2M92 108h2M55 109h2M116 111h2M54 113h1M46 115h1M123 118h1M137 119h2M44 120h2M139 120h1M142 120h1M78 121h1M41 123h1M119 123h2M124 124h2M129 125h2M143 125h2M41 126h1M42 127h2M110 127h1M123 130h1M115 132h1M150 132h1M135 133h2M150 134h1M113 136h2M139 136h1M153 138h2M153 140h2M139 142h1M140 143h2M57 147h1M57 150h1M81 150h1M135 150h2M97 151h1M148 152h2M81 153h1M94 153h1M108 154h2M143 154h2M49 155h1M145 155h2M47 157h2M102 157h1M123 158h1M139 158h1M84 159h2M84 160h2M102 160h1M123 160h1M115 164h1M131 164h1M60 165h2M73 165h1M143 165h2M82 166h2M121 166h2M131 166h1M60 167h2M55 169h2M60 169h2M82 169h2M119 169h2M119 171h2M137 171h2M97 173h1M111 173h2M119 173h2M135 173h2M142 173h1M111 174h2M139 174h1M142 174h1M82 175h2M135 175h2M139 175h3M143 175h4M87 176h2M139 176h1M142 176h1M55 177h2M95 177h2M139 177h1M142 177h1M143 178h2"/>
<path stroke="#4848ec" d="M89 23h1M46 26h1M87 28h2M49 29h1M39 30h2M49 30h1M50 31h2M54 31h1M84 31h2M49 34h1M111 39h2M148 39h2M103 42h2M47 44h2M57 47h1M79 50h2M55 52h2M54 57h1M54 58h1M79 60h2M105 60h1M74 62h2M132 62h2M73 63h1M68 64h2M74 64h2M145 67h2M145 68h2M113 70h2M81 72h1M74 73h2M86 73h1M153 75h2M119 76h2M145 76h2M87 77h2M92 77h2M124 78h2M82 79h2M46 80h1M82 80h2M92 80h2M97 81h1M95 82h2M60 83h2M82 84h2M95 84h2M89 87h1M98 87h2M94 88h1M139 88h1M106 93h2M100 95h3M108 95h2M108 96h2M52 98h2M115 98h1M140 98h2M54 99h1M103 100h2M137 101h2M116 102h2M142 102h1M52 104h2M54 105h3M124 106h2M55 108h2M115 108h3M65 109h1M100 111h2M54 114h1M119 114h2M127 114h2M135 114h2M111 117h2M129 118h2M137 118h2M79 119h2M123 119h1M143 119h2M78 120h1M147 120h1M74 121h2M129 124h2M66 125h2M124 126h2M129 126h2M143 126h2M41 127h1M55 129h2M123 131h1M148 131h3M150 133h1M135 134h2M68 135h2M151 140h2M135 151h2M150 151h1M158 151h1M89 152h1M158 154h1M121 156h2M121 157h2M140 158h2M139 161h1M142 163h1M134 164h1M73 166h1M60 168h2M82 168h2M111 168h2M119 168h2M111 169h2M55 170h2M142 170h1M111 171h2M111 172h2M137 172h2M140 172h2M95 176h2M135 176h4M137 180h2"/>
<path stroke="#484bee" d="M81 0h1M81 1h1M86 21h1M89 24h1M87 32h2M41 35h1M127 36h2M94 41h1M44 43h2M49 43h1M68 44h2M55 46h2M50 49h2M60 50h2M63 50h2M49 51h1M108 51h2M55 55h2M129 59h2M106 60h2M115 60h1M71 64h2M148 66h2M111 67h2M150 67h1M92 68h2M111 68h2M78 70h1M82 73h2M73 74h1M81 74h1M97 74h1M118 74h1M76 75h2M92 75h2M89 76h1M121 76h2M89 77h1M143 77h2M143 78h2M65 79h1M81 80h1M94 80h1M127 80h2M65 81h1M60 82h2M76 83h2M92 83h2M95 83h2M143 83h2M94 84h1M126 84h1M121 85h2M124 85h2M123 88h1M126 89h1M90 90h2M105 91h1M92 92h2M105 93h1M97 96h1M106 97h2M147 99h1M150 99h1M76 103h2M108 103h2M108 104h3M124 107h2M131 108h1M49 109h1M100 110h2M116 110h2M126 110h1M118 111h1M126 111h1M118 112h1M46 114h1M90 115h2M115 115h1M119 115h2M90 116h2M134 117h3M143 118h2M44 119h2M143 120h2M76 122h2M79 122h2M57 123h1M55 125h2M66 126h2M147 126h1M143 127h2M42 128h2M103 129h2M148 129h2M71 130h2M132 130h2M148 130h3M119 131h2M147 131h1M132 132h2M66 133h2M148 133h2M115 137h1M142 137h1M151 139h2M155 147h1M156 150h2M143 153h2M94 156h1M76 159h2M119 159h4M140 159h2M140 167h2M140 168h2M140 170h2M139 171h1M142 171h1M139 173h1M119 174h2M137 174h2M143 176h2M135 178h2M142 178h1M137 179h2M119 180h2"/>
<path stroke="#484ef1" d="M81 5h1M89 25h1M46 27h1M87 29h2M41 30h1M84 30h2M52 31h2M47 34h2M41 36h1M41 37h1M84 40h2M87 40h2M44 41h2M46 45h1M46 47h1M92 50h2M52 51h2M49 52h1M50 53h2M57 55h1M94 55h1M54 56h1M62 57h1M62 58h1M129 60h2M105 62h1M116 65h2M79 67h2M90 69h2M94 70h1M86 72h1M76 73h2M111 73h2M54 74h1M74 74h2M66 76h2M147 76h1M79 77h2M90 77h2M90 80h2M82 83h2M86 83h3M76 84h2M118 84h1M127 85h2M58 86h2M97 87h1M98 89h2M127 89h2M92 90h2M105 90h1M123 90h1M127 90h2M103 92h2M98 95h2M150 97h1M110 98h1M52 99h2M137 99h2M65 101h1M124 105h2M58 106h2M71 106h2M73 109h1M129 109h2M54 110h1M129 111h2M129 112h2M132 112h2M58 113h2M127 118h2M142 119h1M145 119h2M121 120h2M145 120h2M142 121h1M74 122h2M76 123h2M124 123h2M129 123h2M143 124h2M142 125h1M135 128h2M131 129h1M119 130h2M148 132h2M68 136h2M151 136h2M139 141h3M155 144h1M142 147h1M118 151h1M148 153h2M94 155h1M47 156h2M156 156h2M121 158h2M140 160h2M84 161h2M86 164h1M119 164h2M142 168h1M140 169h3M139 172h1M137 173h2M121 174h2M119 175h2M142 175h1M137 178h2M119 179h2"/>
<path stroke="#4850f3" d="M81 3h1M81 4h1M44 24h2M89 27h1M86 29h1M52 30h2M49 31h1M41 33h1M42 37h2M54 40h1M55 45h2M49 47h1M50 48h2M57 48h1M60 48h2M94 49h1M57 52h1M49 53h1M106 56h2M60 57h2M58 58h2M105 59h1M115 61h1M66 62h2M73 62h1M66 64h2M78 65h1M115 66h1M78 67h1M81 67h1M73 70h1M84 71h2M90 71h2M82 72h2M76 74h2M74 75h2M87 75h2M74 76h2M78 78h1M86 79h1M145 79h2M44 80h2M118 81h1M94 82h1M87 84h3M60 86h2M97 86h1M90 88h2M98 88h2M55 91h2M97 92h1M103 96h2M108 100h2M110 101h1M115 102h1M55 103h2M115 103h1M118 103h1M119 106h2M52 107h2M98 110h2M124 110h2M129 110h2M127 111h2M111 118h2M126 118h1M121 121h2M142 124h1M127 125h2M126 126h1M145 130h2M116 134h2M151 135h2M66 136h2M142 139h1M142 140h1M143 148h2M143 152h2M158 152h1M145 153h2M94 154h1M119 160h2M84 162h2M119 162h2M142 164h1M119 165h2M142 165h1M119 166h2M140 166h3M111 170h2M55 171h2M142 172h1M137 175h2M119 176h2M137 177h2M135 180h2"/>
<path stroke="#4853f5" d="M44 27h2M44 28h2M38 29h1M41 32h1M36 35h2M36 36h2M39 38h2M39 39h2M103 39h2M54 41h1M44 45h2M57 45h1M46 48h1M58 48h2M105 49h1M52 52h2M55 54h2M151 61h2M150 62h1M74 63h2M151 63h2M70 68h1M79 69h2M82 71h2M147 73h1M86 74h1M73 75h1M74 77h2M127 78h2M118 79h1M46 81h1M89 85h1M92 87h2M92 88h2M102 90h1M139 90h1M94 91h1M123 91h1M98 96h2M148 98h3M57 102h1M54 103h1M123 106h1M132 107h2M129 114h2M134 114h1M129 115h2M127 116h2M123 117h1M129 117h2M142 118h1M78 119h1M129 119h2M135 119h2M126 120h1M41 122h1M124 122h2M126 124h3M132 127h2M135 127h2M147 127h1M71 133h2M142 136h1M139 138h1M150 148h1M150 149h1M143 151h2M156 151h2M156 152h2M159 152h2M159 153h2M159 154h2M159 155h2M119 157h2M140 164h2M134 165h1M140 165h2M142 167h1M140 171h2M86 173h1M135 177h2M119 178h2M84 179h2M121 180h2"/>
<path stroke="#4756f7" d="M81 2h1M89 26h1M42 27h2M46 28h1M42 29h2M41 31h1M42 36h2M49 36h1M49 46h1M60 47h2M52 49h3M54 53h1M71 65h2M76 65h2M68 66h2M90 70h2M81 71h1M92 71h2M73 72h1M94 72h1M81 79h1M44 81h2M119 81h2M87 82h2M97 82h1M119 82h2M62 83h1M92 85h2M123 89h1M92 91h2M115 100h1M54 101h1M115 101h1M119 108h2M54 111h1M47 113h2M134 113h1M121 116h2M124 119h3M143 121h2M135 123h2M42 125h2M126 125h1M140 126h2M137 128h2M148 128h2M66 134h2M151 146h2M143 147h2M142 149h1M148 150h3M147 152h1M148 157h2M148 158h2M84 163h2M84 164h2M84 167h2M119 167h2M84 169h2M84 170h3M86 171h1M134 171h1M134 172h1M84 175h2M121 175h2M134 175h1M84 176h2M134 176h1M119 177h4M86 178h1M135 179h2M84 180h3"/>
<path stroke="#4759f8" d="M42 40h2M55 44h2M54 51h1M60 60h2M115 67h1M71 69h2M92 70h2M92 73h2M86 76h1M78 77h1M95 79h2M84 81h2M46 82h1M143 82h2M98 91h2M102 91h1M94 92h3M97 94h3M105 96h1M79 97h2M115 99h1M57 103h1M110 103h1M55 104h2M123 108h1M126 114h1M129 116h2M79 117h2M131 118h1M139 121h1M58 122h2M142 122h1M55 128h2M145 131h2M134 132h1M137 135h2M143 139h2M153 142h2M90 147h2M142 148h1M158 153h1M119 158h2M140 162h2M140 163h2M84 165h3M86 168h1M134 169h1M84 171h2M84 172h3M84 173h2M134 173h1M84 174h2M134 174h1M86 175h1M121 176h2M134 177h1M84 178h2M121 179h2M134 179h1"/>
<path stroke="#475bfa" d="M39 29h2M46 30h1M46 36h1M54 37h1M111 38h2M46 43h1M55 43h2M54 48h1M54 50h1M55 56h2M113 62h2M94 67h1M115 68h1M82 69h2M81 73h1M94 73h1M94 74h1M119 74h2M94 81h3M86 82h1M100 83h2M100 84h2M94 85h1M100 85h2M126 85h1M94 86h1M100 86h2M100 87h2M100 88h2M100 89h2M139 89h1M94 90h1M100 90h2M97 95h1M76 102h2M118 106h1M123 107h1M50 108h2M129 113h2M126 115h1M132 116h2M129 122h2M135 122h2M131 123h1M135 130h2M71 132h2M151 145h2M156 145h2M156 146h2M156 147h2M156 148h2M156 149h2M155 151h1M81 152h1M155 155h1M119 156h2M155 156h1M140 161h2M134 166h1M134 167h1M84 168h2M84 177h3M134 180h1"/>
<path stroke="#465efb" d="M87 31h2M49 33h1M46 35h1M52 36h2M52 37h2M42 38h2M50 39h2M46 44h1M57 44h1M58 54h2M129 54h2M57 57h1M147 67h1M79 74h2M84 76h2M143 79h2M87 85h2M97 89h1M97 93h1M139 94h1M137 98h2M62 101h1M119 104h2M54 106h1M118 109h1M123 116h1M135 116h2M126 122h1M139 122h1M137 123h3M137 124h2M55 126h2M131 127h1M148 138h2M155 148h1M81 151h1M145 154h2M84 166h3M86 167h1M134 168h1M134 170h1M86 174h1M86 176h1M121 178h2M134 178h1M86 179h1"/>
<path stroke="#4661fc" d="M86 28h1M47 29h2M39 31h2M47 43h2M46 46h1M58 49h2M54 52h1M66 63h2M81 68h1M76 72h2M92 72h2M92 76h2M145 78h2M74 105h2M50 106h2M132 110h2M124 113h2M135 115h2M132 117h2M145 127h2M145 128h2M73 133h1M150 135h1M150 137h1M147 139h1M142 141h1M155 149h1M155 150h1M153 156h2M86 169h1"/>
<path stroke="#4564fd" d="M42 25h2M42 26h2M84 29h2M87 30h2M38 33h1M38 34h1M42 39h2M50 40h2M46 42h1M58 56h2M113 61h2M78 66h1M84 67h2M84 68h2M92 69h2M65 76h1M87 78h2M92 81h2M123 81h1M92 82h2M90 83h2M92 89h2M150 104h1M49 112h1M119 113h2M140 115h2M140 116h2M131 119h1M147 129h1M142 131h1M139 133h1M139 137h1M151 142h2M143 149h2M153 152h2M156 153h2M156 154h2M151 155h2M156 155h2"/>
<path stroke="#4367fd" d="M86 31h1M47 33h2M47 35h2M50 38h2M63 51h2M105 52h1M55 57h2M150 64h1M74 71h2M74 72h2M87 79h2M118 80h1M98 93h2M121 106h2M47 114h2M132 115h2M126 121h1M147 130h1M140 135h2M150 136h1M151 141h2M145 149h2M143 150h2"/>
<path stroke="#426afe" d="M44 25h2M44 26h2M46 29h1M46 31h1M86 32h1M39 35h2M44 37h2M44 38h2M52 44h2M52 45h3M78 76h1M145 77h2M126 80h1M143 81h2M95 93h2M113 100h2M111 101h2M111 103h2M111 104h2M111 105h2M116 106h2M131 116h1M142 126h1M139 132h1M140 136h2M155 145h1M153 151h2"/>
<path stroke="#406dfe" d="M44 40h2M46 41h1M62 50h1M81 69h1M74 70h2M95 80h2M123 83h1M58 88h2M139 91h1M124 108h2M118 110h1M123 111h1M126 116h1M78 118h1M131 128h1M147 128h1M137 130h2M140 134h2M150 138h1M142 146h1M150 147h1"/>
<path stroke="#3e70ff" d="M49 32h1M54 44h1M49 45h1M76 66h2M76 67h2M76 68h2M84 74h2M123 82h1M90 84h2M90 85h2M97 85h1M102 85h1M90 86h2M102 86h1M90 87h2M94 87h1M102 87h1M102 88h1M102 89h1M147 101h1M54 104h1M116 107h2M127 112h2M127 113h2M134 122h1M140 122h2M42 123h2M140 123h2M55 127h2M137 129h2M142 135h1M155 146h1"/>
<path stroke="#3b73ff" d="M86 30h1M86 34h1M50 42h2M150 61h1M74 69h4M82 74h2M90 81h2M90 82h2M58 87h2M113 103h2M113 104h2M50 107h2M121 109h2M137 122h2M142 123h1M134 126h1M142 132h1M145 132h2M153 143h2M153 144h2M153 145h2"/>
<path stroke="#3876fe" d="M86 33h1M46 37h1M50 37h2M44 39h2M49 44h1M57 49h1M58 55h2M73 71h1M79 76h2M98 92h2M50 105h2M131 111h1M139 131h1M148 137h2M142 142h1"/>
<path stroke="#3579fd" d="M44 29h2M81 70h1M119 105h2M132 108h2M131 110h1M131 113h1M134 128h1M135 129h2M137 133h2M137 134h3M142 134h1M145 150h2M147 151h1M151 152h2"/>
<path stroke="#327cfc" d="M54 47h1M143 131h2M147 132h1M142 143h1M148 146h2M147 150h1"/>
<path stroke="#307ffb" d="M42 35h2M54 46h1M50 47h2M57 50h1M79 66h2M87 76h2M95 91h2M106 94h2M105 95h1M115 104h1M115 105h1M118 105h1M131 109h3M132 113h2M132 114h2M124 117h2M124 118h2M137 120h2M137 121h2M127 122h2M127 123h2M140 128h2M140 129h2M145 136h2M148 136h2M151 137h2M151 138h2M145 141h2M145 142h2M142 145h1M155 152h1M151 153h2M155 153h1M151 154h2M155 154h1"/>
<path stroke="#2f82fa" d="M46 33h1M54 38h1M132 111h2M126 112h1M126 113h1M127 115h2M145 151h2M145 152h2"/>
<path stroke="#2e84f8" d="M39 32h2M39 33h2M39 34h2M54 39h1M131 112h1M143 132h2M142 144h1M153 153h2M153 154h2M153 155h2"/>
<path stroke="#2e87f7" d="M50 35h2M92 86h2M103 91h2M100 93h2M108 101h2M116 104h2M116 105h2M131 124h1M131 125h1M131 126h1M139 126h1M132 128h2M139 128h1M132 129h2M139 129h1M142 130h1M148 145h2"/>
<path stroke="#2d8af5" d="M143 133h2M148 139h2M150 145h1"/>
<path stroke="#2d8cf3" d="M71 66h2M79 68h2M78 74h1M78 75h1M84 82h2M111 106h2M131 114h1M131 115h1M132 118h3M127 119h2M132 119h3M127 120h2M132 120h2M127 121h2M132 121h2M139 135h1M140 137h2M140 138h2M150 139h1"/>
<path stroke="#2c8ff1" d="M103 95h2M118 104h1M124 111h2M124 112h2M134 115h1M134 116h1M131 117h1M134 127h1M142 133h1M150 141h1M151 151h2"/>
<path stroke="#2b91ef" d="M46 32h1M145 135h2"/>
<path stroke="#2994ed" d="M70 59h1M79 72h2M82 78h2M89 80h1M86 81h1M110 99h1M113 105h2M118 108h1M129 120h2M137 131h2M137 132h2M140 139h2M140 140h2M151 143h2M151 144h2M151 147h2"/>
<path stroke="#2797eb" d="M50 36h2M121 113h2M150 146h1"/>
<path stroke="#2699e9" d="M47 36h2M62 51h1M62 52h1M63 54h2M63 55h2M71 68h2M111 99h2M111 100h2M121 114h2M121 115h2M132 124h2M132 125h2M132 126h2M145 137h2M147 144h1"/>
<path stroke="#259be8" d="M86 75h1M111 102h2M115 106h1M148 142h2M148 143h2M148 144h2"/>
<path stroke="#23a0e5" d="M60 51h2M60 52h2M60 53h2M79 70h2M84 75h2M81 76h1M81 77h1M106 98h2M106 99h2M113 101h2M110 102h1M113 106h2M121 107h2M123 114h1M123 115h1M139 130h1M140 133h2M147 138h1M148 140h2M148 141h2"/>
<path stroke="#22a2e4" d="M150 140h1M147 143h1"/>
<path stroke="#20a5e3" d="M60 54h2M60 55h2M60 56h2M108 98h2M118 107h1M121 108h2M124 114h2M124 115h2M124 116h2M131 120h1M143 128h2M135 131h2M135 132h2M148 134h2M148 135h2"/>
<path stroke="#1ea7e1" d="M47 30h2M46 34h1M50 34h2M50 46h2M62 54h1M62 55h1M57 56h1M62 56h1M70 66h1M70 67h1M79 71h2M81 75h3M84 80h2M87 81h2M95 88h2M95 89h2M95 90h2M100 92h2M100 94h2M105 94h1M108 99h2M110 100h1M106 102h2M119 107h2M124 109h2M134 120h1M134 121h1M135 126h2M142 129h1M145 129h2M147 133h1M147 134h1M147 135h1M143 145h2M143 146h2"/>
<path stroke="#1babde" d="M60 49h2M84 77h2M108 102h2M135 120h2M135 121h2M140 124h2M140 125h2M139 127h1M145 133h2M145 134h2M145 145h2M145 146h2"/>
<path stroke="#16afd9" d="M52 39h2M52 40h2M68 63h2M87 80h2M89 83h1M139 124h1M139 125h1M140 127h2M147 147h1M147 148h1M147 149h1"/>
<path stroke="#12b1d6" d="M42 34h2M49 37h1M46 38h1M49 38h1M46 39h4M46 40h1M49 40h1M55 40h2M52 41h2M54 42h1M54 43h1M55 51h2M57 53h3M78 73h3M84 78h3M102 93h1M102 94h1M123 109h1M123 110h1M126 117h1M129 121h3M131 122h1M135 124h2M143 141h2M150 144h1M148 147h2M145 148h2M148 148h2M148 149h2M151 150h4"/>
<path stroke="#08b4d1" d="M47 41h2M47 42h2M52 42h2M52 48h2M55 49h2M68 61h2M95 85h2M119 109h2M123 112h1M123 113h1M132 122h2M142 127h1M142 128h1M153 146h2"/>
<path stroke="#01b7ca" d="M74 68h2M113 102h2M145 138h2"/>
<path stroke="#00b9c7" d="M44 32h2M44 33h2M47 37h2M134 129h1M134 130h1M134 131h1M143 138h2"/>
<path stroke="#04bbc1" d="M50 32h2M50 33h2M103 93h2M150 142h1"/>
<path stroke="#10beba" d="M49 42h1M73 66h1M78 71h1M119 110h2M143 129h2M143 130h2M140 132h2M145 147h2"/>
<path stroke="#17bfb6" d="M145 140h2"/>
<path stroke="#23c1af" d="M47 31h2M47 32h2M60 58h2M60 59h2M74 66h2M86 77h1M134 125h1M143 134h2M145 143h2M150 143h1M145 144h2M151 148h2M151 149h2"/>
<path stroke="#2bc3a8" d="M145 139h2"/>
<path stroke="#2ec4a5" d="M44 36h2M78 72h1M82 76h2M82 77h2M135 125h2"/>
<path stroke="#33c79d" d="M52 43h2M79 75h2M89 81h1M89 82h1M119 111h2M119 112h2M132 123h2M147 142h1"/>
<path stroke="#39c994" d="M63 53h2M86 80h1M140 130h2M147 136h1M147 137h1M147 145h1M147 146h1"/>
<path stroke="#3dca90" d="M47 38h2M55 41h2M55 42h2M71 67h2M95 87h2M103 94h2"/>
<path stroke="#54cc7c" d="M49 41h1M58 52h2M74 67h2M100 91h2"/>
<path stroke="#5acc77" d="M55 50h2M58 50h2M68 62h2M73 67h1M76 71h2M143 144h2"/>
<path stroke="#76cc61" d="M44 34h2M50 43h2M52 46h2M153 149h2"/>
<path stroke="#7dcc5b" d="M143 142h2"/>
<path stroke="#8bcb51" d="M44 30h2M73 68h1M73 69h1M76 70h2M121 110h2M140 131h2M153 147h2"/>
<path stroke="#b5c533" d="M42 30h2M44 31h2M134 123h1"/>
<path stroke="#c2c32c" d="M143 137h2"/>
<path stroke="#cec027" d="M95 86h2"/>
<path stroke="#d3bf27" d="M44 35h2M143 143h2M153 148h2"/>
<path stroke="#debc29" d="M50 45h2M121 112h2M147 140h1"/>
<path stroke="#ecba32" d="M52 47h2M134 124h1"/>
<path stroke="#fcbc3e" d="M143 135h2"/>
<path stroke="#fec438" d="M42 33h2M50 44h2"/>
<path stroke="#feca33" d="M58 51h2M147 141h1"/>
<path stroke="#fdcd31" d="M143 136h2"/>
<path stroke="#f5e327" d="M121 111h2"/>
<path stroke="#f9fb15" d="M42 31h2M42 32h2"/>
</g></g>
<path d="M317.2 102.1V849.3M465.6 102.1V849.3M613.9 102.1V849.3M762.3 102.1V849.3M910.6 102.1V849.3M1059.0 102.1V849.3M167.2 145.5H1077.3M167.2 228.1H1077.3M167.2 310.7H1077.3M167.2 393.3H1077.3M167.2 475.9H1077.3M167.2 558.4H1077.3M167.2 641.0H1077.3M167.2 723.6H1077.3M167.2 806.2H1077.3" stroke="#262626" stroke-opacity=".16" stroke-width="2" fill="none"/>
<path d="M168.8 849.3v-10.5M168.8 102.1v10.5M317.2 849.3v-10.5M317.2 102.1v10.5M465.6 849.3v-10.5M465.6 102.1v10.5M613.9 849.3v-10.5M613.9 102.1v10.5M762.3 849.3v-10.5M762.3 102.1v10.5M910.6 849.3v-10.5M910.6 102.1v10.5M1059.0 849.3v-10.5M1059.0 102.1v10.5M167.2 145.5h10.5M1077.3 145.5h-10.5M167.2 228.1h10.5M1077.3 228.1h-10.5M167.2 310.7h10.5M1077.3 310.7h-10.5M167.2 393.3h10.5M1077.3 393.3h-10.5M167.2 475.9h10.5M1077.3 475.9h-10.5M167.2 558.4h10.5M1077.3 558.4h-10.5M167.2 641.0h10.5M1077.3 641.0h-10.5M167.2 723.6h10.5M1077.3 723.6h-10.5M167.2 806.2h10.5M1077.3 806.2h-10.5" stroke="#262626" stroke-width="2.3" fill="none"/>
<rect x="167.2" y="102.1" width="910.1" height="747.2" fill="none" stroke="#262626" stroke-width="2.4"/>
<g font-size="42" text-anchor="middle">
<text x="167.0" y="905.4">2.94</text>
<text x="315.4" y="905.4">2.96</text>
<text x="463.8" y="905.4">2.98</text>
<text x="612.1" y="905.4">3.00</text>
<text x="760.5" y="905.4">3.02</text>
<text x="908.8" y="905.4">3.04</text>
<text x="1057.2" y="905.4">3.06</text>
</g>
<g font-size="42" text-anchor="end">
<text x="150" y="160.2">-80</text>
<text x="150" y="242.8">-60</text>
<text x="150" y="325.4">-40</text>
<text x="150" y="408.0">-20</text>
<text x="150" y="490.6">0</text>
<text x="150" y="573.1">20</text>
<text x="150" y="655.7">40</text>
<text x="150" y="738.3">60</text>
<text x="150" y="820.9">80</text>
</g>
<text x="621.3" y="996.9" font-size="44.8" text-anchor="middle">Frequency(kHz)</text>
<text transform="translate(30.6 476.8) rotate(-90)" font-size="44.8" text-anchor="middle">Angle(°)</text>
<g shape-rendering="crispEdges">
<rect x="1138.7" y="851.76" width="83.8" height="3.54" fill="#3e26a8"/>
<rect x="1138.7" y="848.82" width="83.8" height="3.54" fill="#3e27ac"/>
<rect x="1138.7" y="845.88" width="83.8" height="3.54" fill="#3f28af"/>
<rect x="1138.7" y="842.94" width="83.8" height="3.54" fill="#3f29b2"/>
<rect x="1138.7" y="840.00" width="83.8" height="3.54" fill="#402ab4"/>
<rect x="1138.7" y="837.06" width="83.8" height="3.54" fill="#402bb7"/>
<rect x="1138.7" y="834.12" width="83.8" height="3.54" fill="#412cba"/>
<rect x="1138.7" y="831.18" width="83.8" height="3.54" fill="#412dbd"/>
<rect x="1138.7" y="828.24" width="83.8" height="3.54" fill="#422ebf"/>
<rect x="1138.7" y="825.31" width="83.8" height="3.54" fill="#422fc2"/>
<rect x="1138.7" y="822.37" width="83.8" height="3.54" fill="#4330c5"/>
<rect x="1138.7" y="819.43" width="83.8" height="3.54" fill="#4331c8"/>
<rect x="1138.7" y="816.49" width="83.8" height="3.54" fill="#4332ca"/>
<rect x="1138.7" y="813.55" width="83.8" height="3.54" fill="#4433cd"/>
<rect x="1138.7" y="810.61" width="83.8" height="3.54" fill="#4434d0"/>
<rect x="1138.7" y="807.67" width="83.8" height="3.54" fill="#4535d2"/>
<rect x="1138.7" y="804.73" width="83.8" height="3.54" fill="#4537d5"/>
<rect x="1138.7" y="801.79" width="83.8" height="3.54" fill="#4538d7"/>
<rect x="1138.7" y="798.85" width="83.8" height="3.54" fill="#4639d9"/>
<rect x="1138.7" y="795.91" width="83.8" height="3.54" fill="#463adc"/>
<rect x="1138.7" y="792.97" width="83.8" height="3.54" fill="#463bde"/>
<rect x="1138.7" y="790.03" width="83.8" height="3.54" fill="#463de0"/>
<rect x="1138.7" y="787.09" width="83.8" height="3.54" fill="#473ee1"/>
<rect x="1138.7" y="784.15" width="83.8" height="3.54" fill="#473fe3"/>
<rect x="1138.7" y="781.21" width="83.8" height="3.54" fill="#4741e5"/>
<rect x="1138.7" y="778.27" width="83.8" height="3.54" fill="#4742e6"/>
<rect x="1138.7" y="775.33" width="83.8" height="3.54" fill="#4744e8"/>
<rect x="1138.7" y="772.40" width="83.8" height="3.54" fill="#4745e9"/>
<rect x="1138.7" y="769.46" width="83.8" height="3.54" fill="#4746eb"/>
<rect x="1138.7" y="766.52" width="83.8" height="3.54" fill="#4848ec"/>
<rect x="1138.7" y="763.58" width="83.8" height="3.54" fill="#4849ed"/>
<rect x="1138.7" y="760.64" width="83.8" height="3.54" fill="#484bee"/>
<rect x="1138.7" y="757.70" width="83.8" height="3.54" fill="#484cf0"/>
<rect x="1138.7" y="754.76" width="83.8" height="3.54" fill="#484ef1"/>
<rect x="1138.7" y="751.82" width="83.8" height="3.54" fill="#484ff2"/>
<rect x="1138.7" y="748.88" width="83.8" height="3.54" fill="#4850f3"/>
<rect x="1138.7" y="745.94" width="83.8" height="3.54" fill="#4852f4"/>
<rect x="1138.7" y="743.00" width="83.8" height="3.54" fill="#4853f5"/>
<rect x="1138.7" y="740.06" width="83.8" height="3.54" fill="#4854f6"/>
<rect x="1138.7" y="737.12" width="83.8" height="3.54" fill="#4756f7"/>
<rect x="1138.7" y="734.18" width="83.8" height="3.54" fill="#4757f7"/>
<rect x="1138.7" y="731.24" width="83.8" height="3.54" fill="#4759f8"/>
<rect x="1138.7" y="728.30" width="83.8" height="3.54" fill="#475af9"/>
<rect x="1138.7" y="725.36" width="83.8" height="3.54" fill="#475bfa"/>
<rect x="1138.7" y="722.42" width="83.8" height="3.54" fill="#475dfa"/>
<rect x="1138.7" y="719.49" width="83.8" height="3.54" fill="#465efb"/>
<rect x="1138.7" y="716.55" width="83.8" height="3.54" fill="#4660fb"/>
<rect x="1138.7" y="713.61" width="83.8" height="3.54" fill="#4661fc"/>
<rect x="1138.7" y="710.67" width="83.8" height="3.54" fill="#4562fc"/>
<rect x="1138.7" y="707.73" width="83.8" height="3.54" fill="#4564fd"/>
<rect x="1138.7" y="704.79" width="83.8" height="3.54" fill="#4465fd"/>
<rect x="1138.7" y="701.85" width="83.8" height="3.54" fill="#4367fd"/>
<rect x="1138.7" y="698.91" width="83.8" height="3.54" fill="#4368fe"/>
<rect x="1138.7" y="695.97" width="83.8" height="3.54" fill="#426afe"/>
<rect x="1138.7" y="693.03" width="83.8" height="3.54" fill="#416bfe"/>
<rect x="1138.7" y="690.09" width="83.8" height="3.54" fill="#406dfe"/>
<rect x="1138.7" y="687.15" width="83.8" height="3.54" fill="#3f6eff"/>
<rect x="1138.7" y="684.21" width="83.8" height="3.54" fill="#3e70ff"/>
<rect x="1138.7" y="681.27" width="83.8" height="3.54" fill="#3c71ff"/>
<rect x="1138.7" y="678.33" width="83.8" height="3.54" fill="#3b73ff"/>
<rect x="1138.7" y="675.39" width="83.8" height="3.54" fill="#3974ff"/>
<rect x="1138.7" y="672.45" width="83.8" height="3.54" fill="#3876fe"/>
<rect x="1138.7" y="669.51" width="83.8" height="3.54" fill="#3677fe"/>
<rect x="1138.7" y="666.58" width="83.8" height="3.54" fill="#3579fd"/>
<rect x="1138.7" y="663.64" width="83.8" height="3.54" fill="#337afd"/>
<rect x="1138.7" y="660.70" width="83.8" height="3.54" fill="#327cfc"/>
<rect x="1138.7" y="657.76" width="83.8" height="3.54" fill="#317dfc"/>
<rect x="1138.7" y="654.82" width="83.8" height="3.54" fill="#307ffb"/>
<rect x="1138.7" y="651.88" width="83.8" height="3.54" fill="#2f80fa"/>
<rect x="1138.7" y="648.94" width="83.8" height="3.54" fill="#2f82fa"/>
<rect x="1138.7" y="646.00" width="83.8" height="3.54" fill="#2e83f9"/>
<rect x="1138.7" y="643.06" width="83.8" height="3.54" fill="#2e84f8"/>
<rect x="1138.7" y="640.12" width="83.8" height="3.54" fill="#2e86f8"/>
<rect x="1138.7" y="637.18" width="83.8" height="3.54" fill="#2e87f7"/>
<rect x="1138.7" y="634.24" width="83.8" height="3.54" fill="#2d88f6"/>
<rect x="1138.7" y="631.30" width="83.8" height="3.54" fill="#2d8af5"/>
<rect x="1138.7" y="628.36" width="83.8" height="3.54" fill="#2d8bf4"/>
<rect x="1138.7" y="625.42" width="83.8" height="3.54" fill="#2d8cf3"/>
<rect x="1138.7" y="622.48" width="83.8" height="3.54" fill="#2d8ef2"/>
<rect x="1138.7" y="619.54" width="83.8" height="3.54" fill="#2c8ff1"/>
<rect x="1138.7" y="616.60" width="83.8" height="3.54" fill="#2c90f0"/>
<rect x="1138.7" y="613.66" width="83.8" height="3.54" fill="#2b91ef"/>
<rect x="1138.7" y="610.73" width="83.8" height="3.54" fill="#2a93ee"/>
<rect x="1138.7" y="607.79" width="83.8" height="3.54" fill="#2994ed"/>
<rect x="1138.7" y="604.85" width="83.8" height="3.54" fill="#2895ec"/>
<rect x="1138.7" y="601.91" width="83.8" height="3.54" fill="#2797eb"/>
<rect x="1138.7" y="598.97" width="83.8" height="3.54" fill="#2798ea"/>
<rect x="1138.7" y="596.03" width="83.8" height="3.54" fill="#2699e9"/>
<rect x="1138.7" y="593.09" width="83.8" height="3.54" fill="#269ae8"/>
<rect x="1138.7" y="590.15" width="83.8" height="3.54" fill="#259be8"/>
<rect x="1138.7" y="587.21" width="83.8" height="3.54" fill="#259ce7"/>
<rect x="1138.7" y="584.27" width="83.8" height="3.54" fill="#249ee6"/>
<rect x="1138.7" y="581.33" width="83.8" height="3.54" fill="#249fe5"/>
<rect x="1138.7" y="578.39" width="83.8" height="3.54" fill="#23a0e5"/>
<rect x="1138.7" y="575.45" width="83.8" height="3.54" fill="#23a1e4"/>
<rect x="1138.7" y="572.51" width="83.8" height="3.54" fill="#22a2e4"/>
<rect x="1138.7" y="569.57" width="83.8" height="3.54" fill="#21a3e3"/>
<rect x="1138.7" y="566.63" width="83.8" height="3.54" fill="#20a5e3"/>
<rect x="1138.7" y="563.69" width="83.8" height="3.54" fill="#1fa6e2"/>
<rect x="1138.7" y="560.75" width="83.8" height="3.54" fill="#1ea7e1"/>
<rect x="1138.7" y="557.82" width="83.8" height="3.54" fill="#1da8e1"/>
<rect x="1138.7" y="554.88" width="83.8" height="3.54" fill="#1da9e0"/>
<rect x="1138.7" y="551.94" width="83.8" height="3.54" fill="#1caadf"/>
<rect x="1138.7" y="549.00" width="83.8" height="3.54" fill="#1babde"/>
<rect x="1138.7" y="546.06" width="83.8" height="3.54" fill="#1aacdd"/>
<rect x="1138.7" y="543.12" width="83.8" height="3.54" fill="#19addc"/>
<rect x="1138.7" y="540.18" width="83.8" height="3.54" fill="#17aeda"/>
<rect x="1138.7" y="537.24" width="83.8" height="3.54" fill="#16afd9"/>
<rect x="1138.7" y="534.30" width="83.8" height="3.54" fill="#14b0d8"/>
<rect x="1138.7" y="531.36" width="83.8" height="3.54" fill="#12b1d6"/>
<rect x="1138.7" y="528.42" width="83.8" height="3.54" fill="#10b2d5"/>
<rect x="1138.7" y="525.48" width="83.8" height="3.54" fill="#0eb3d4"/>
<rect x="1138.7" y="522.54" width="83.8" height="3.54" fill="#0bb3d2"/>
<rect x="1138.7" y="519.60" width="83.8" height="3.54" fill="#08b4d1"/>
<rect x="1138.7" y="516.66" width="83.8" height="3.54" fill="#06b5cf"/>
<rect x="1138.7" y="513.72" width="83.8" height="3.54" fill="#04b6ce"/>
<rect x="1138.7" y="510.78" width="83.8" height="3.54" fill="#02b7cc"/>
<rect x="1138.7" y="507.84" width="83.8" height="3.54" fill="#01b7ca"/>
<rect x="1138.7" y="504.91" width="83.8" height="3.54" fill="#00b8c9"/>
<rect x="1138.7" y="501.97" width="83.8" height="3.54" fill="#00b9c7"/>
<rect x="1138.7" y="499.03" width="83.8" height="3.54" fill="#00bac6"/>
<rect x="1138.7" y="496.09" width="83.8" height="3.54" fill="#01bac4"/>
<rect x="1138.7" y="493.15" width="83.8" height="3.54" fill="#02bbc2"/>
<rect x="1138.7" y="490.21" width="83.8" height="3.54" fill="#04bbc1"/>
<rect x="1138.7" y="487.27" width="83.8" height="3.54" fill="#06bcbf"/>
<rect x="1138.7" y="484.33" width="83.8" height="3.54" fill="#09bdbd"/>
<rect x="1138.7" y="481.39" width="83.8" height="3.54" fill="#0dbdbc"/>
<rect x="1138.7" y="478.45" width="83.8" height="3.54" fill="#10beba"/>
<rect x="1138.7" y="475.51" width="83.8" height="3.54" fill="#14beb8"/>
<rect x="1138.7" y="472.57" width="83.8" height="3.54" fill="#17bfb6"/>
<rect x="1138.7" y="469.63" width="83.8" height="3.54" fill="#1ac0b5"/>
<rect x="1138.7" y="466.69" width="83.8" height="3.54" fill="#1dc0b3"/>
<rect x="1138.7" y="463.75" width="83.8" height="3.54" fill="#20c1b1"/>
<rect x="1138.7" y="460.81" width="83.8" height="3.54" fill="#23c1af"/>
<rect x="1138.7" y="457.87" width="83.8" height="3.54" fill="#25c2ae"/>
<rect x="1138.7" y="454.93" width="83.8" height="3.54" fill="#27c2ac"/>
<rect x="1138.7" y="451.99" width="83.8" height="3.54" fill="#29c3aa"/>
<rect x="1138.7" y="449.06" width="83.8" height="3.54" fill="#2bc3a8"/>
<rect x="1138.7" y="446.12" width="83.8" height="3.54" fill="#2cc4a6"/>
<rect x="1138.7" y="443.18" width="83.8" height="3.54" fill="#2ec4a5"/>
<rect x="1138.7" y="440.24" width="83.8" height="3.54" fill="#2fc5a3"/>
<rect x="1138.7" y="437.30" width="83.8" height="3.54" fill="#31c5a1"/>
<rect x="1138.7" y="434.36" width="83.8" height="3.54" fill="#32c69f"/>
<rect x="1138.7" y="431.42" width="83.8" height="3.54" fill="#33c79d"/>
<rect x="1138.7" y="428.48" width="83.8" height="3.54" fill="#35c79b"/>
<rect x="1138.7" y="425.54" width="83.8" height="3.54" fill="#36c899"/>
<rect x="1138.7" y="422.60" width="83.8" height="3.54" fill="#38c896"/>
<rect x="1138.7" y="419.66" width="83.8" height="3.54" fill="#39c994"/>
<rect x="1138.7" y="416.72" width="83.8" height="3.54" fill="#3bc992"/>
<rect x="1138.7" y="413.78" width="83.8" height="3.54" fill="#3dca90"/>
<rect x="1138.7" y="410.84" width="83.8" height="3.54" fill="#40ca8d"/>
<rect x="1138.7" y="407.90" width="83.8" height="3.54" fill="#42ca8b"/>
<rect x="1138.7" y="404.96" width="83.8" height="3.54" fill="#45cb89"/>
<rect x="1138.7" y="402.02" width="83.8" height="3.54" fill="#48cb86"/>
<rect x="1138.7" y="399.08" width="83.8" height="3.54" fill="#4bcb84"/>
<rect x="1138.7" y="396.15" width="83.8" height="3.54" fill="#4ecc81"/>
<rect x="1138.7" y="393.21" width="83.8" height="3.54" fill="#51cc7f"/>
<rect x="1138.7" y="390.27" width="83.8" height="3.54" fill="#54cc7c"/>
<rect x="1138.7" y="387.33" width="83.8" height="3.54" fill="#57cc7a"/>
<rect x="1138.7" y="384.39" width="83.8" height="3.54" fill="#5acc77"/>
<rect x="1138.7" y="381.45" width="83.8" height="3.54" fill="#5ecd74"/>
<rect x="1138.7" y="378.51" width="83.8" height="3.54" fill="#61cd72"/>
<rect x="1138.7" y="375.57" width="83.8" height="3.54" fill="#64cd6f"/>
<rect x="1138.7" y="372.63" width="83.8" height="3.54" fill="#67cd6c"/>
<rect x="1138.7" y="369.69" width="83.8" height="3.54" fill="#6bcd69"/>
<rect x="1138.7" y="366.75" width="83.8" height="3.54" fill="#6ecd66"/>
<rect x="1138.7" y="363.81" width="83.8" height="3.54" fill="#72cd64"/>
<rect x="1138.7" y="360.87" width="83.8" height="3.54" fill="#76cc61"/>
<rect x="1138.7" y="357.93" width="83.8" height="3.54" fill="#79cc5e"/>
<rect x="1138.7" y="354.99" width="83.8" height="3.54" fill="#7dcc5b"/>
<rect x="1138.7" y="352.05" width="83.8" height="3.54" fill="#81cc59"/>
<rect x="1138.7" y="349.11" width="83.8" height="3.54" fill="#84cc56"/>
<rect x="1138.7" y="346.17" width="83.8" height="3.54" fill="#88cb53"/>
<rect x="1138.7" y="343.24" width="83.8" height="3.54" fill="#8bcb51"/>
<rect x="1138.7" y="340.30" width="83.8" height="3.54" fill="#8fcb4e"/>
<rect x="1138.7" y="337.36" width="83.8" height="3.54" fill="#93ca4b"/>
<rect x="1138.7" y="334.42" width="83.8" height="3.54" fill="#96ca48"/>
<rect x="1138.7" y="331.48" width="83.8" height="3.54" fill="#9ac946"/>
<rect x="1138.7" y="328.54" width="83.8" height="3.54" fill="#9dc943"/>
<rect x="1138.7" y="325.60" width="83.8" height="3.54" fill="#a1c840"/>
<rect x="1138.7" y="322.66" width="83.8" height="3.54" fill="#a4c83e"/>
<rect x="1138.7" y="319.72" width="83.8" height="3.54" fill="#a7c73b"/>
<rect x="1138.7" y="316.78" width="83.8" height="3.54" fill="#abc739"/>
<rect x="1138.7" y="313.84" width="83.8" height="3.54" fill="#aec637"/>
<rect x="1138.7" y="310.90" width="83.8" height="3.54" fill="#b2c635"/>
<rect x="1138.7" y="307.96" width="83.8" height="3.54" fill="#b5c533"/>
<rect x="1138.7" y="305.02" width="83.8" height="3.54" fill="#b8c431"/>
<rect x="1138.7" y="302.08" width="83.8" height="3.54" fill="#bbc42f"/>
<rect x="1138.7" y="299.14" width="83.8" height="3.54" fill="#bec32d"/>
<rect x="1138.7" y="296.20" width="83.8" height="3.54" fill="#c2c32c"/>
<rect x="1138.7" y="293.26" width="83.8" height="3.54" fill="#c5c22a"/>
<rect x="1138.7" y="290.33" width="83.8" height="3.54" fill="#c8c129"/>
<rect x="1138.7" y="287.39" width="83.8" height="3.54" fill="#cbc128"/>
<rect x="1138.7" y="284.45" width="83.8" height="3.54" fill="#cec027"/>
<rect x="1138.7" y="281.51" width="83.8" height="3.54" fill="#d0bf27"/>
<rect x="1138.7" y="278.57" width="83.8" height="3.54" fill="#d3bf27"/>
<rect x="1138.7" y="275.63" width="83.8" height="3.54" fill="#d6be27"/>
<rect x="1138.7" y="272.69" width="83.8" height="3.54" fill="#d9be28"/>
<rect x="1138.7" y="269.75" width="83.8" height="3.54" fill="#dbbd28"/>
<rect x="1138.7" y="266.81" width="83.8" height="3.54" fill="#debc29"/>
<rect x="1138.7" y="263.87" width="83.8" height="3.54" fill="#e1bc2a"/>
<rect x="1138.7" y="260.93" width="83.8" height="3.54" fill="#e3bc2b"/>
<rect x="1138.7" y="257.99" width="83.8" height="3.54" fill="#e6bb2d"/>
<rect x="1138.7" y="255.05" width="83.8" height="3.54" fill="#e8bb2e"/>
<rect x="1138.7" y="252.11" width="83.8" height="3.54" fill="#eaba30"/>
<rect x="1138.7" y="249.17" width="83.8" height="3.54" fill="#ecba32"/>
<rect x="1138.7" y="246.23" width="83.8" height="3.54" fill="#efba35"/>
<rect x="1138.7" y="243.29" width="83.8" height="3.54" fill="#f1ba37"/>
<rect x="1138.7" y="240.35" width="83.8" height="3.54" fill="#f3ba39"/>
<rect x="1138.7" y="237.41" width="83.8" height="3.54" fill="#f5ba3b"/>
<rect x="1138.7" y="234.48" width="83.8" height="3.54" fill="#f7ba3d"/>
<rect x="1138.7" y="231.54" width="83.8" height="3.54" fill="#f9ba3e"/>
<rect x="1138.7" y="228.60" width="83.8" height="3.54" fill="#fbbb3e"/>
<rect x="1138.7" y="225.66" width="83.8" height="3.54" fill="#fcbc3e"/>
<rect x="1138.7" y="222.72" width="83.8" height="3.54" fill="#febd3d"/>
<rect x="1138.7" y="219.78" width="83.8" height="3.54" fill="#febe3c"/>
<rect x="1138.7" y="216.84" width="83.8" height="3.54" fill="#fec03b"/>
<rect x="1138.7" y="213.90" width="83.8" height="3.54" fill="#fec13a"/>
<rect x="1138.7" y="210.96" width="83.8" height="3.54" fill="#fec239"/>
<rect x="1138.7" y="208.02" width="83.8" height="3.54" fill="#fec438"/>
<rect x="1138.7" y="205.08" width="83.8" height="3.54" fill="#fec537"/>
<rect x="1138.7" y="202.14" width="83.8" height="3.54" fill="#fec735"/>
<rect x="1138.7" y="199.20" width="83.8" height="3.54" fill="#fec834"/>
<rect x="1138.7" y="196.26" width="83.8" height="3.54" fill="#feca33"/>
<rect x="1138.7" y="193.32" width="83.8" height="3.54" fill="#fdcb32"/>
<rect x="1138.7" y="190.38" width="83.8" height="3.54" fill="#fdcd31"/>
<rect x="1138.7" y="187.44" width="83.8" height="3.54" fill="#fdce31"/>
<rect x="1138.7" y="184.50" width="83.8" height="3.54" fill="#fcd030"/>
<rect x="1138.7" y="181.57" width="83.8" height="3.54" fill="#fbd22f"/>
<rect x="1138.7" y="178.63" width="83.8" height="3.54" fill="#fbd32e"/>
<rect x="1138.7" y="175.69" width="83.8" height="3.54" fill="#fad52e"/>
<rect x="1138.7" y="172.75" width="83.8" height="3.54" fill="#f9d62d"/>
<rect x="1138.7" y="169.81" width="83.8" height="3.54" fill="#f9d82c"/>
<rect x="1138.7" y="166.87" width="83.8" height="3.54" fill="#f8d92b"/>
<rect x="1138.7" y="163.93" width="83.8" height="3.54" fill="#f7db2a"/>
<rect x="1138.7" y="160.99" width="83.8" height="3.54" fill="#f7dd2a"/>
<rect x="1138.7" y="158.05" width="83.8" height="3.54" fill="#f6de29"/>
<rect x="1138.7" y="155.11" width="83.8" height="3.54" fill="#f6e028"/>
<rect x="1138.7" y="152.17" width="83.8" height="3.54" fill="#f5e128"/>
<rect x="1138.7" y="149.23" width="83.8" height="3.54" fill="#f5e327"/>
<rect x="1138.7" y="146.29" width="83.8" height="3.54" fill="#f5e526"/>
<rect x="1138.7" y="143.35" width="83.8" height="3.54" fill="#f5e626"/>
<rect x="1138.7" y="140.41" width="83.8" height="3.54" fill="#f5e825"/>
<rect x="1138.7" y="137.47" width="83.8" height="3.54" fill="#f5e924"/>
<rect x="1138.7" y="134.53" width="83.8" height="3.54" fill="#f5eb23"/>
<rect x="1138.7" y="131.59" width="83.8" height="3.54" fill="#f5ec22"/>
<rect x="1138.7" y="128.66" width="83.8" height="3.54" fill="#f5ee21"/>
<rect x="1138.7" y="125.72" width="83.8" height="3.54" fill="#f6ef20"/>
<rect x="1138.7" y="122.78" width="83.8" height="3.54" fill="#f6f11f"/>
<rect x="1138.7" y="119.84" width="83.8" height="3.54" fill="#f6f21e"/>
<rect x="1138.7" y="116.90" width="83.8" height="3.54" fill="#f7f41c"/>
<rect x="1138.7" y="113.96" width="83.8" height="3.54" fill="#f7f51b"/>
<rect x="1138.7" y="111.02" width="83.8" height="3.54" fill="#f8f71a"/>
<rect x="1138.7" y="108.08" width="83.8" height="3.54" fill="#f8f818"/>
<rect x="1138.7" y="105.14" width="83.8" height="3.54" fill="#f9f916"/>
<rect x="1138.7" y="102.20" width="83.8" height="3.54" fill="#f9fb15"/>
</g>
<path d="M1222.5 757.1h-9M1222.5 659.5h-9M1222.5 561.9h-9M1222.5 464.3h-9M1222.5 366.7h-9M1222.5 269.1h-9M1222.5 171.5h-9" stroke="#262626" stroke-width="2.3" fill="none"/>
<rect x="1138.7" y="102.2" width="83.8" height="752.5" fill="none" stroke="#262626" stroke-width="2.4"/>
<g font-size="39">
<text x="1238.4" y="770.9">100</text>
<text x="1238.4" y="673.3">200</text>
<text x="1238.4" y="575.7">300</text>
<text x="1238.4" y="478.1">400</text>
<text x="1238.4" y="380.5">500</text>
<text x="1238.4" y="282.9">600</text>
<text x="1238.4" y="185.3">700</text>
</g>
</svg></body></html>
